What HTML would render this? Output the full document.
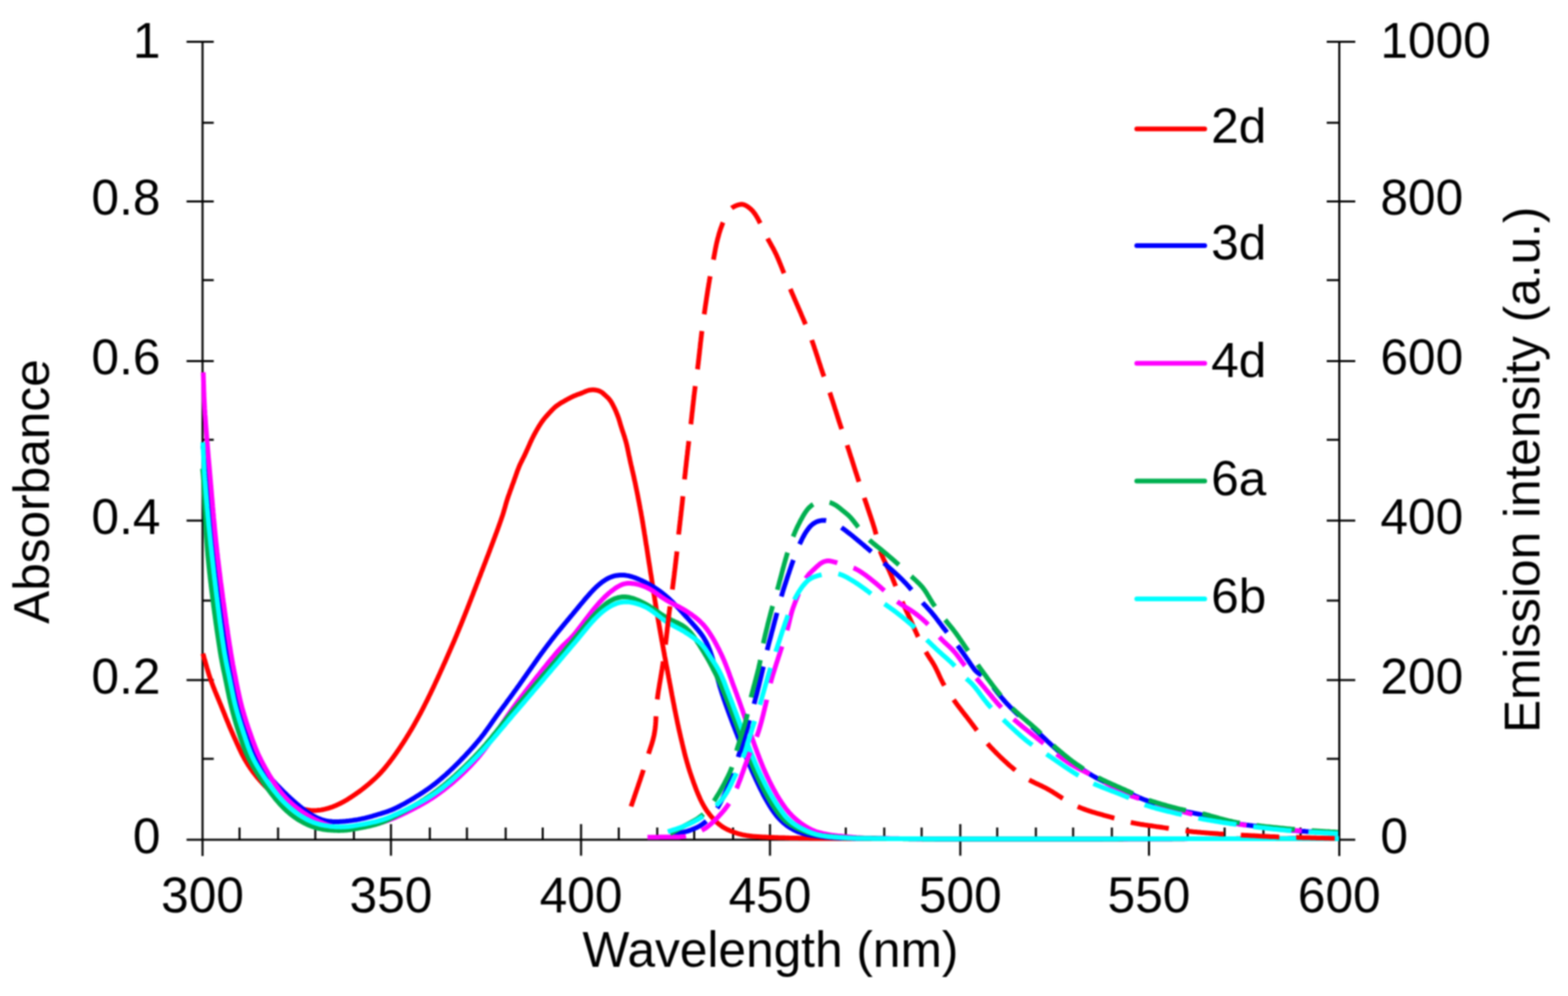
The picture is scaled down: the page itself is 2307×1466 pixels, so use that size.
<!DOCTYPE html>
<html><head><meta charset="utf-8"><title>Absorbance and emission spectra</title>
<style>
html,body{margin:0;padding:0;background:#fff;}
body{width:2307px;height:1466px;overflow:hidden;}
svg{display:block;filter:blur(0.8px);}
text{font-family:"Liberation Sans",Arial,sans-serif;fill:#000;}
</style></head><body>
<svg width="2307" height="1466" viewBox="0 0 2307 1466">
<rect width="2307" height="1466" fill="#fff"/>
<g stroke="#000" stroke-width="3" fill="none">
<line x1="298" y1="60" x2="298" y2="1260" />
<line x1="1970.5" y1="60" x2="1970.5" y2="1260" />
<line x1="274.5" y1="1236" x2="1971" y2="1236" />
<line x1="1952" y1="1236.0" x2="1994" y2="1236.0" />
<line x1="298" y1="1116.9" x2="314.5" y2="1116.9" />
<line x1="1952" y1="1116.9" x2="1970.5" y2="1116.9" />
<line x1="274.5" y1="1001.1" x2="314.5" y2="1001.1" />
<line x1="1952" y1="1001.1" x2="1994" y2="1001.1" />
<line x1="298" y1="884.0" x2="314.5" y2="884.0" />
<line x1="1952" y1="884.0" x2="1970.5" y2="884.0" />
<line x1="274.5" y1="766.3" x2="314.5" y2="766.3" />
<line x1="1952" y1="766.3" x2="1994" y2="766.3" />
<line x1="298" y1="647.3" x2="314.5" y2="647.3" />
<line x1="1952" y1="647.3" x2="1970.5" y2="647.3" />
<line x1="274.5" y1="531.4" x2="314.5" y2="531.4" />
<line x1="1952" y1="531.4" x2="1994" y2="531.4" />
<line x1="298" y1="412.3" x2="314.5" y2="412.3" />
<line x1="1952" y1="412.3" x2="1970.5" y2="412.3" />
<line x1="274.5" y1="296.5" x2="314.5" y2="296.5" />
<line x1="1952" y1="296.5" x2="1994" y2="296.5" />
<line x1="298" y1="180.7" x2="314.5" y2="180.7" />
<line x1="1952" y1="180.7" x2="1970.5" y2="180.7" />
<line x1="274.5" y1="61.6" x2="314.5" y2="61.6" />
<line x1="1952" y1="61.6" x2="1994" y2="61.6" />
<line x1="352.4" y1="1218" x2="352.4" y2="1236" />
<line x1="409.1" y1="1218" x2="409.1" y2="1236" />
<line x1="463.9" y1="1218" x2="463.9" y2="1236" />
<line x1="520.7" y1="1218" x2="520.7" y2="1236" />
<line x1="575.2" y1="1213" x2="575.2" y2="1259.5" />
<line x1="632.4" y1="1218" x2="632.4" y2="1236" />
<line x1="687.0" y1="1218" x2="687.0" y2="1236" />
<line x1="744.0" y1="1218" x2="744.0" y2="1236" />
<line x1="798.5" y1="1218" x2="798.5" y2="1236" />
<line x1="854.9" y1="1213" x2="854.9" y2="1259.5" />
<line x1="910.4" y1="1218" x2="910.4" y2="1236" />
<line x1="967.0" y1="1218" x2="967.0" y2="1236" />
<line x1="1021.4" y1="1218" x2="1021.4" y2="1236" />
<line x1="1078.6" y1="1218" x2="1078.6" y2="1236" />
<line x1="1132.9" y1="1213" x2="1132.9" y2="1259.5" />
<line x1="1189.9" y1="1218" x2="1189.9" y2="1236" />
<line x1="1244.4" y1="1218" x2="1244.4" y2="1236" />
<line x1="1301.0" y1="1218" x2="1301.0" y2="1236" />
<line x1="1356.0" y1="1218" x2="1356.0" y2="1236" />
<line x1="1412.9" y1="1213" x2="1412.9" y2="1259.5" />
<line x1="1467.2" y1="1218" x2="1467.2" y2="1236" />
<line x1="1524.1" y1="1218" x2="1524.1" y2="1236" />
<line x1="1578.9" y1="1218" x2="1578.9" y2="1236" />
<line x1="1635.9" y1="1218" x2="1635.9" y2="1236" />
<line x1="1690.5" y1="1213" x2="1690.5" y2="1259.5" />
<line x1="1747.4" y1="1218" x2="1747.4" y2="1236" />
<line x1="1801.8" y1="1218" x2="1801.8" y2="1236" />
<line x1="1858.9" y1="1218" x2="1858.9" y2="1236" />
<line x1="1913.5" y1="1218" x2="1913.5" y2="1236" />
</g>
<path d="M298.5,962.0L299.1,963.9 299.6,965.8 300.2,967.8 300.7,969.7 301.3,971.6 301.8,973.5 302.3,975.5 302.9,977.4 303.4,979.3 304.0,981.2 304.5,983.2 305.1,985.1 305.7,987.0 306.2,988.9 306.8,990.8 307.4,992.7 308.0,994.6 308.6,996.5 309.3,998.4 309.9,1000.3 310.6,1002.2 311.3,1004.1 312.0,1006.0 312.7,1007.8 313.4,1009.7 314.1,1011.6 314.9,1013.4 315.6,1015.3 316.3,1017.1 317.1,1019.0 317.9,1020.8 318.6,1022.7 319.4,1024.5 320.2,1026.4 320.9,1028.2 321.7,1030.1 322.5,1031.9 323.2,1033.8 324.0,1035.6 324.8,1037.5 325.5,1039.3 326.3,1041.2 327.0,1043.0 327.8,1044.9 328.5,1046.7 329.3,1048.6 330.0,1050.4 330.8,1052.3 331.5,1054.2 332.2,1056.0 333.0,1057.9 333.7,1059.7 334.5,1061.6 335.3,1063.4 336.0,1065.3 336.8,1067.1 337.5,1069.0 338.3,1070.8 339.1,1072.7 339.9,1074.5 340.7,1076.3 341.5,1078.2 342.3,1080.0 343.1,1081.8 343.9,1083.6 344.7,1085.5 345.5,1087.3 346.4,1089.1 347.2,1091.0 348.0,1092.8 348.8,1094.6 349.6,1096.4 350.5,1098.2 351.3,1100.1 352.1,1101.9 353.0,1103.7 353.9,1105.5 354.7,1107.3 355.6,1109.1 356.5,1110.9 357.4,1112.6 358.4,1114.4 359.3,1116.2 360.3,1117.9 361.3,1119.6 362.3,1121.4 363.4,1123.1 364.4,1124.8 365.5,1126.5 366.6,1128.1 367.7,1129.8 368.8,1131.4 370.0,1133.1 371.1,1134.7 372.3,1136.3 373.5,1137.9 374.8,1139.5 376.0,1141.1 377.2,1142.6 378.5,1144.2 379.8,1145.7 381.1,1147.2 382.4,1148.7 383.7,1150.2 385.1,1151.7 386.4,1153.2 387.8,1154.6 389.2,1156.0 390.6,1157.5 392.1,1158.9 393.5,1160.2 395.0,1161.6 396.5,1162.9 398.0,1164.3 399.5,1165.6 401.0,1166.8 402.6,1168.1 404.2,1169.3 405.7,1170.6 407.3,1171.7 409.0,1172.9 410.6,1174.1 412.3,1175.2 413.9,1176.3 415.6,1177.4 417.3,1178.4 419.0,1179.4 420.8,1180.4 422.5,1181.4 424.3,1182.3 426.1,1183.2 427.9,1184.1 429.7,1184.9 431.5,1185.8 433.4,1186.5 435.2,1187.3 437.1,1188.0 439.0,1188.6 440.9,1189.2 442.8,1189.8 444.7,1190.4 446.6,1190.9 448.6,1191.4 450.5,1191.8 452.5,1192.1 454.5,1192.4 456.5,1192.7 458.5,1192.9 460.5,1193.0 462.5,1193.0 464.4,1192.9 466.4,1192.8 468.4,1192.6 470.4,1192.4 472.4,1192.1 474.4,1191.7 476.3,1191.3 478.3,1190.9 480.2,1190.4 482.1,1189.9 484.1,1189.3 486.0,1188.7 487.9,1188.1 489.7,1187.4 491.6,1186.6 493.4,1185.9 495.3,1185.1 497.1,1184.2 498.9,1183.4 500.7,1182.5 502.5,1181.6 504.3,1180.7 506.0,1179.7 507.7,1178.7 509.5,1177.7 511.2,1176.7 512.9,1175.6 514.6,1174.6 516.2,1173.5 517.9,1172.4 519.6,1171.3 521.2,1170.1 522.9,1169.0 524.5,1167.9 526.2,1166.7 527.8,1165.6 529.4,1164.4 531.0,1163.2 532.6,1162.0 534.2,1160.8 535.8,1159.5 537.3,1158.3 538.9,1157.0 540.4,1155.7 542.0,1154.5 543.5,1153.2 545.0,1151.9 546.5,1150.5 548.0,1149.2 549.5,1147.9 551.0,1146.5 552.4,1145.2 553.9,1143.8 555.3,1142.4 556.7,1141.0 558.1,1139.5 559.5,1138.1 560.8,1136.6 562.1,1135.1 563.5,1133.6 564.8,1132.1 566.1,1130.6 567.4,1129.0 568.6,1127.5 569.9,1125.9 571.1,1124.4 572.4,1122.8 573.6,1121.2 574.8,1119.6 576.0,1118.0 577.2,1116.4 578.4,1114.8 579.6,1113.2 580.7,1111.6 581.9,1109.9 583.0,1108.3 584.2,1106.7 585.3,1105.0 586.5,1103.4 587.6,1101.7 588.7,1100.1 589.8,1098.4 590.9,1096.7 592.0,1095.0 593.1,1093.4 594.2,1091.7 595.2,1090.0 596.3,1088.3 597.4,1086.6 598.4,1084.9 599.5,1083.2 600.5,1081.5 601.6,1079.8 602.6,1078.1 603.6,1076.4 604.7,1074.7 605.7,1072.9 606.7,1071.2 607.7,1069.5 608.7,1067.7 609.7,1066.0 610.7,1064.3 611.6,1062.5 612.6,1060.8 613.6,1059.0 614.6,1057.3 615.5,1055.5 616.5,1053.8 617.4,1052.0 618.4,1050.2 619.3,1048.5 620.2,1046.7 621.2,1044.9 622.1,1043.2 623.0,1041.4 623.9,1039.6 624.8,1037.8 625.7,1036.0 626.6,1034.2 627.5,1032.5 628.4,1030.7 629.3,1028.9 630.2,1027.1 631.0,1025.3 631.9,1023.5 632.8,1021.7 633.7,1019.9 634.5,1018.1 635.4,1016.3 636.2,1014.5 637.1,1012.7 638.0,1010.9 638.8,1009.0 639.7,1007.2 640.5,1005.4 641.3,1003.6 642.2,1001.8 643.0,1000.0 643.9,998.2 644.7,996.3 645.5,994.5 646.4,992.7 647.2,990.9 648.0,989.1 648.8,987.2 649.7,985.4 650.5,983.6 651.3,981.8 652.1,979.9 652.9,978.1 653.8,976.3 654.6,974.5 655.4,972.6 656.2,970.8 657.0,969.0 657.8,967.1 658.6,965.3 659.4,963.5 660.2,961.7 661.0,959.8 661.8,958.0 662.6,956.2 663.4,954.3 664.2,952.5 665.0,950.7 665.8,948.8 666.6,947.0 667.4,945.1 668.2,943.3 669.0,941.5 669.7,939.6 670.5,937.8 671.3,935.9 672.1,934.1 672.8,932.2 673.6,930.4 674.4,928.6 675.1,926.7 675.9,924.9 676.6,923.0 677.4,921.2 678.2,919.3 678.9,917.4 679.7,915.6 680.4,913.7 681.2,911.9 681.9,910.0 682.6,908.2 683.4,906.3 684.1,904.5 684.9,902.6 685.6,900.7 686.3,898.9 687.1,897.0 687.8,895.2 688.5,893.3 689.3,891.4 690.0,889.6 690.7,887.7 691.4,885.8 692.2,884.0 692.9,882.1 693.6,880.2 694.3,878.4 695.1,876.5 695.8,874.7 696.5,872.8 697.2,870.9 697.9,869.1 698.7,867.2 699.4,865.3 700.1,863.5 700.8,861.6 701.5,859.7 702.3,857.9 703.0,856.0 703.7,854.1 704.4,852.3 705.1,850.4 705.9,848.5 706.6,846.7 707.3,844.8 708.0,842.9 708.7,841.1 709.5,839.2 710.2,837.3 710.9,835.5 711.6,833.6 712.3,831.7 713.1,829.9 713.8,828.0 714.5,826.1 715.2,824.3 715.9,822.4 716.6,820.5 717.3,818.7 718.1,816.8 718.8,814.9 719.5,813.1 720.2,811.2 720.9,809.3 721.6,807.4 722.3,805.6 723.0,803.7 723.7,801.8 724.4,800.0 725.1,798.1 725.8,796.2 726.5,794.3 727.2,792.5 727.9,790.6 728.6,788.7 729.3,786.8 730.0,785.0 730.7,783.1 731.4,781.2 732.1,779.3 732.8,777.4 733.4,775.6 734.1,773.7 734.8,771.8 735.5,769.9 736.1,768.0 736.8,766.1 737.4,764.3 738.1,762.4 738.7,760.5 739.4,758.6 740.0,756.7 740.6,754.8 741.2,752.8 741.7,750.9 742.3,749.0 742.8,747.1 743.4,745.2 743.9,743.2 744.5,741.3 745.0,739.4 745.6,737.5 746.2,735.6 746.8,733.7 747.5,731.8 748.1,729.9 748.8,728.0 749.5,726.1 750.1,724.2 750.8,722.3 751.5,720.5 752.2,718.6 752.9,716.7 753.5,714.8 754.2,713.0 754.9,711.1 755.6,709.2 756.3,707.3 756.9,705.4 757.6,703.5 758.3,701.6 758.9,699.8 759.6,697.9 760.3,696.0 760.9,694.1 761.6,692.2 762.4,690.4 763.1,688.5 763.8,686.7 764.6,684.8 765.4,683.0 766.3,681.2 767.2,679.4 768.1,677.6 769.0,675.8 769.9,674.0 770.8,672.2 771.7,670.5 772.5,668.6 773.4,666.8 774.2,665.0 775.0,663.2 775.8,661.4 776.7,659.5 777.5,657.7 778.3,655.9 779.1,654.1 779.9,652.2 780.7,650.4 781.6,648.6 782.4,646.8 783.3,645.0 784.2,643.2 785.1,641.4 786.0,639.6 787.0,637.9 787.9,636.1 788.9,634.4 789.9,632.6 790.9,630.9 791.9,629.2 792.9,627.5 794.0,625.8 795.1,624.1 796.2,622.4 797.3,620.8 798.5,619.2 799.7,617.6 800.9,616.0 802.2,614.5 803.5,613.0 804.9,611.5 806.2,610.0 807.6,608.5 808.9,607.0 810.3,605.6 811.6,604.1 813.0,602.7 814.5,601.3 815.9,599.9 817.4,598.6 819.0,597.4 820.6,596.2 822.3,595.1 823.9,594.0 825.6,592.9 827.4,591.9 829.1,590.9 830.8,589.9 832.6,589.0 834.3,588.0 836.1,587.0 837.9,586.1 839.6,585.2 841.4,584.3 843.2,583.4 845.1,582.6 846.9,581.9 848.8,581.1 850.6,580.4 852.5,579.8 854.4,579.1 856.3,578.4 858.1,577.6 860.0,576.8 861.8,576.0 863.7,575.3 865.5,574.7 867.5,574.2 869.4,573.9 871.4,573.8 873.4,573.8 875.4,574.0 877.4,574.3 879.3,574.7 881.2,575.3 883.0,576.1 884.7,577.0 886.4,578.2 887.9,579.5 889.4,580.8 890.9,582.1 892.3,583.5 893.8,584.9 895.2,586.3 896.5,587.8 897.7,589.4 898.9,591.0 899.9,592.7 900.9,594.4 901.8,596.2 902.7,598.0 903.6,599.8 904.5,601.6 905.3,603.4 906.1,605.2 906.9,607.1 907.6,608.9 908.4,610.8 909.1,612.7 909.8,614.5 910.4,616.4 911.0,618.3 911.6,620.3 912.2,622.2 912.7,624.1 913.3,626.0 913.9,627.9 914.5,629.8 915.1,631.7 915.7,633.6 916.3,635.5 917.0,637.4 917.6,639.3 918.2,641.2 918.9,643.1 919.4,645.0 920.0,647.0 920.6,648.9 921.1,650.8 921.6,652.7 922.1,654.7 922.5,656.6 923.0,658.6 923.4,660.5 923.8,662.5 924.2,664.4 924.6,666.4 925.0,668.4 925.4,670.3 925.9,672.3 926.3,674.2 926.7,676.2 927.1,678.1 927.5,680.1 928.0,682.1 928.4,684.0 928.9,686.0 929.3,687.9 929.8,689.9 930.2,691.8 930.7,693.7 931.1,695.7 931.6,697.6 932.0,699.6 932.5,701.5 932.9,703.5 933.3,705.5 933.7,707.4 934.2,709.4 934.6,711.3 935.0,713.3 935.4,715.2 935.8,717.2 936.2,719.2 936.6,721.1 937.0,723.1 937.4,725.0 937.8,727.0 938.2,729.0 938.6,730.9 938.9,732.9 939.3,734.8 939.7,736.8 940.1,738.8 940.5,740.7 940.8,742.7 941.2,744.7 941.6,746.6 941.9,748.6 942.3,750.6 942.7,752.5 943.0,754.5 943.4,756.5 943.7,758.4 944.1,760.4 944.4,762.4 944.8,764.3 945.1,766.3 945.4,768.3 945.8,770.3 946.1,772.2 946.4,774.2 946.7,776.2 947.1,778.2 947.4,780.1 947.7,782.1 948.0,784.1 948.3,786.1 948.7,788.0 949.0,790.0 949.3,792.0 949.6,794.0 949.9,795.9 950.2,797.9 950.5,799.9 950.8,801.9 951.2,803.8 951.5,805.8 951.8,807.8 952.1,809.8 952.4,811.7 952.7,813.7 953.0,815.7 953.3,817.7 953.6,819.6 953.9,821.6 954.2,823.6 954.5,825.6 954.8,827.5 955.1,829.5 955.5,831.5 955.8,833.5 956.1,835.4 956.4,837.4 956.7,839.4 957.0,841.4 957.3,843.4 957.6,845.3 958.0,847.3 958.3,849.3 958.6,851.3 958.9,853.2 959.2,855.2 959.5,857.2 959.8,859.2 960.1,861.1 960.4,863.1 960.7,865.1 961.0,867.1 961.3,869.0 961.6,871.0 961.9,873.0 962.2,875.0 962.6,876.9 962.9,878.9 963.2,880.9 963.5,882.9 963.8,884.8 964.1,886.8 964.4,888.8 964.8,890.8 965.1,892.7 965.4,894.7 965.7,896.7 966.1,898.7 966.4,900.6 966.7,902.6 967.1,904.6 967.4,906.6 967.8,908.5 968.1,910.5 968.4,912.5 968.8,914.4 969.1,916.4 969.5,918.4 969.8,920.3 970.1,922.3 970.5,924.3 970.8,926.3 971.2,928.2 971.5,930.2 971.9,932.2 972.2,934.1 972.6,936.1 972.9,938.1 973.3,940.0 973.6,942.0 974.0,944.0 974.4,945.9 974.7,947.9 975.1,949.9 975.4,951.8 975.8,953.8 976.1,955.8 976.5,957.8 976.9,959.7 977.2,961.7 977.6,963.7 977.9,965.6 978.3,967.6 978.7,969.6 979.0,971.5 979.4,973.5 979.8,975.5 980.1,977.4 980.5,979.4 980.9,981.4 981.2,983.3 981.6,985.3 982.0,987.2 982.4,989.2 982.7,991.2 983.1,993.1 983.5,995.1 983.8,997.1 984.2,999.0 984.6,1001.0 984.9,1003.0 985.3,1004.9 985.7,1006.9 986.1,1008.9 986.4,1010.8 986.8,1012.8 987.2,1014.8 987.5,1016.7 987.9,1018.7 988.3,1020.7 988.6,1022.6 989.0,1024.6 989.4,1026.6 989.8,1028.5 990.1,1030.5 990.5,1032.4 990.9,1034.4 991.3,1036.4 991.7,1038.3 992.0,1040.3 992.4,1042.3 992.8,1044.2 993.2,1046.2 993.6,1048.1 994.0,1050.1 994.4,1052.1 994.8,1054.0 995.2,1056.0 995.6,1057.9 996.0,1059.9 996.4,1061.9 996.8,1063.8 997.2,1065.8 997.7,1067.7 998.1,1069.7 998.5,1071.6 998.9,1073.6 999.4,1075.5 999.8,1077.5 1000.3,1079.4 1000.7,1081.4 1001.2,1083.3 1001.6,1085.3 1002.1,1087.2 1002.5,1089.2 1003.0,1091.1 1003.5,1093.1 1003.9,1095.0 1004.4,1097.0 1004.8,1098.9 1005.3,1100.9 1005.8,1102.8 1006.3,1104.7 1006.7,1106.7 1007.2,1108.6 1007.7,1110.6 1008.2,1112.5 1008.7,1114.4 1009.3,1116.4 1009.8,1118.3 1010.3,1120.2 1010.8,1122.1 1011.4,1124.1 1012.0,1126.0 1012.5,1127.9 1013.1,1129.8 1013.7,1131.7 1014.3,1133.6 1014.9,1135.5 1015.5,1137.4 1016.2,1139.3 1016.8,1141.2 1017.5,1143.1 1018.1,1145.0 1018.8,1146.9 1019.5,1148.8 1020.1,1150.7 1020.8,1152.6 1021.5,1154.4 1022.2,1156.3 1022.9,1158.2 1023.6,1160.1 1024.3,1161.9 1025.0,1163.8 1025.8,1165.6 1026.5,1167.5 1027.3,1169.3 1028.1,1171.2 1028.9,1173.0 1029.7,1174.8 1030.5,1176.7 1031.4,1178.5 1032.3,1180.3 1033.2,1182.0 1034.1,1183.8 1035.1,1185.6 1036.1,1187.3 1037.1,1189.0 1038.2,1190.7 1039.3,1192.4 1040.4,1194.0 1041.6,1195.6 1042.8,1197.2 1044.0,1198.8 1045.3,1200.4 1046.5,1201.9 1047.9,1203.4 1049.2,1204.9 1050.6,1206.3 1052.0,1207.7 1053.4,1209.1 1054.9,1210.5 1056.4,1211.8 1057.9,1213.1 1059.5,1214.3 1061.1,1215.5 1062.7,1216.7 1064.4,1217.8 1066.1,1218.8 1067.9,1219.7 1069.7,1220.7 1071.5,1221.5 1073.3,1222.3 1075.1,1223.1 1077.0,1223.8 1078.9,1224.6 1080.7,1225.2 1082.6,1225.9 1084.5,1226.5 1086.4,1227.1 1088.4,1227.6 1090.3,1228.1 1092.3,1228.6 1094.2,1229.0 1096.2,1229.3 1098.1,1229.7 1100.1,1230.0 1102.1,1230.3 1104.1,1230.5 1106.1,1230.8 1108.1,1231.0 1110.1,1231.2 1112.0,1231.3 1114.0,1231.5 1116.0,1231.6 1118.0,1231.7 1120.0,1231.8 1122.0,1231.9 1124.0,1232.0 1126.0,1232.1 1128.0,1232.2 1130.0,1232.3 1132.0,1232.4 1134.0,1232.4 1136.0,1232.5 1138.0,1232.6 1140.0,1232.7 1142.0,1232.7 1144.0,1232.8 1146.0,1232.9 1148.0,1232.9 1150.0,1233.0 1152.0,1233.1 1154.0,1233.1 1156.0,1233.2 1158.0,1233.3 1160.0,1233.3 1162.0,1233.4 1164.0,1233.4 1166.0,1233.5 1168.0,1233.5 1170.0,1233.6 1172.0,1233.6 1174.0,1233.6 1176.0,1233.7 1178.0,1233.7 1180.0,1233.7 1182.0,1233.8 1184.0,1233.8 1186.0,1233.8 1188.0,1233.8 1190.0,1233.8 1192.0,1233.9 1194.0,1233.9 1196.0,1233.9 1198.0,1233.9 1200.0,1233.9 1202.0,1233.9 1204.0,1234.0 1206.0,1234.0 1208.0,1234.0 1210.0,1234.0 1212.0,1234.0 1214.0,1234.0 1216.0,1234.0 1218.0,1234.0 1220.0,1234.0 1222.0,1234.0 1224.0,1234.1 1226.0,1234.1 1228.0,1234.1 1230.0,1234.1 1232.0,1234.1 1234.0,1234.1 1236.0,1234.1 1238.0,1234.1 1240.0,1234.1 1242.0,1234.2 1244.0,1234.2 1246.0,1234.2 1248.0,1234.2 1250.0,1234.2 1252.0,1234.2 1254.0,1234.2 1256.0,1234.2 1258.0,1234.2 1260.0,1234.3 1262.0,1234.3 1264.0,1234.3 1266.0,1234.3 1268.0,1234.3 1270.0,1234.3 1272.0,1234.3 1274.0,1234.3 1276.0,1234.3 1278.0,1234.3 1280.0,1234.3 1282.0,1234.3 1284.0,1234.4 1286.0,1234.4 1288.0,1234.4 1290.0,1234.4 1292.0,1234.4 1294.0,1234.4 1296.0,1234.4 1298.0,1234.4 1300.0,1234.4 1302.0,1234.4 1304.0,1234.4 1306.0,1234.4 1308.0,1234.4 1310.0,1234.4 1312.0,1234.4 1314.0,1234.4 1316.0,1234.4 1318.0,1234.5 1320.0,1234.5 1322.0,1234.5 1324.0,1234.5 1326.0,1234.5 1328.0,1234.5 1330.0,1234.5 1332.0,1234.5 1334.0,1234.5 1336.0,1234.5 1338.0,1234.5 1340.0,1234.5 1342.0,1234.5 1344.0,1234.5 1346.0,1234.5 1348.0,1234.5 1350.0,1234.5 1352.0,1234.5 1354.0,1234.5 1356.0,1234.5 1358.0,1234.5 1360.0,1234.5 1362.0,1234.5 1364.0,1234.5 1366.0,1234.5 1368.0,1234.5 1370.0,1234.5 1372.0,1234.5 1374.0,1234.5 1376.0,1234.5 1378.0,1234.5 1380.0,1234.5 1382.0,1234.5 1384.0,1234.5 1386.0,1234.5 1388.0,1234.5 1390.0,1234.5 1392.0,1234.6 1394.0,1234.6 1396.0,1234.6 1398.0,1234.6 1400.0,1234.6 1402.0,1234.6 1404.0,1234.6 1406.0,1234.6 1408.0,1234.6 1410.0,1234.6 1412.0,1234.6 1414.0,1234.6 1416.0,1234.6 1418.0,1234.6 1420.0,1234.6 1422.0,1234.6 1424.0,1234.6 1426.0,1234.6 1428.0,1234.6 1430.0,1234.6 1432.0,1234.6 1434.0,1234.6 1436.0,1234.6 1438.0,1234.6 1440.0,1234.6 1442.0,1234.6 1444.0,1234.6 1446.0,1234.6 1448.0,1234.6 1450.0,1234.6 1452.0,1234.6 1454.0,1234.6 1456.0,1234.6 1458.0,1234.6 1460.0,1234.6 1462.0,1234.6 1464.0,1234.6 1466.0,1234.6 1468.0,1234.6 1470.0,1234.6 1472.0,1234.6 1474.0,1234.6 1476.0,1234.6 1478.0,1234.6 1480.0,1234.6 1482.0,1234.6 1484.0,1234.6 1486.0,1234.6 1488.0,1234.6 1490.0,1234.6 1492.0,1234.6 1494.0,1234.6 1496.0,1234.6 1498.0,1234.6 1500.0,1234.6 1502.0,1234.6 1504.0,1234.6 1506.0,1234.6 1508.0,1234.6 1510.0,1234.6 1512.0,1234.6 1514.0,1234.6 1516.0,1234.6 1518.0,1234.6 1520.0,1234.6 1522.0,1234.6 1524.0,1234.6 1526.0,1234.6 1528.0,1234.6 1530.0,1234.6 1532.0,1234.6 1534.0,1234.6 1536.0,1234.6 1538.0,1234.6 1540.0,1234.5 1542.0,1234.5 1544.0,1234.5 1546.0,1234.5 1548.0,1234.5 1550.0,1234.5 1552.0,1234.5 1554.0,1234.5 1556.0,1234.5 1558.0,1234.5 1560.0,1234.5 1562.0,1234.5 1564.0,1234.5 1566.0,1234.5 1568.0,1234.5 1570.0,1234.5 1572.0,1234.5 1574.0,1234.5 1576.0,1234.5 1578.0,1234.5 1580.0,1234.5 1582.0,1234.5 1584.0,1234.5 1586.0,1234.5 1588.0,1234.5 1590.0,1234.5 1592.0,1234.5 1594.0,1234.5 1596.0,1234.5 1598.0,1234.5 1600.0,1234.5 1602.0,1234.5 1604.0,1234.5 1606.0,1234.5 1608.0,1234.5 1610.0,1234.5 1612.0,1234.5 1614.0,1234.5 1616.0,1234.5 1618.0,1234.5 1620.0,1234.5 1622.0,1234.5 1624.0,1234.5 1626.0,1234.5 1628.0,1234.5 1630.0,1234.5 1632.0,1234.5 1634.0,1234.5 1636.0,1234.5 1638.0,1234.5 1640.0,1234.5 1642.0,1234.5 1644.0,1234.5 1646.0,1234.5 1648.0,1234.5 1650.0,1234.5 1652.0,1234.5 1654.0,1234.5 1656.0,1234.5 1658.0,1234.5 1660.0,1234.5 1662.0,1234.5 1664.0,1234.5 1666.0,1234.5 1668.0,1234.5 1670.0,1234.5 1672.0,1234.5 1674.0,1234.5 1676.0,1234.5 1678.0,1234.5 1680.0,1234.5 1682.0,1234.5 1684.0,1234.5 1686.0,1234.5 1688.0,1234.4 1690.0,1234.4 1692.0,1234.4 1694.0,1234.4 1696.0,1234.4 1698.0,1234.4 1700.0,1234.4 1702.0,1234.4 1704.0,1234.4 1706.0,1234.4 1708.0,1234.4 1710.0,1234.4 1712.0,1234.4 1714.0,1234.4 1716.0,1234.4 1718.0,1234.4 1720.0,1234.4 1722.0,1234.4 1724.0,1234.4 1726.0,1234.4 1728.0,1234.4 1730.0,1234.4 1732.0,1234.4 1734.0,1234.4 1736.0,1234.4 1738.0,1234.4 1740.0,1234.4 1742.0,1234.4 1744.0,1234.4 1746.0,1234.4 1748.0,1234.4 1750.0,1234.4 1752.0,1234.4 1754.0,1234.4 1756.0,1234.4 1758.0,1234.4 1760.0,1234.4 1762.0,1234.4 1764.0,1234.4 1766.0,1234.4 1768.0,1234.4 1770.0,1234.4 1772.0,1234.4 1774.0,1234.4 1776.0,1234.4 1778.0,1234.4 1780.0,1234.4 1782.0,1234.4 1784.0,1234.4 1786.0,1234.4 1788.0,1234.4 1790.0,1234.4 1792.0,1234.4 1794.0,1234.4 1796.0,1234.4 1798.0,1234.4 1800.0,1234.4 1802.0,1234.4 1804.0,1234.4 1806.0,1234.4 1808.0,1234.4 1810.0,1234.4 1812.0,1234.4 1814.0,1234.4 1816.0,1234.4 1818.0,1234.4 1820.0,1234.3 1822.0,1234.3 1824.0,1234.3 1826.0,1234.3 1828.0,1234.3 1830.0,1234.3 1832.0,1234.3 1834.0,1234.3 1836.0,1234.3 1838.0,1234.3 1840.0,1234.3 1842.0,1234.3 1844.0,1234.3 1846.0,1234.3 1848.0,1234.3 1850.0,1234.3 1852.0,1234.3 1854.0,1234.3 1856.0,1234.3 1858.0,1234.3 1860.0,1234.3 1862.0,1234.3 1864.0,1234.3 1866.0,1234.3 1868.0,1234.3 1870.0,1234.3 1872.0,1234.3 1874.0,1234.3 1876.0,1234.3 1878.0,1234.3 1880.0,1234.3 1882.0,1234.3 1884.0,1234.3 1886.0,1234.3 1888.0,1234.3 1890.0,1234.3 1892.0,1234.3 1894.0,1234.3 1896.0,1234.3 1898.0,1234.3 1900.0,1234.3 1902.0,1234.3 1904.0,1234.3 1906.0,1234.3 1908.0,1234.3 1910.0,1234.3 1912.0,1234.3 1914.0,1234.3 1916.0,1234.3 1918.0,1234.3 1920.0,1234.3 1922.0,1234.3 1924.0,1234.3 1926.0,1234.3 1928.0,1234.3 1930.0,1234.3 1932.0,1234.3 1934.0,1234.3 1936.0,1234.3 1938.0,1234.3 1940.0,1234.3 1942.0,1234.3 1944.0,1234.3 1946.0,1234.3 1948.0,1234.3 1950.0,1234.3 1952.0,1234.3 1954.0,1234.3 1956.0,1234.3 1958.0,1234.3 1960.0,1234.3 1962.0,1234.3 1964.0,1234.3 1966.0,1234.3 1968.0,1234.3 1970.0,1234.3" stroke="#FF0000" stroke-width="7" fill="none" stroke-linejoin="round" stroke-linecap="butt"/>
<path d="M298.5,656.0L298.8,658.0 299.1,660.0 299.4,661.9 299.7,663.9 300.0,665.9 300.3,667.9 300.7,669.8 301.0,671.8 301.3,673.8 301.6,675.8 301.9,677.7 302.2,679.7 302.5,681.7 302.8,683.7 303.1,685.7 303.4,687.6 303.6,689.6 303.9,691.6 304.2,693.6 304.4,695.6 304.7,697.5 304.9,699.5 305.1,701.5 305.4,703.5 305.6,705.5 305.8,707.5 306.0,709.5 306.2,711.5 306.4,713.5 306.6,715.4 306.8,717.4 307.0,719.4 307.2,721.4 307.4,723.4 307.6,725.4 307.7,727.4 307.9,729.4 308.1,731.4 308.3,733.4 308.4,735.4 308.6,737.4 308.8,739.4 308.9,741.3 309.1,743.3 309.3,745.3 309.4,747.3 309.6,749.3 309.8,751.3 309.9,753.3 310.1,755.3 310.2,757.3 310.4,759.3 310.6,761.3 310.7,763.3 310.9,765.3 311.1,767.3 311.2,769.3 311.4,771.3 311.6,773.2 311.7,775.2 311.9,777.2 312.1,779.2 312.2,781.2 312.4,783.2 312.6,785.2 312.8,787.2 313.0,789.2 313.1,791.2 313.3,793.2 313.5,795.2 313.7,797.2 313.9,799.1 314.1,801.1 314.3,803.1 314.5,805.1 314.7,807.1 314.9,809.1 315.1,811.1 315.3,813.1 315.5,815.1 315.7,817.1 315.9,819.0 316.1,821.0 316.3,823.0 316.6,825.0 316.8,827.0 317.0,829.0 317.2,831.0 317.5,833.0 317.7,834.9 317.9,836.9 318.2,838.9 318.4,840.9 318.6,842.9 318.9,844.9 319.1,846.9 319.3,848.9 319.6,850.8 319.8,852.8 320.1,854.8 320.3,856.8 320.5,858.8 320.8,860.8 321.0,862.8 321.3,864.7 321.5,866.7 321.8,868.7 322.0,870.7 322.3,872.7 322.5,874.7 322.8,876.7 323.0,878.6 323.3,880.6 323.5,882.6 323.8,884.6 324.0,886.6 324.3,888.6 324.5,890.5 324.8,892.5 325.1,894.5 325.3,896.5 325.6,898.5 325.8,900.5 326.1,902.4 326.4,904.4 326.6,906.4 326.9,908.4 327.2,910.4 327.4,912.4 327.7,914.3 328.0,916.3 328.2,918.3 328.5,920.3 328.8,922.3 329.1,924.2 329.3,926.2 329.6,928.2 329.9,930.2 330.2,932.2 330.5,934.1 330.8,936.1 331.0,938.1 331.3,940.1 331.6,942.1 331.9,944.0 332.2,946.0 332.5,948.0 332.8,950.0 333.1,952.0 333.4,953.9 333.8,955.9 334.1,957.9 334.4,959.9 334.7,961.8 335.1,963.8 335.4,965.8 335.8,967.7 336.1,969.7 336.5,971.7 336.9,973.6 337.2,975.6 337.6,977.6 338.0,979.5 338.4,981.5 338.8,983.4 339.2,985.4 339.7,987.4 340.1,989.3 340.5,991.3 340.9,993.2 341.3,995.2 341.7,997.1 342.1,999.1 342.5,1001.1 342.9,1003.0 343.3,1005.0 343.6,1007.0 344.0,1008.9 344.4,1010.9 344.8,1012.9 345.1,1014.8 345.5,1016.8 345.9,1018.7 346.3,1020.7 346.7,1022.7 347.1,1024.6 347.5,1026.6 347.9,1028.6 348.3,1030.5 348.7,1032.5 349.2,1034.4 349.7,1036.4 350.1,1038.3 350.6,1040.2 351.1,1042.2 351.6,1044.1 352.2,1046.0 352.7,1048.0 353.3,1049.9 353.8,1051.8 354.4,1053.7 355.0,1055.6 355.6,1057.5 356.2,1059.4 356.8,1061.3 357.4,1063.3 358.0,1065.2 358.7,1067.1 359.3,1068.9 359.9,1070.8 360.6,1072.7 361.2,1074.6 361.9,1076.5 362.5,1078.4 363.2,1080.3 363.8,1082.2 364.5,1084.1 365.1,1086.0 365.8,1087.9 366.4,1089.8 367.0,1091.7 367.7,1093.6 368.3,1095.5 369.0,1097.3 369.6,1099.2 370.3,1101.1 371.0,1103.0 371.8,1104.8 372.5,1106.7 373.3,1108.5 374.1,1110.3 375.0,1112.2 375.9,1113.9 376.8,1115.7 377.7,1117.5 378.7,1119.2 379.8,1120.9 380.8,1122.6 381.9,1124.3 383.0,1125.9 384.2,1127.6 385.3,1129.2 386.5,1130.8 387.7,1132.4 388.9,1134.0 390.2,1135.6 391.4,1137.1 392.7,1138.7 393.9,1140.2 395.2,1141.8 396.5,1143.3 397.9,1144.8 399.2,1146.3 400.5,1147.8 401.9,1149.3 403.2,1150.7 404.6,1152.2 405.9,1153.7 407.3,1155.1 408.7,1156.6 410.1,1158.0 411.5,1159.4 412.9,1160.9 414.3,1162.3 415.7,1163.7 417.1,1165.1 418.5,1166.5 420.0,1167.9 421.4,1169.3 422.8,1170.7 424.3,1172.1 425.8,1173.4 427.2,1174.8 428.7,1176.1 430.2,1177.5 431.7,1178.8 433.2,1180.1 434.7,1181.5 436.2,1182.8 437.7,1184.1 439.2,1185.3 440.8,1186.6 442.3,1187.9 443.9,1189.1 445.5,1190.4 447.1,1191.6 448.7,1192.8 450.3,1194.0 451.9,1195.1 453.5,1196.3 455.2,1197.4 456.9,1198.5 458.6,1199.5 460.3,1200.5 462.0,1201.5 463.8,1202.4 465.6,1203.3 467.4,1204.1 469.2,1204.9 471.1,1205.6 473.0,1206.3 474.9,1206.9 476.8,1207.4 478.7,1207.9 480.7,1208.3 482.6,1208.6 484.6,1208.9 486.6,1209.1 488.6,1209.3 490.5,1209.4 492.5,1209.4 494.5,1209.4 496.5,1209.4 498.5,1209.4 500.5,1209.3 502.5,1209.2 504.5,1209.1 506.5,1208.9 508.5,1208.8 510.5,1208.6 512.5,1208.4 514.5,1208.1 516.5,1207.9 518.4,1207.6 520.4,1207.3 522.4,1207.0 524.4,1206.7 526.3,1206.4 528.3,1206.0 530.3,1205.6 532.2,1205.2 534.2,1204.8 536.1,1204.4 538.1,1203.9 540.0,1203.4 542.0,1202.9 543.9,1202.4 545.8,1201.8 547.7,1201.3 549.7,1200.7 551.6,1200.2 553.5,1199.6 555.4,1199.0 557.3,1198.4 559.2,1197.9 561.1,1197.3 563.1,1196.7 565.0,1196.1 566.9,1195.5 568.8,1194.9 570.7,1194.2 572.5,1193.5 574.4,1192.8 576.3,1192.1 578.1,1191.3 579.9,1190.5 581.7,1189.6 583.5,1188.8 585.3,1187.9 587.1,1187.0 588.9,1186.1 590.6,1185.1 592.4,1184.2 594.2,1183.2 595.9,1182.3 597.7,1181.3 599.4,1180.3 601.1,1179.3 602.9,1178.3 604.6,1177.3 606.3,1176.3 608.0,1175.2 609.7,1174.2 611.4,1173.1 613.1,1172.1 614.8,1171.0 616.5,1170.0 618.2,1168.9 619.9,1167.8 621.6,1166.7 623.2,1165.6 624.9,1164.5 626.5,1163.3 628.2,1162.2 629.8,1161.1 631.5,1159.9 633.1,1158.7 634.7,1157.5 636.3,1156.3 637.9,1155.1 639.5,1153.9 641.0,1152.7 642.6,1151.4 644.2,1150.2 645.7,1148.9 647.2,1147.6 648.8,1146.3 650.3,1145.0 651.8,1143.7 653.3,1142.4 654.8,1141.1 656.3,1139.8 657.8,1138.4 659.2,1137.1 660.7,1135.7 662.2,1134.3 663.6,1133.0 665.1,1131.6 666.5,1130.2 668.0,1128.8 669.4,1127.4 670.8,1126.0 672.2,1124.6 673.6,1123.2 675.1,1121.8 676.5,1120.3 677.9,1118.9 679.2,1117.5 680.6,1116.0 682.0,1114.6 683.4,1113.1 684.8,1111.7 686.1,1110.2 687.5,1108.7 688.9,1107.3 690.2,1105.8 691.6,1104.3 692.9,1102.8 694.2,1101.4 695.6,1099.9 696.9,1098.4 698.2,1096.9 699.5,1095.4 700.8,1093.8 702.1,1092.3 703.4,1090.8 704.7,1089.2 705.9,1087.7 707.2,1086.1 708.4,1084.5 709.6,1083.0 710.9,1081.4 712.1,1079.8 713.3,1078.2 714.4,1076.6 715.6,1074.9 716.8,1073.3 717.9,1071.7 719.1,1070.1 720.3,1068.4 721.4,1066.8 722.6,1065.2 723.7,1063.5 724.9,1061.9 726.0,1060.2 727.2,1058.6 728.3,1057.0 729.5,1055.3 730.6,1053.7 731.8,1052.1 733.0,1050.5 734.2,1048.9 735.3,1047.2 736.5,1045.6 737.7,1044.0 738.9,1042.4 740.1,1040.8 741.3,1039.2 742.5,1037.6 743.7,1036.0 744.8,1034.4 746.0,1032.7 747.2,1031.1 748.4,1029.5 749.6,1027.9 750.8,1026.3 751.9,1024.7 753.1,1023.1 754.3,1021.5 755.5,1019.8 756.6,1018.2 757.8,1016.6 759.0,1015.0 760.2,1013.4 761.3,1011.7 762.5,1010.1 763.7,1008.5 764.8,1006.8 766.0,1005.2 767.1,1003.6 768.3,1001.9 769.4,1000.3 770.6,998.7 771.7,997.0 772.9,995.4 774.0,993.8 775.2,992.1 776.3,990.5 777.5,988.8 778.6,987.2 779.8,985.6 780.9,983.9 782.1,982.3 783.2,980.6 784.4,979.0 785.5,977.4 786.7,975.7 787.8,974.1 789.0,972.5 790.1,970.8 791.3,969.2 792.4,967.6 793.6,966.0 794.8,964.3 795.9,962.7 797.1,961.1 798.3,959.5 799.5,957.9 800.7,956.2 801.9,954.6 803.1,953.0 804.3,951.4 805.5,949.8 806.7,948.2 807.9,946.7 809.1,945.1 810.3,943.5 811.5,941.9 812.8,940.3 814.0,938.8 815.2,937.2 816.5,935.6 817.7,934.0 819.0,932.5 820.2,930.9 821.5,929.4 822.8,927.8 824.0,926.3 825.3,924.7 826.5,923.2 827.8,921.6 829.1,920.1 830.4,918.5 831.6,917.0 832.9,915.5 834.2,913.9 835.5,912.4 836.8,910.9 838.1,909.3 839.3,907.8 840.6,906.2 841.9,904.7 843.2,903.2 844.4,901.6 845.7,900.1 847.0,898.5 848.3,897.0 849.5,895.5 850.8,893.9 852.1,892.4 853.3,890.8 854.6,889.3 855.9,887.7 857.2,886.2 858.5,884.7 859.7,883.1 861.0,881.6 862.3,880.1 863.6,878.6 865.0,877.1 866.3,875.6 867.6,874.1 868.9,872.6 870.3,871.1 871.7,869.7 873.1,868.2 874.5,866.8 875.9,865.4 877.3,864.0 878.8,862.7 880.3,861.3 881.8,860.0 883.4,858.8 884.9,857.5 886.5,856.3 888.2,855.2 889.8,854.1 891.5,853.0 893.2,852.0 895.0,851.1 896.8,850.2 898.6,849.5 900.4,848.8 902.3,848.2 904.2,847.7 906.2,847.2 908.1,846.9 910.1,846.7 912.1,846.5 914.1,846.4 916.0,846.5 918.0,846.6 920.0,846.8 922.0,847.1 923.9,847.4 925.9,847.8 927.8,848.3 929.7,848.9 931.6,849.5 933.5,850.1 935.4,850.8 937.2,851.6 939.1,852.3 940.9,853.1 942.7,853.9 944.5,854.7 946.4,855.6 948.1,856.5 949.9,857.4 951.7,858.3 953.5,859.3 955.2,860.2 957.0,861.2 958.7,862.2 960.4,863.3 962.1,864.3 963.8,865.4 965.4,866.5 967.1,867.6 968.7,868.8 970.4,869.9 972.0,871.1 973.6,872.3 975.1,873.5 976.7,874.8 978.3,876.0 979.8,877.3 981.3,878.6 982.8,879.9 984.3,881.2 985.8,882.6 987.2,884.0 988.7,885.4 990.1,886.8 991.5,888.2 992.9,889.6 994.3,891.1 995.7,892.5 997.0,894.0 998.4,895.4 999.8,896.9 1001.1,898.4 1002.5,899.9 1003.8,901.3 1005.1,902.8 1006.5,904.3 1007.8,905.8 1009.2,907.3 1010.5,908.7 1011.9,910.2 1013.2,911.7 1014.6,913.2 1015.9,914.7 1017.3,916.1 1018.6,917.6 1019.9,919.1 1021.3,920.6 1022.6,922.1 1023.9,923.6 1025.2,925.1 1026.5,926.6 1027.8,928.2 1029.0,929.7 1030.3,931.3 1031.5,932.9 1032.6,934.5 1033.8,936.2 1034.9,937.9 1035.9,939.5 1036.9,941.3 1037.9,943.0 1038.9,944.8 1039.8,946.5 1040.6,948.3 1041.5,950.1 1042.3,952.0 1043.0,953.8 1043.8,955.7 1044.5,957.5 1045.2,959.4 1045.8,961.3 1046.5,963.2 1047.1,965.1 1047.7,967.0 1048.3,968.9 1048.8,970.8 1049.4,972.8 1049.9,974.7 1050.4,976.6 1050.9,978.6 1051.4,980.5 1051.8,982.5 1052.3,984.4 1052.8,986.3 1053.3,988.3 1053.8,990.2 1054.2,992.2 1054.7,994.1 1055.2,996.1 1055.7,998.0 1056.2,999.9 1056.7,1001.9 1057.2,1003.8 1057.8,1005.7 1058.3,1007.6 1058.8,1009.6 1059.4,1011.5 1060.0,1013.4 1060.6,1015.3 1061.2,1017.2 1061.8,1019.1 1062.4,1021.0 1063.0,1022.9 1063.7,1024.8 1064.3,1026.7 1064.9,1028.6 1065.6,1030.5 1066.3,1032.4 1066.9,1034.3 1067.6,1036.2 1068.3,1038.1 1068.9,1039.9 1069.6,1041.8 1070.3,1043.7 1071.0,1045.6 1071.6,1047.5 1072.3,1049.3 1073.0,1051.2 1073.7,1053.1 1074.4,1055.0 1075.1,1056.8 1075.8,1058.7 1076.5,1060.6 1077.2,1062.5 1077.9,1064.3 1078.6,1066.2 1079.3,1068.1 1080.1,1069.9 1080.8,1071.8 1081.5,1073.7 1082.2,1075.5 1082.9,1077.4 1083.7,1079.3 1084.4,1081.1 1085.1,1083.0 1085.8,1084.9 1086.6,1086.7 1087.3,1088.6 1088.0,1090.5 1088.8,1092.3 1089.5,1094.2 1090.3,1096.0 1091.0,1097.9 1091.8,1099.7 1092.5,1101.6 1093.3,1103.4 1094.0,1105.3 1094.8,1107.1 1095.5,1109.0 1096.3,1110.8 1097.1,1112.7 1097.8,1114.5 1098.6,1116.4 1099.4,1118.2 1100.1,1120.1 1100.9,1121.9 1101.7,1123.8 1102.5,1125.6 1103.3,1127.4 1104.1,1129.3 1104.9,1131.1 1105.7,1132.9 1106.5,1134.8 1107.3,1136.6 1108.1,1138.4 1108.9,1140.2 1109.8,1142.1 1110.6,1143.9 1111.4,1145.7 1112.3,1147.5 1113.1,1149.3 1114.0,1151.1 1114.8,1153.0 1115.7,1154.8 1116.6,1156.6 1117.4,1158.4 1118.3,1160.2 1119.2,1162.0 1120.1,1163.7 1121.0,1165.5 1121.9,1167.3 1122.8,1169.1 1123.7,1170.9 1124.7,1172.6 1125.6,1174.4 1126.6,1176.1 1127.6,1177.9 1128.6,1179.6 1129.6,1181.4 1130.6,1183.1 1131.6,1184.8 1132.7,1186.5 1133.7,1188.2 1134.8,1189.9 1135.9,1191.5 1137.0,1193.2 1138.2,1194.8 1139.3,1196.4 1140.5,1198.0 1141.7,1199.6 1143.0,1201.2 1144.3,1202.7 1145.6,1204.2 1147.0,1205.7 1148.4,1207.1 1149.8,1208.5 1151.2,1209.8 1152.7,1211.2 1154.3,1212.4 1155.8,1213.7 1157.4,1214.9 1159.0,1216.1 1160.7,1217.2 1162.3,1218.3 1164.0,1219.3 1165.8,1220.3 1167.5,1221.3 1169.3,1222.2 1171.1,1223.1 1172.9,1223.9 1174.8,1224.6 1176.6,1225.3 1178.5,1226.0 1180.4,1226.6 1182.3,1227.1 1184.3,1227.6 1186.2,1228.1 1188.2,1228.5 1190.1,1228.9 1192.1,1229.2 1194.1,1229.5 1196.0,1229.8 1198.0,1230.1 1200.0,1230.4 1202.0,1230.6 1204.0,1230.8 1206.0,1231.1 1208.0,1231.3 1209.9,1231.5 1211.9,1231.7 1213.9,1231.9 1215.9,1232.1 1217.9,1232.2 1219.9,1232.4 1221.9,1232.6 1223.9,1232.7 1225.9,1232.8 1227.9,1233.0 1229.9,1233.1 1231.9,1233.2 1233.9,1233.3 1235.9,1233.4 1237.9,1233.5 1239.9,1233.5 1241.9,1233.6 1243.9,1233.6 1245.9,1233.7 1247.9,1233.7 1249.9,1233.8 1251.9,1233.8 1253.9,1233.8 1255.9,1233.9 1257.9,1233.9 1259.9,1233.9 1261.9,1233.9 1263.9,1234.0 1265.9,1234.0 1267.9,1234.0 1269.9,1234.0 1271.9,1234.0 1273.9,1234.0 1275.9,1234.1 1277.9,1234.1 1279.9,1234.1 1281.9,1234.1 1283.9,1234.1 1285.9,1234.1 1287.9,1234.2 1289.9,1234.2 1291.9,1234.2 1293.9,1234.2 1295.9,1234.3 1297.9,1234.3 1299.9,1234.3 1301.9,1234.3 1303.9,1234.3 1305.9,1234.4 1307.9,1234.4 1309.9,1234.4 1311.9,1234.4 1313.9,1234.5 1315.9,1234.5 1317.9,1234.5 1319.9,1234.5 1321.9,1234.5 1323.9,1234.6 1325.9,1234.6 1327.9,1234.6 1329.9,1234.6 1331.9,1234.6 1333.9,1234.6 1335.9,1234.6 1337.9,1234.7 1339.9,1234.7 1341.9,1234.7 1343.9,1234.7 1345.9,1234.7 1347.9,1234.7 1349.9,1234.7 1351.9,1234.7 1353.9,1234.8 1355.9,1234.8 1357.9,1234.8 1359.9,1234.8 1361.9,1234.8 1363.9,1234.8 1365.9,1234.8 1367.9,1234.8 1369.9,1234.8 1371.9,1234.8 1373.9,1234.8 1375.9,1234.9 1377.9,1234.9 1379.9,1234.9 1381.9,1234.9 1383.9,1234.9 1385.9,1234.9 1387.9,1234.9 1389.9,1234.9 1391.9,1234.9 1393.9,1234.9 1395.9,1234.9 1397.9,1234.9 1399.9,1234.9 1401.9,1234.9 1403.9,1234.9 1405.9,1234.9 1407.9,1234.9 1409.9,1234.9 1411.9,1235.0 1413.9,1235.0 1415.9,1235.0 1417.9,1235.0 1419.9,1235.0 1421.9,1235.0 1423.9,1235.0 1425.9,1235.0 1427.9,1235.0 1429.9,1235.0 1431.9,1235.0 1433.9,1235.0 1435.9,1235.0 1437.9,1235.0 1439.9,1235.0 1441.9,1235.0 1443.9,1235.0 1445.9,1235.0 1447.9,1235.0 1449.9,1235.0 1451.9,1235.0 1453.9,1235.0 1455.9,1235.0 1457.9,1235.0 1459.9,1235.0 1461.9,1235.0 1463.9,1235.0 1465.9,1235.0 1467.9,1235.0 1469.9,1235.0 1471.9,1235.0 1473.9,1235.0 1475.9,1235.0 1477.9,1235.0 1479.9,1235.0 1481.9,1235.0 1483.9,1235.0 1485.9,1235.0 1487.9,1235.0 1489.9,1235.0 1491.9,1235.0 1493.9,1235.0 1495.9,1235.0 1497.9,1235.0 1499.9,1235.0 1501.9,1235.0 1503.9,1235.0 1505.9,1235.0 1507.9,1235.0 1509.9,1235.0 1511.9,1235.0 1513.9,1235.0 1515.9,1235.0 1517.9,1235.0 1519.9,1235.0 1521.9,1235.0 1523.9,1235.0 1525.9,1235.0 1527.9,1235.0 1529.9,1235.0 1531.9,1235.0 1533.9,1235.0 1535.9,1235.0 1537.9,1235.0 1539.9,1235.0 1541.9,1235.0 1543.9,1235.0 1545.9,1235.0 1547.9,1235.0 1549.9,1235.0 1551.9,1235.0 1553.9,1235.0 1555.9,1235.0 1557.9,1234.9 1559.9,1234.9 1561.9,1234.9 1563.9,1234.9 1565.9,1234.9 1567.9,1234.9 1569.9,1234.9 1571.9,1234.9 1573.9,1234.9 1575.9,1234.9 1577.9,1234.9 1579.9,1234.9 1581.9,1234.9 1583.9,1234.9 1585.9,1234.9 1587.9,1234.9 1589.9,1234.9 1591.9,1234.9 1593.9,1234.9 1595.9,1234.9 1597.9,1234.9 1599.9,1234.9 1601.9,1234.9 1603.9,1234.9 1605.9,1234.9 1607.9,1234.9 1609.9,1234.9 1611.9,1234.9 1613.9,1234.9 1615.9,1234.9 1617.9,1234.9 1619.9,1234.9 1621.9,1234.9 1623.9,1234.8 1625.9,1234.8 1627.9,1234.8 1629.9,1234.8 1631.9,1234.8 1633.9,1234.8 1635.9,1234.8 1637.9,1234.8 1639.9,1234.8 1641.9,1234.8 1643.9,1234.8 1645.9,1234.8 1647.9,1234.8 1649.9,1234.8 1651.9,1234.8 1653.9,1234.8 1655.9,1234.8 1657.9,1234.8 1659.9,1234.8 1661.9,1234.8 1663.9,1234.8 1665.9,1234.8 1667.9,1234.8 1669.9,1234.8 1671.9,1234.8 1673.9,1234.8 1675.9,1234.7 1677.9,1234.7 1679.9,1234.7 1681.9,1234.7 1683.9,1234.7 1685.9,1234.7 1687.9,1234.7 1689.9,1234.7 1691.9,1234.7 1693.9,1234.7 1695.9,1234.7 1697.9,1234.7 1699.9,1234.7 1701.9,1234.7 1703.9,1234.7 1705.9,1234.7 1707.9,1234.7 1709.9,1234.7 1711.9,1234.7 1713.9,1234.7 1716.0,1234.7 1718.0,1234.7 1720.0,1234.7 1722.0,1234.7 1724.0,1234.7 1726.0,1234.6 1728.0,1234.6 1730.0,1234.6 1732.0,1234.6 1734.0,1234.6 1736.0,1234.6 1738.0,1234.6 1740.0,1234.6 1742.0,1234.6 1744.0,1234.6 1746.0,1234.6 1748.0,1234.6 1750.0,1234.6 1752.0,1234.6 1754.0,1234.6 1756.0,1234.6 1758.0,1234.6 1760.0,1234.6 1762.0,1234.6 1764.0,1234.6 1766.0,1234.6 1768.0,1234.6 1770.0,1234.6 1772.0,1234.6 1774.0,1234.5 1776.0,1234.5 1778.0,1234.5 1780.0,1234.5 1782.0,1234.5 1784.0,1234.5 1786.0,1234.5 1788.0,1234.5 1790.0,1234.5 1792.0,1234.5 1794.0,1234.5 1796.0,1234.5 1798.0,1234.5 1800.0,1234.5 1802.0,1234.5 1804.0,1234.5 1806.0,1234.5 1808.0,1234.5 1810.0,1234.5 1812.0,1234.5 1814.0,1234.5 1816.0,1234.5 1818.0,1234.5 1820.0,1234.5 1822.0,1234.5 1824.0,1234.5 1826.0,1234.5 1828.0,1234.4 1830.0,1234.4 1832.0,1234.4 1834.0,1234.4 1836.0,1234.4 1838.0,1234.4 1840.0,1234.4 1842.0,1234.4 1844.0,1234.4 1846.0,1234.4 1848.0,1234.4 1850.0,1234.4 1852.0,1234.4 1854.0,1234.4 1856.0,1234.4 1858.0,1234.4 1860.0,1234.4 1862.0,1234.4 1864.0,1234.4 1866.0,1234.4 1868.0,1234.4 1870.0,1234.4 1872.0,1234.4 1874.0,1234.4 1876.0,1234.4 1878.0,1234.4 1880.0,1234.4 1882.0,1234.4 1884.0,1234.4 1886.0,1234.4 1888.0,1234.4 1890.0,1234.4 1892.0,1234.4 1894.0,1234.4 1896.0,1234.3 1898.0,1234.3 1900.0,1234.3 1902.0,1234.3 1904.0,1234.3 1906.0,1234.3 1908.0,1234.3 1910.0,1234.3 1912.0,1234.3 1914.0,1234.3 1916.0,1234.3 1918.0,1234.3 1920.0,1234.3 1922.0,1234.3 1924.0,1234.3 1926.0,1234.3 1928.0,1234.3 1930.0,1234.3 1932.0,1234.3 1934.0,1234.3 1936.0,1234.3 1938.0,1234.3 1940.0,1234.3 1942.0,1234.3 1944.0,1234.3 1946.0,1234.3 1948.0,1234.3 1950.0,1234.3 1952.0,1234.3 1954.0,1234.3 1956.0,1234.3 1958.0,1234.3 1960.0,1234.3 1962.0,1234.3 1964.0,1234.3 1966.0,1234.3 1968.0,1234.3 1970.0,1234.3" stroke="#0000FF" stroke-width="7" fill="none" stroke-linejoin="round" stroke-linecap="butt"/>
<path d="M299.0,548.0L299.1,550.0 299.1,552.0 299.2,554.0 299.3,556.0 299.3,558.0 299.4,560.0 299.5,562.0 299.5,564.0 299.6,566.0 299.7,568.0 299.7,570.0 299.8,572.0 299.8,574.0 299.9,576.0 300.0,578.0 300.1,580.0 300.1,582.0 300.2,584.0 300.3,586.0 300.4,588.0 300.5,590.0 300.6,592.0 300.7,594.0 300.8,596.0 300.9,598.0 301.0,600.0 301.1,602.0 301.3,604.0 301.4,606.0 301.5,608.0 301.6,610.0 301.8,612.0 301.9,613.9 302.1,615.9 302.2,617.9 302.3,619.9 302.5,621.9 302.6,623.9 302.8,625.9 302.9,627.9 303.1,629.9 303.2,631.9 303.4,633.9 303.6,635.9 303.7,637.9 303.9,639.9 304.0,641.9 304.2,643.9 304.4,645.9 304.5,647.9 304.7,649.9 304.9,651.8 305.0,653.8 305.2,655.8 305.4,657.8 305.5,659.8 305.7,661.8 305.9,663.8 306.0,665.8 306.2,667.8 306.4,669.8 306.5,671.8 306.7,673.8 306.9,675.8 307.1,677.8 307.2,679.8 307.4,681.7 307.6,683.7 307.8,685.7 307.9,687.7 308.1,689.7 308.3,691.7 308.5,693.7 308.6,695.7 308.8,697.7 309.0,699.7 309.1,701.7 309.3,703.7 309.5,705.7 309.7,707.7 309.8,709.6 310.0,711.6 310.2,713.6 310.3,715.6 310.5,717.6 310.7,719.6 310.9,721.6 311.0,723.6 311.2,725.6 311.4,727.6 311.5,729.6 311.7,731.6 311.9,733.6 312.1,735.6 312.2,737.6 312.4,739.5 312.6,741.5 312.8,743.5 312.9,745.5 313.1,747.5 313.3,749.5 313.5,751.5 313.6,753.5 313.8,755.5 314.0,757.5 314.2,759.5 314.3,761.5 314.5,763.5 314.7,765.5 314.9,767.4 315.1,769.4 315.3,771.4 315.5,773.4 315.6,775.4 315.8,777.4 316.0,779.4 316.2,781.4 316.4,783.4 316.6,785.4 316.8,787.4 317.0,789.3 317.2,791.3 317.4,793.3 317.6,795.3 317.8,797.3 318.0,799.3 318.2,801.3 318.5,803.3 318.7,805.3 318.9,807.3 319.1,809.2 319.3,811.2 319.5,813.2 319.8,815.2 320.0,817.2 320.2,819.2 320.4,821.2 320.7,823.2 320.9,825.1 321.1,827.1 321.4,829.1 321.6,831.1 321.9,833.1 322.1,835.1 322.3,837.1 322.6,839.0 322.8,841.0 323.1,843.0 323.3,845.0 323.6,847.0 323.8,849.0 324.1,851.0 324.3,852.9 324.6,854.9 324.8,856.9 325.1,858.9 325.4,860.9 325.6,862.9 325.9,864.8 326.1,866.8 326.4,868.8 326.7,870.8 326.9,872.8 327.2,874.8 327.5,876.7 327.7,878.7 328.0,880.7 328.3,882.7 328.5,884.7 328.8,886.7 329.1,888.6 329.3,890.6 329.6,892.6 329.9,894.6 330.2,896.6 330.4,898.6 330.7,900.5 331.0,902.5 331.3,904.5 331.5,906.5 331.8,908.5 332.1,910.4 332.4,912.4 332.7,914.4 332.9,916.4 333.2,918.4 333.5,920.3 333.8,922.3 334.1,924.3 334.4,926.3 334.7,928.3 335.0,930.2 335.2,932.2 335.5,934.2 335.8,936.2 336.1,938.2 336.4,940.1 336.7,942.1 337.0,944.1 337.3,946.1 337.6,948.0 337.9,950.0 338.2,952.0 338.6,954.0 338.9,956.0 339.2,957.9 339.5,959.9 339.8,961.9 340.1,963.9 340.5,965.8 340.8,967.8 341.1,969.8 341.5,971.7 341.8,973.7 342.2,975.7 342.5,977.6 342.9,979.6 343.3,981.6 343.6,983.5 344.0,985.5 344.4,987.5 344.8,989.4 345.2,991.4 345.6,993.4 346.0,995.3 346.4,997.3 346.7,999.2 347.1,1001.2 347.5,1003.2 347.9,1005.1 348.3,1007.1 348.7,1009.1 349.1,1011.0 349.5,1013.0 349.9,1014.9 350.3,1016.9 350.8,1018.8 351.2,1020.8 351.6,1022.8 352.0,1024.7 352.5,1026.7 352.9,1028.6 353.4,1030.6 353.8,1032.5 354.3,1034.4 354.8,1036.4 355.3,1038.3 355.8,1040.3 356.3,1042.2 356.9,1044.1 357.4,1046.0 357.9,1048.0 358.5,1049.9 359.1,1051.8 359.6,1053.7 360.2,1055.6 360.8,1057.6 361.4,1059.5 362.0,1061.4 362.6,1063.3 363.2,1065.2 363.9,1067.1 364.5,1069.0 365.1,1070.9 365.8,1072.8 366.4,1074.7 367.1,1076.5 367.8,1078.4 368.4,1080.3 369.1,1082.2 369.8,1084.1 370.4,1086.0 371.1,1087.9 371.8,1089.7 372.5,1091.6 373.2,1093.5 373.9,1095.4 374.6,1097.2 375.3,1099.1 376.0,1101.0 376.8,1102.8 377.5,1104.7 378.3,1106.5 379.1,1108.3 379.9,1110.2 380.8,1112.0 381.6,1113.8 382.5,1115.6 383.4,1117.4 384.3,1119.2 385.2,1121.0 386.1,1122.7 387.0,1124.5 388.0,1126.3 388.9,1128.0 389.9,1129.8 390.9,1131.5 391.9,1133.3 392.9,1135.0 393.9,1136.7 394.9,1138.5 395.9,1140.2 396.9,1141.9 398.0,1143.6 399.0,1145.3 400.1,1147.0 401.1,1148.7 402.2,1150.4 403.3,1152.1 404.4,1153.7 405.5,1155.4 406.7,1157.0 407.8,1158.7 409.0,1160.3 410.2,1161.9 411.4,1163.5 412.6,1165.1 413.8,1166.6 415.1,1168.2 416.4,1169.7 417.7,1171.2 419.0,1172.7 420.4,1174.2 421.8,1175.6 423.1,1177.1 424.6,1178.5 426.0,1179.9 427.5,1181.2 428.9,1182.6 430.4,1183.9 431.9,1185.2 433.5,1186.5 435.0,1187.8 436.6,1189.0 438.2,1190.2 439.8,1191.4 441.4,1192.6 443.0,1193.8 444.6,1194.9 446.3,1196.1 448.0,1197.2 449.6,1198.3 451.3,1199.3 453.0,1200.4 454.7,1201.4 456.5,1202.4 458.2,1203.4 460.0,1204.4 461.7,1205.3 463.5,1206.2 465.3,1207.1 467.1,1208.0 468.9,1208.9 470.7,1209.7 472.5,1210.5 474.4,1211.3 476.2,1212.1 478.1,1212.8 479.9,1213.5 481.8,1214.2 483.7,1214.8 485.6,1215.4 487.5,1216.0 489.4,1216.6 491.4,1217.1 493.3,1217.5 495.3,1217.9 497.2,1218.3 499.2,1218.6 501.2,1218.8 503.2,1219.0 505.1,1219.2 507.1,1219.2 509.1,1219.2 511.1,1219.2 513.1,1219.0 515.1,1218.9 517.1,1218.7 519.1,1218.5 521.1,1218.2 523.0,1218.0 525.0,1217.7 527.0,1217.4 529.0,1217.1 531.0,1216.8 532.9,1216.5 534.9,1216.2 536.9,1215.9 538.9,1215.6 540.8,1215.2 542.8,1214.9 544.8,1214.5 546.7,1214.1 548.7,1213.7 550.6,1213.2 552.6,1212.8 554.5,1212.3 556.5,1211.8 558.4,1211.3 560.3,1210.8 562.3,1210.3 564.2,1209.7 566.1,1209.1 568.0,1208.5 569.9,1207.9 571.8,1207.2 573.6,1206.5 575.5,1205.8 577.4,1205.0 579.2,1204.3 581.0,1203.5 582.9,1202.7 584.7,1201.9 586.5,1201.0 588.3,1200.2 590.2,1199.4 592.0,1198.5 593.8,1197.7 595.6,1196.8 597.4,1196.0 599.2,1195.1 601.0,1194.2 602.8,1193.3 604.6,1192.4 606.4,1191.5 608.1,1190.6 609.9,1189.7 611.7,1188.8 613.5,1187.8 615.2,1186.9 617.0,1185.9 618.7,1185.0 620.5,1184.0 622.2,1183.0 624.0,1182.0 625.7,1181.0 627.4,1180.0 629.1,1179.0 630.8,1177.9 632.5,1176.8 634.2,1175.8 635.9,1174.7 637.5,1173.6 639.2,1172.5 640.9,1171.3 642.5,1170.2 644.1,1169.0 645.7,1167.9 647.4,1166.7 649.0,1165.5 650.6,1164.3 652.2,1163.1 653.8,1161.9 655.3,1160.6 656.9,1159.4 658.5,1158.2 660.0,1156.9 661.6,1155.6 663.1,1154.4 664.7,1153.1 666.2,1151.8 667.7,1150.5 669.2,1149.2 670.7,1147.9 672.2,1146.5 673.7,1145.2 675.2,1143.9 676.7,1142.5 678.1,1141.2 679.6,1139.8 681.1,1138.4 682.5,1137.0 683.9,1135.6 685.4,1134.2 686.8,1132.8 688.2,1131.4 689.6,1130.0 691.0,1128.6 692.4,1127.1 693.8,1125.7 695.1,1124.2 696.5,1122.7 697.9,1121.3 699.2,1119.8 700.5,1118.3 701.8,1116.8 703.2,1115.3 704.4,1113.8 705.7,1112.2 707.0,1110.7 708.2,1109.1 709.5,1107.5 710.7,1106.0 711.9,1104.4 713.1,1102.8 714.3,1101.2 715.5,1099.6 716.7,1098.0 717.9,1096.3 719.0,1094.7 720.2,1093.1 721.3,1091.4 722.5,1089.8 723.6,1088.1 724.7,1086.5 725.9,1084.8 727.0,1083.2 728.1,1081.5 729.2,1079.9 730.3,1078.2 731.4,1076.5 732.5,1074.9 733.7,1073.2 734.8,1071.5 735.9,1069.9 737.0,1068.2 738.1,1066.5 739.2,1064.9 740.3,1063.2 741.4,1061.5 742.5,1059.9 743.6,1058.2 744.7,1056.5 745.9,1054.9 747.0,1053.2 748.1,1051.6 749.3,1049.9 750.4,1048.3 751.6,1046.7 752.7,1045.0 753.9,1043.4 755.0,1041.8 756.2,1040.2 757.4,1038.5 758.6,1036.9 759.8,1035.3 761.0,1033.7 762.2,1032.1 763.4,1030.5 764.6,1029.0 765.8,1027.4 767.0,1025.8 768.3,1024.2 769.5,1022.6 770.7,1021.0 771.9,1019.4 773.1,1017.8 774.4,1016.3 775.6,1014.7 776.8,1013.1 778.0,1011.5 779.3,1009.9 780.5,1008.4 781.7,1006.8 783.0,1005.2 784.2,1003.6 785.4,1002.1 786.7,1000.5 787.9,998.9 789.1,997.3 790.4,995.8 791.6,994.2 792.9,992.6 794.1,991.1 795.3,989.5 796.6,987.9 797.8,986.4 799.1,984.8 800.3,983.2 801.6,981.7 802.9,980.1 804.1,978.6 805.4,977.0 806.6,975.5 807.9,973.9 809.2,972.4 810.4,970.8 811.7,969.3 813.0,967.7 814.3,966.2 815.5,964.7 816.8,963.1 818.1,961.6 819.4,960.1 820.7,958.6 822.0,957.1 823.4,955.6 824.7,954.1 826.1,952.6 827.4,951.2 828.8,949.7 830.3,948.3 831.7,947.0 833.2,945.6 834.6,944.2 836.1,942.9 837.5,941.5 839.0,940.1 840.3,938.7 841.7,937.2 843.0,935.7 844.3,934.2 845.6,932.7 846.9,931.1 848.1,929.6 849.4,928.0 850.6,926.4 851.8,924.8 853.1,923.3 854.3,921.7 855.5,920.1 856.7,918.5 857.9,916.9 859.1,915.3 860.3,913.7 861.5,912.1 862.7,910.5 864.0,908.9 865.2,907.3 866.4,905.7 867.6,904.2 868.8,902.6 870.1,901.0 871.3,899.4 872.6,897.9 873.8,896.3 875.1,894.8 876.4,893.2 877.7,891.7 879.0,890.2 880.3,888.7 881.6,887.2 883.0,885.7 884.3,884.3 885.7,882.8 887.1,881.4 888.5,880.0 889.9,878.5 891.4,877.2 892.8,875.8 894.3,874.5 895.8,873.2 897.3,871.9 898.9,870.6 900.5,869.4 902.1,868.2 903.7,867.0 905.3,865.8 907.0,864.7 908.6,863.7 910.4,862.7 912.1,861.8 913.9,860.9 915.7,860.2 917.6,859.6 919.5,859.2 921.4,858.8 923.4,858.6 925.4,858.5 927.3,858.5 929.3,858.7 931.3,858.9 933.2,859.1 935.2,859.5 937.1,859.9 939.1,860.4 941.0,860.9 942.9,861.5 944.8,862.1 946.7,862.8 948.5,863.5 950.4,864.3 952.2,865.1 954.0,866.0 955.7,866.9 957.5,867.9 959.2,869.0 960.9,870.0 962.5,871.1 964.2,872.3 965.8,873.4 967.4,874.6 969.1,875.7 970.7,876.9 972.3,878.1 974.0,879.2 975.6,880.3 977.3,881.4 979.0,882.5 980.7,883.5 982.4,884.5 984.1,885.5 985.9,886.5 987.7,887.4 989.4,888.3 991.2,889.3 993.0,890.2 994.8,891.1 996.5,892.0 998.3,892.9 1000.1,893.9 1001.8,894.8 1003.6,895.8 1005.3,896.8 1007.0,897.8 1008.7,898.8 1010.4,899.9 1012.1,901.0 1013.8,902.1 1015.4,903.2 1017.1,904.3 1018.7,905.5 1020.3,906.7 1021.9,907.9 1023.5,909.1 1025.1,910.3 1026.6,911.6 1028.1,912.9 1029.6,914.3 1031.0,915.7 1032.4,917.1 1033.8,918.5 1035.2,920.0 1036.5,921.5 1037.7,923.1 1039.0,924.6 1040.2,926.2 1041.3,927.8 1042.5,929.5 1043.6,931.1 1044.7,932.8 1045.8,934.5 1046.8,936.2 1047.9,937.9 1048.9,939.6 1049.9,941.3 1050.9,943.1 1051.9,944.8 1052.8,946.6 1053.8,948.3 1054.7,950.1 1055.6,951.9 1056.6,953.7 1057.5,955.4 1058.4,957.2 1059.2,959.0 1060.1,960.8 1061.0,962.6 1061.8,964.4 1062.7,966.2 1063.5,968.1 1064.3,969.9 1065.1,971.7 1065.9,973.6 1066.6,975.4 1067.4,977.3 1068.1,979.1 1068.8,981.0 1069.6,982.9 1070.3,984.7 1071.0,986.6 1071.7,988.5 1072.4,990.4 1073.1,992.2 1073.7,994.1 1074.4,996.0 1075.1,997.9 1075.8,999.8 1076.5,1001.6 1077.1,1003.5 1077.8,1005.4 1078.5,1007.3 1079.2,1009.2 1079.9,1011.0 1080.6,1012.9 1081.3,1014.8 1082.0,1016.7 1082.7,1018.6 1083.4,1020.4 1084.1,1022.3 1084.7,1024.2 1085.4,1026.1 1086.1,1027.9 1086.8,1029.8 1087.5,1031.7 1088.2,1033.6 1088.8,1035.5 1089.5,1037.4 1090.2,1039.2 1090.8,1041.1 1091.5,1043.0 1092.2,1044.9 1092.8,1046.8 1093.5,1048.7 1094.1,1050.6 1094.8,1052.5 1095.4,1054.4 1096.1,1056.2 1096.7,1058.1 1097.4,1060.0 1098.1,1061.9 1098.7,1063.8 1099.4,1065.7 1100.0,1067.6 1100.7,1069.5 1101.3,1071.4 1102.0,1073.3 1102.6,1075.1 1103.3,1077.0 1103.9,1078.9 1104.6,1080.8 1105.3,1082.7 1105.9,1084.6 1106.6,1086.5 1107.3,1088.4 1107.9,1090.3 1108.6,1092.1 1109.3,1094.0 1109.9,1095.9 1110.6,1097.8 1111.3,1099.7 1112.0,1101.5 1112.7,1103.4 1113.4,1105.3 1114.1,1107.2 1114.8,1109.1 1115.5,1110.9 1116.2,1112.8 1116.9,1114.7 1117.6,1116.5 1118.3,1118.4 1119.1,1120.3 1119.8,1122.1 1120.6,1124.0 1121.3,1125.8 1122.1,1127.7 1122.8,1129.5 1123.6,1131.4 1124.4,1133.2 1125.2,1135.0 1126.0,1136.9 1126.9,1138.7 1127.7,1140.5 1128.5,1142.3 1129.4,1144.1 1130.3,1145.9 1131.1,1147.7 1132.0,1149.5 1132.9,1151.3 1133.8,1153.1 1134.7,1154.9 1135.6,1156.7 1136.5,1158.4 1137.5,1160.2 1138.4,1162.0 1139.4,1163.7 1140.4,1165.5 1141.3,1167.2 1142.3,1169.0 1143.3,1170.7 1144.3,1172.4 1145.4,1174.1 1146.4,1175.8 1147.5,1177.5 1148.6,1179.2 1149.7,1180.9 1150.8,1182.5 1151.9,1184.2 1153.1,1185.8 1154.2,1187.4 1155.4,1189.0 1156.6,1190.6 1157.9,1192.2 1159.2,1193.7 1160.4,1195.3 1161.8,1196.8 1163.1,1198.2 1164.5,1199.7 1165.9,1201.1 1167.3,1202.5 1168.8,1203.8 1170.3,1205.2 1171.8,1206.5 1173.3,1207.8 1174.9,1209.0 1176.4,1210.3 1178.0,1211.5 1179.6,1212.7 1181.3,1213.8 1182.9,1214.9 1184.6,1216.0 1186.3,1217.1 1188.0,1218.1 1189.7,1219.1 1191.5,1220.0 1193.3,1220.9 1195.1,1221.8 1196.9,1222.5 1198.8,1223.3 1200.6,1224.0 1202.5,1224.6 1204.4,1225.2 1206.4,1225.7 1208.3,1226.2 1210.2,1226.7 1212.2,1227.1 1214.1,1227.5 1216.1,1227.9 1218.1,1228.3 1220.0,1228.6 1222.0,1228.9 1224.0,1229.2 1226.0,1229.4 1228.0,1229.7 1230.0,1229.9 1231.9,1230.2 1233.9,1230.4 1235.9,1230.6 1237.9,1230.8 1239.9,1231.0 1241.9,1231.2 1243.9,1231.4 1245.9,1231.6 1247.9,1231.8 1249.9,1232.0 1251.8,1232.1 1253.8,1232.3 1255.8,1232.5 1257.8,1232.6 1259.8,1232.8 1261.8,1232.9 1263.8,1233.0 1265.8,1233.1 1267.8,1233.2 1269.8,1233.3 1271.8,1233.4 1273.8,1233.5 1275.8,1233.6 1277.8,1233.6 1279.8,1233.7 1281.8,1233.7 1283.8,1233.8 1285.8,1233.8 1287.8,1233.8 1289.8,1233.9 1291.8,1233.9 1293.8,1233.9 1295.8,1234.0 1297.8,1234.0 1299.8,1234.0 1301.8,1234.0 1303.8,1234.1 1305.8,1234.1 1307.8,1234.1 1309.8,1234.2 1311.8,1234.2 1313.8,1234.2 1315.8,1234.2 1317.8,1234.3 1319.8,1234.3 1321.8,1234.3 1323.8,1234.4 1325.8,1234.4 1327.8,1234.4 1329.8,1234.4 1331.8,1234.5 1333.8,1234.5 1335.8,1234.5 1337.8,1234.5 1339.8,1234.6 1341.8,1234.6 1343.8,1234.6 1345.8,1234.6 1347.8,1234.6 1349.8,1234.7 1351.8,1234.7 1353.8,1234.7 1355.8,1234.7 1357.8,1234.7 1359.8,1234.7 1361.8,1234.8 1363.8,1234.8 1365.8,1234.8 1367.8,1234.8 1369.8,1234.8 1371.8,1234.8 1373.8,1234.8 1375.8,1234.8 1377.8,1234.8 1379.8,1234.9 1381.8,1234.9 1383.8,1234.9 1385.8,1234.9 1387.8,1234.9 1389.8,1234.9 1391.8,1234.9 1393.8,1234.9 1395.8,1234.9 1397.8,1234.9 1399.8,1234.9 1401.8,1235.0 1403.8,1235.0 1405.8,1235.0 1407.8,1235.0 1409.8,1235.0 1411.8,1235.0 1413.8,1235.0 1415.8,1235.0 1417.8,1235.0 1419.8,1235.0 1421.8,1235.0 1423.8,1235.0 1425.8,1235.0 1427.8,1235.0 1429.8,1235.0 1431.8,1235.0 1433.8,1235.0 1435.8,1235.0 1437.8,1235.0 1439.8,1235.0 1441.8,1235.0 1443.8,1235.1 1445.8,1235.1 1447.8,1235.1 1449.8,1235.1 1451.8,1235.1 1453.8,1235.1 1455.9,1235.1 1457.9,1235.1 1459.9,1235.1 1461.9,1235.1 1463.9,1235.1 1465.9,1235.1 1467.9,1235.1 1469.9,1235.1 1471.9,1235.1 1473.9,1235.1 1475.9,1235.1 1477.9,1235.1 1479.9,1235.1 1481.9,1235.1 1483.9,1235.1 1485.9,1235.1 1487.9,1235.1 1489.9,1235.1 1491.9,1235.1 1493.9,1235.1 1495.9,1235.1 1497.9,1235.1 1499.9,1235.1 1501.9,1235.1 1503.9,1235.1 1505.9,1235.1 1507.9,1235.1 1509.9,1235.1 1511.9,1235.1 1513.9,1235.1 1515.9,1235.1 1517.9,1235.1 1519.9,1235.1 1521.9,1235.1 1523.9,1235.1 1525.9,1235.1 1527.9,1235.1 1529.9,1235.1 1531.9,1235.1 1533.9,1235.1 1535.9,1235.1 1537.9,1235.1 1539.9,1235.1 1541.9,1235.1 1543.9,1235.0 1545.9,1235.0 1547.9,1235.0 1549.9,1235.0 1551.9,1235.0 1553.9,1235.0 1555.9,1235.0 1557.9,1235.0 1559.9,1235.0 1561.9,1235.0 1563.9,1235.0 1565.9,1235.0 1567.9,1235.0 1569.9,1235.0 1571.9,1235.0 1573.9,1235.0 1575.9,1235.0 1577.9,1235.0 1579.9,1235.0 1581.9,1235.0 1583.9,1235.0 1585.9,1235.0 1587.9,1235.0 1589.9,1235.0 1591.9,1235.0 1593.9,1235.0 1595.9,1235.0 1597.9,1235.0 1599.9,1235.0 1601.9,1235.0 1603.9,1235.0 1605.9,1235.0 1607.9,1235.0 1609.9,1234.9 1611.9,1234.9 1613.9,1234.9 1615.9,1234.9 1617.9,1234.9 1619.9,1234.9 1621.9,1234.9 1623.9,1234.9 1625.9,1234.9 1627.9,1234.9 1629.9,1234.9 1631.9,1234.9 1633.9,1234.9 1635.9,1234.9 1637.9,1234.9 1639.9,1234.9 1641.9,1234.9 1643.9,1234.9 1645.9,1234.9 1647.9,1234.9 1649.9,1234.9 1651.9,1234.9 1653.9,1234.9 1655.9,1234.9 1657.9,1234.9 1659.9,1234.8 1661.9,1234.8 1663.9,1234.8 1665.9,1234.8 1667.9,1234.8 1669.9,1234.8 1671.9,1234.8 1673.9,1234.8 1675.9,1234.8 1677.9,1234.8 1679.9,1234.8 1681.9,1234.8 1683.9,1234.8 1685.9,1234.8 1687.9,1234.8 1689.9,1234.8 1691.9,1234.8 1693.9,1234.8 1695.9,1234.8 1697.9,1234.8 1699.9,1234.8 1701.9,1234.8 1703.9,1234.7 1705.9,1234.7 1707.9,1234.7 1709.9,1234.7 1711.9,1234.7 1713.9,1234.7 1715.9,1234.7 1717.9,1234.7 1719.9,1234.7 1721.9,1234.7 1723.9,1234.7 1725.9,1234.7 1727.9,1234.7 1729.9,1234.7 1731.9,1234.7 1733.9,1234.7 1735.9,1234.7 1737.9,1234.7 1739.9,1234.7 1741.9,1234.7 1743.9,1234.7 1745.9,1234.7 1747.9,1234.6 1749.9,1234.6 1751.9,1234.6 1753.9,1234.6 1755.9,1234.6 1757.9,1234.6 1759.9,1234.6 1761.9,1234.6 1763.9,1234.6 1765.9,1234.6 1767.9,1234.6 1769.9,1234.6 1771.9,1234.6 1773.9,1234.6 1775.9,1234.6 1777.9,1234.6 1779.9,1234.6 1781.9,1234.6 1783.9,1234.6 1785.9,1234.6 1787.9,1234.6 1789.9,1234.6 1791.9,1234.5 1793.9,1234.5 1795.9,1234.5 1797.9,1234.5 1800.0,1234.5 1802.0,1234.5 1804.0,1234.5 1806.0,1234.5 1808.0,1234.5 1810.0,1234.5 1812.0,1234.5 1814.0,1234.5 1816.0,1234.5 1818.0,1234.5 1820.0,1234.5 1822.0,1234.5 1824.0,1234.5 1826.0,1234.5 1828.0,1234.5 1830.0,1234.5 1832.0,1234.5 1834.0,1234.5 1836.0,1234.5 1838.0,1234.5 1840.0,1234.4 1842.0,1234.4 1844.0,1234.4 1846.0,1234.4 1848.0,1234.4 1850.0,1234.4 1852.0,1234.4 1854.0,1234.4 1856.0,1234.4 1858.0,1234.4 1860.0,1234.4 1862.0,1234.4 1864.0,1234.4 1866.0,1234.4 1868.0,1234.4 1870.0,1234.4 1872.0,1234.4 1874.0,1234.4 1876.0,1234.4 1878.0,1234.4 1880.0,1234.4 1882.0,1234.4 1884.0,1234.4 1886.0,1234.4 1888.0,1234.4 1890.0,1234.4 1892.0,1234.4 1894.0,1234.4 1896.0,1234.4 1898.0,1234.4 1900.0,1234.4 1902.0,1234.3 1904.0,1234.3 1906.0,1234.3 1908.0,1234.3 1910.0,1234.3 1912.0,1234.3 1914.0,1234.3 1916.0,1234.3 1918.0,1234.3 1920.0,1234.3 1922.0,1234.3 1924.0,1234.3 1926.0,1234.3 1928.0,1234.3 1930.0,1234.3 1932.0,1234.3 1934.0,1234.3 1936.0,1234.3 1938.0,1234.3 1940.0,1234.3 1942.0,1234.3 1944.0,1234.3 1946.0,1234.3 1948.0,1234.3 1950.0,1234.3 1952.0,1234.3 1954.0,1234.3 1956.0,1234.3 1958.0,1234.3 1960.0,1234.3 1962.0,1234.3 1964.0,1234.3 1966.0,1234.3 1968.0,1234.3 1970.0,1234.3" stroke="#FF00FF" stroke-width="7" fill="none" stroke-linejoin="round" stroke-linecap="butt"/>
<path d="M298.0,690.0L298.2,692.0 298.4,694.0 298.6,696.0 298.8,698.0 298.9,700.0 299.1,702.0 299.2,704.0 299.4,706.0 299.5,707.9 299.6,709.9 299.7,711.9 299.8,713.9 299.9,715.9 300.0,717.9 300.1,719.9 300.2,721.9 300.3,723.9 300.4,725.9 300.5,727.9 300.6,729.9 300.7,731.9 300.8,733.9 300.9,735.9 301.0,737.9 301.0,739.9 301.1,741.9 301.2,743.9 301.3,745.9 301.4,747.9 301.5,749.9 301.6,751.9 301.7,753.9 301.8,755.9 301.9,757.9 302.0,759.9 302.1,761.9 302.2,763.9 302.3,765.9 302.4,767.9 302.5,769.9 302.6,771.9 302.8,773.9 302.9,775.9 303.0,777.9 303.1,779.9 303.2,781.9 303.3,783.9 303.5,785.9 303.6,787.9 303.7,789.9 303.8,791.9 304.0,793.9 304.1,795.9 304.2,797.9 304.4,799.9 304.5,801.9 304.7,803.9 304.8,805.9 305.0,807.9 305.1,809.9 305.3,811.9 305.5,813.8 305.6,815.8 305.8,817.8 306.0,819.8 306.2,821.8 306.4,823.8 306.6,825.8 306.8,827.8 307.0,829.8 307.2,831.8 307.4,833.8 307.6,835.8 307.8,837.7 308.0,839.7 308.2,841.7 308.4,843.7 308.7,845.7 308.9,847.7 309.1,849.7 309.3,851.7 309.6,853.7 309.8,855.6 310.0,857.6 310.3,859.6 310.5,861.6 310.7,863.6 311.0,865.6 311.2,867.6 311.5,869.6 311.7,871.5 312.0,873.5 312.2,875.5 312.5,877.5 312.7,879.5 313.0,881.5 313.2,883.5 313.5,885.4 313.7,887.4 314.0,889.4 314.2,891.4 314.5,893.4 314.8,895.4 315.0,897.4 315.3,899.3 315.5,901.3 315.8,903.3 316.1,905.3 316.4,907.3 316.6,909.3 316.9,911.2 317.2,913.2 317.4,915.2 317.7,917.2 318.0,919.2 318.3,921.1 318.6,923.1 318.8,925.1 319.1,927.1 319.4,929.1 319.7,931.1 320.0,933.0 320.3,935.0 320.6,937.0 320.9,939.0 321.2,941.0 321.5,942.9 321.8,944.9 322.1,946.9 322.4,948.9 322.7,950.8 323.0,952.8 323.3,954.8 323.6,956.8 323.9,958.8 324.2,960.7 324.6,962.7 324.9,964.7 325.2,966.6 325.6,968.6 326.0,970.6 326.3,972.6 326.7,974.5 327.1,976.5 327.4,978.5 327.8,980.4 328.2,982.4 328.6,984.3 329.0,986.3 329.4,988.3 329.9,990.2 330.3,992.2 330.7,994.1 331.1,996.1 331.5,998.1 331.9,1000.0 332.3,1002.0 332.7,1003.9 333.1,1005.9 333.5,1007.9 333.9,1009.8 334.3,1011.8 334.7,1013.7 335.1,1015.7 335.5,1017.7 335.9,1019.6 336.3,1021.6 336.7,1023.5 337.1,1025.5 337.5,1027.5 338.0,1029.4 338.4,1031.4 338.8,1033.3 339.3,1035.3 339.8,1037.2 340.2,1039.2 340.7,1041.1 341.2,1043.0 341.7,1045.0 342.2,1046.9 342.7,1048.9 343.2,1050.8 343.8,1052.7 344.3,1054.6 344.8,1056.6 345.4,1058.5 345.9,1060.4 346.5,1062.3 347.0,1064.3 347.6,1066.2 348.2,1068.1 348.8,1070.0 349.4,1071.9 350.0,1073.8 350.6,1075.7 351.2,1077.6 351.9,1079.5 352.5,1081.4 353.1,1083.3 353.7,1085.2 354.4,1087.1 355.0,1089.0 355.6,1090.9 356.3,1092.8 356.9,1094.7 357.6,1096.6 358.3,1098.5 359.0,1100.4 359.7,1102.2 360.4,1104.1 361.1,1106.0 361.9,1107.8 362.7,1109.6 363.5,1111.5 364.4,1113.3 365.3,1115.1 366.2,1116.9 367.1,1118.6 368.0,1120.4 369.0,1122.1 370.0,1123.9 370.9,1125.6 371.9,1127.4 373.0,1129.1 374.0,1130.8 375.0,1132.5 376.1,1134.2 377.1,1135.9 378.2,1137.6 379.2,1139.3 380.3,1141.0 381.4,1142.7 382.5,1144.4 383.6,1146.0 384.7,1147.7 385.8,1149.4 386.9,1151.0 388.1,1152.7 389.2,1154.3 390.3,1156.0 391.5,1157.6 392.6,1159.2 393.8,1160.9 395.0,1162.5 396.2,1164.1 397.4,1165.7 398.6,1167.3 399.8,1168.9 401.0,1170.5 402.3,1172.0 403.5,1173.6 404.8,1175.2 406.0,1176.7 407.3,1178.3 408.6,1179.8 409.9,1181.3 411.2,1182.8 412.6,1184.3 413.9,1185.7 415.3,1187.2 416.7,1188.6 418.1,1190.0 419.6,1191.4 421.0,1192.8 422.5,1194.1 424.0,1195.4 425.5,1196.7 427.1,1198.0 428.6,1199.3 430.2,1200.5 431.8,1201.7 433.4,1202.8 435.1,1204.0 436.7,1205.1 438.4,1206.2 440.1,1207.3 441.8,1208.3 443.6,1209.3 445.3,1210.2 447.1,1211.2 448.9,1212.1 450.7,1212.9 452.5,1213.8 454.3,1214.6 456.2,1215.3 458.0,1216.1 459.9,1216.7 461.8,1217.4 463.7,1218.0 465.6,1218.5 467.5,1219.0 469.5,1219.5 471.4,1219.9 473.4,1220.3 475.4,1220.7 477.3,1221.0 479.3,1221.2 481.3,1221.5 483.3,1221.7 485.3,1221.8 487.3,1222.0 489.3,1222.1 491.3,1222.2 493.3,1222.3 495.3,1222.3 497.3,1222.4 499.3,1222.4 501.3,1222.3 503.3,1222.3 505.3,1222.2 507.3,1222.0 509.2,1221.9 511.2,1221.7 513.2,1221.4 515.2,1221.2 517.2,1220.9 519.2,1220.5 521.1,1220.2 523.1,1219.9 525.1,1219.5 527.0,1219.1 529.0,1218.8 531.0,1218.4 532.9,1218.0 534.9,1217.6 536.9,1217.2 538.8,1216.8 540.8,1216.4 542.7,1216.0 544.7,1215.5 546.6,1215.0 548.6,1214.6 550.5,1214.0 552.4,1213.5 554.3,1213.0 556.3,1212.4 558.2,1211.8 560.0,1211.1 561.9,1210.4 563.8,1209.7 565.6,1208.9 567.5,1208.2 569.3,1207.3 571.1,1206.5 572.9,1205.6 574.7,1204.7 576.5,1203.8 578.3,1202.9 580.0,1202.0 581.8,1201.0 583.6,1200.1 585.3,1199.1 587.1,1198.2 588.9,1197.2 590.6,1196.3 592.4,1195.3 594.1,1194.4 595.9,1193.4 597.6,1192.4 599.4,1191.5 601.1,1190.5 602.9,1189.5 604.6,1188.5 606.3,1187.5 608.1,1186.5 609.8,1185.5 611.5,1184.5 613.2,1183.5 615.0,1182.4 616.7,1181.4 618.4,1180.4 620.1,1179.3 621.8,1178.2 623.5,1177.2 625.2,1176.1 626.8,1175.0 628.5,1173.9 630.2,1172.8 631.8,1171.7 633.5,1170.6 635.1,1169.4 636.8,1168.3 638.4,1167.1 640.0,1165.9 641.6,1164.7 643.2,1163.5 644.8,1162.3 646.4,1161.1 648.0,1159.9 649.5,1158.6 651.1,1157.4 652.7,1156.1 654.2,1154.8 655.8,1153.6 657.3,1152.3 658.8,1151.0 660.3,1149.7 661.9,1148.4 663.4,1147.1 664.9,1145.8 666.4,1144.4 667.9,1143.1 669.4,1141.8 670.9,1140.4 672.3,1139.1 673.8,1137.7 675.3,1136.4 676.7,1135.0 678.2,1133.6 679.6,1132.3 681.1,1130.9 682.5,1129.5 684.0,1128.1 685.4,1126.7 686.8,1125.3 688.3,1123.9 689.7,1122.5 691.1,1121.1 692.5,1119.6 693.9,1118.2 695.3,1116.8 696.7,1115.4 698.1,1113.9 699.5,1112.5 700.9,1111.0 702.2,1109.6 703.6,1108.1 705.0,1106.6 706.3,1105.2 707.7,1103.7 709.0,1102.2 710.3,1100.7 711.6,1099.2 713.0,1097.7 714.3,1096.2 715.6,1094.6 716.9,1093.1 718.1,1091.6 719.4,1090.1 720.7,1088.5 722.0,1087.0 723.3,1085.4 724.5,1083.9 725.8,1082.3 727.0,1080.8 728.3,1079.2 729.6,1077.7 730.8,1076.1 732.1,1074.5 733.3,1073.0 734.6,1071.4 735.8,1069.8 737.1,1068.3 738.3,1066.7 739.5,1065.1 740.8,1063.6 742.0,1062.0 743.3,1060.5 744.5,1058.9 745.8,1057.3 747.1,1055.8 748.3,1054.2 749.6,1052.7 750.8,1051.1 752.1,1049.6 753.4,1048.0 754.6,1046.5 755.9,1044.9 757.2,1043.4 758.5,1041.8 759.8,1040.3 761.0,1038.8 762.3,1037.2 763.6,1035.7 764.9,1034.2 766.2,1032.7 767.5,1031.1 768.8,1029.6 770.1,1028.1 771.4,1026.6 772.7,1025.0 774.0,1023.5 775.3,1022.0 776.6,1020.5 777.9,1018.9 779.2,1017.4 780.5,1015.9 781.8,1014.4 783.1,1012.9 784.4,1011.3 785.7,1009.8 787.0,1008.3 788.3,1006.8 789.6,1005.3 790.9,1003.7 792.2,1002.2 793.5,1000.7 794.8,999.2 796.1,997.7 797.4,996.1 798.7,994.6 800.0,993.1 801.3,991.6 802.6,990.1 803.9,988.6 805.3,987.0 806.6,985.5 807.9,984.0 809.2,982.5 810.5,981.0 811.8,979.4 813.1,977.9 814.4,976.4 815.7,974.9 817.0,973.4 818.3,971.9 819.6,970.3 820.9,968.8 822.2,967.3 823.5,965.8 824.8,964.3 826.1,962.7 827.4,961.2 828.7,959.7 830.0,958.2 831.3,956.7 832.6,955.1 833.9,953.6 835.2,952.1 836.5,950.6 837.8,949.0 839.1,947.5 840.4,946.0 841.7,944.4 842.9,942.9 844.2,941.4 845.5,939.8 846.8,938.3 848.0,936.7 849.3,935.2 850.6,933.6 851.8,932.1 853.1,930.5 854.4,929.0 855.6,927.4 856.9,925.9 858.1,924.3 859.4,922.8 860.7,921.2 862.0,919.7 863.2,918.1 864.5,916.6 865.8,915.1 867.1,913.5 868.4,912.0 869.7,910.5 871.0,909.0 872.4,907.5 873.7,906.0 875.1,904.6 876.4,903.1 877.8,901.6 879.2,900.2 880.6,898.8 882.0,897.4 883.5,896.0 884.9,894.6 886.4,893.2 887.9,891.9 889.4,890.6 890.9,889.3 892.5,888.1 894.1,886.9 895.7,885.8 897.4,884.8 899.1,883.8 900.9,882.9 902.7,882.0 904.5,881.2 906.4,880.6 908.3,880.0 910.2,879.5 912.1,879.1 914.1,878.8 916.0,878.6 918.0,878.5 920.0,878.5 921.9,878.7 923.9,879.0 925.9,879.3 927.8,879.8 929.7,880.3 931.6,880.9 933.5,881.6 935.3,882.3 937.2,883.0 939.0,883.8 940.9,884.6 942.7,885.5 944.5,886.3 946.3,887.2 948.1,888.1 949.8,889.1 951.6,890.0 953.3,891.0 955.0,892.0 956.7,893.1 958.4,894.2 960.1,895.3 961.7,896.4 963.4,897.5 965.0,898.7 966.7,899.8 968.3,901.0 969.9,902.1 971.6,903.3 973.2,904.4 974.9,905.5 976.6,906.6 978.3,907.6 980.0,908.6 981.7,909.6 983.5,910.6 985.3,911.5 987.1,912.3 988.9,913.2 990.7,914.0 992.5,914.9 994.3,915.7 996.2,916.5 998.0,917.4 999.7,918.3 1001.5,919.3 1003.2,920.2 1004.9,921.3 1006.5,922.4 1008.1,923.6 1009.7,924.8 1011.2,926.2 1012.6,927.5 1014.0,928.9 1015.4,930.4 1016.7,931.9 1017.9,933.4 1019.2,935.0 1020.4,936.6 1021.6,938.2 1022.7,939.9 1023.8,941.5 1025.0,943.2 1026.0,944.9 1027.1,946.5 1028.2,948.2 1029.3,949.9 1030.3,951.6 1031.4,953.3 1032.4,955.0 1033.5,956.7 1034.5,958.4 1035.6,960.1 1036.6,961.9 1037.6,963.6 1038.7,965.3 1039.7,967.0 1040.7,968.7 1041.7,970.5 1042.7,972.2 1043.6,974.0 1044.6,975.7 1045.5,977.5 1046.5,979.3 1047.4,981.0 1048.3,982.8 1049.2,984.6 1050.1,986.4 1051.0,988.2 1051.9,989.9 1052.8,991.7 1053.7,993.5 1054.6,995.3 1055.4,997.2 1056.3,999.0 1057.1,1000.8 1057.9,1002.6 1058.8,1004.4 1059.6,1006.3 1060.4,1008.1 1061.2,1009.9 1062.0,1011.8 1062.8,1013.6 1063.6,1015.4 1064.3,1017.3 1065.1,1019.1 1065.9,1021.0 1066.6,1022.8 1067.4,1024.7 1068.1,1026.5 1068.9,1028.4 1069.6,1030.3 1070.4,1032.1 1071.1,1034.0 1071.8,1035.8 1072.5,1037.7 1073.3,1039.6 1074.0,1041.4 1074.7,1043.3 1075.4,1045.2 1076.1,1047.1 1076.8,1048.9 1077.5,1050.8 1078.2,1052.7 1078.9,1054.5 1079.6,1056.4 1080.3,1058.3 1081.0,1060.2 1081.7,1062.0 1082.4,1063.9 1083.2,1065.8 1083.9,1067.7 1084.6,1069.5 1085.3,1071.4 1086.0,1073.3 1086.7,1075.2 1087.4,1077.0 1088.1,1078.9 1088.8,1080.8 1089.5,1082.7 1090.2,1084.5 1090.9,1086.4 1091.6,1088.3 1092.3,1090.1 1093.1,1092.0 1093.8,1093.9 1094.5,1095.7 1095.2,1097.6 1095.9,1099.5 1096.6,1101.3 1097.4,1103.2 1098.1,1105.1 1098.8,1106.9 1099.6,1108.8 1100.3,1110.7 1101.0,1112.5 1101.8,1114.4 1102.5,1116.2 1103.3,1118.1 1104.0,1119.9 1104.8,1121.8 1105.6,1123.6 1106.4,1125.5 1107.1,1127.3 1107.9,1129.2 1108.7,1131.0 1109.5,1132.8 1110.3,1134.7 1111.1,1136.5 1112.0,1138.3 1112.8,1140.1 1113.7,1141.9 1114.5,1143.8 1115.4,1145.6 1116.2,1147.4 1117.1,1149.2 1118.0,1151.0 1118.9,1152.8 1119.8,1154.6 1120.7,1156.3 1121.6,1158.1 1122.5,1159.9 1123.4,1161.7 1124.3,1163.5 1125.3,1165.2 1126.2,1167.0 1127.2,1168.7 1128.1,1170.5 1129.1,1172.2 1130.1,1174.0 1131.1,1175.7 1132.1,1177.4 1133.1,1179.2 1134.2,1180.9 1135.2,1182.6 1136.3,1184.3 1137.4,1185.9 1138.5,1187.6 1139.6,1189.3 1140.7,1190.9 1141.9,1192.6 1143.0,1194.2 1144.2,1195.8 1145.4,1197.4 1146.6,1199.0 1147.9,1200.5 1149.2,1202.0 1150.6,1203.5 1151.9,1204.9 1153.4,1206.3 1154.8,1207.7 1156.4,1209.0 1157.9,1210.2 1159.5,1211.4 1161.2,1212.5 1162.8,1213.6 1164.5,1214.7 1166.2,1215.7 1168.0,1216.7 1169.7,1217.6 1171.5,1218.5 1173.3,1219.4 1175.1,1220.2 1177.0,1221.0 1178.8,1221.8 1180.7,1222.6 1182.5,1223.3 1184.4,1224.0 1186.3,1224.6 1188.2,1225.3 1190.1,1225.9 1192.0,1226.4 1193.9,1226.9 1195.9,1227.4 1197.8,1227.9 1199.8,1228.3 1201.7,1228.7 1203.7,1229.0 1205.7,1229.4 1207.7,1229.6 1209.6,1229.9 1211.6,1230.2 1213.6,1230.4 1215.6,1230.6 1217.6,1230.8 1219.6,1231.0 1221.6,1231.2 1223.6,1231.4 1225.6,1231.6 1227.5,1231.8 1229.5,1231.9 1231.5,1232.1 1233.5,1232.3 1235.5,1232.4 1237.5,1232.6 1239.5,1232.7 1241.5,1232.8 1243.5,1233.0 1245.5,1233.1 1247.5,1233.2 1249.5,1233.3 1251.5,1233.3 1253.5,1233.4 1255.5,1233.5 1257.5,1233.5 1259.5,1233.6 1261.5,1233.7 1263.5,1233.7 1265.5,1233.7 1267.5,1233.8 1269.5,1233.8 1271.5,1233.9 1273.5,1233.9 1275.5,1233.9 1277.5,1234.0 1279.5,1234.0 1281.5,1234.0 1283.5,1234.0 1285.5,1234.1 1287.5,1234.1 1289.5,1234.1 1291.5,1234.2 1293.5,1234.2 1295.5,1234.2 1297.5,1234.3 1299.5,1234.3 1301.5,1234.3 1303.5,1234.4 1305.5,1234.4 1307.5,1234.4 1309.5,1234.4 1311.5,1234.5 1313.5,1234.5 1315.5,1234.5 1317.5,1234.5 1319.5,1234.6 1321.5,1234.6 1323.5,1234.6 1325.5,1234.6 1327.6,1234.6 1329.6,1234.7 1331.6,1234.7 1333.6,1234.7 1335.6,1234.7 1337.6,1234.7 1339.6,1234.7 1341.6,1234.8 1343.6,1234.8 1345.6,1234.8 1347.6,1234.8 1349.6,1234.8 1351.6,1234.8 1353.6,1234.8 1355.6,1234.8 1357.6,1234.9 1359.6,1234.9 1361.6,1234.9 1363.6,1234.9 1365.6,1234.9 1367.6,1234.9 1369.6,1234.9 1371.6,1234.9 1373.6,1234.9 1375.6,1234.9 1377.6,1234.9 1379.6,1235.0 1381.6,1235.0 1383.6,1235.0 1385.6,1235.0 1387.6,1235.0 1389.6,1235.0 1391.6,1235.0 1393.6,1235.0 1395.6,1235.0 1397.6,1235.0 1399.6,1235.0 1401.6,1235.0 1403.6,1235.0 1405.6,1235.0 1407.6,1235.0 1409.6,1235.0 1411.6,1235.0 1413.6,1235.0 1415.6,1235.0 1417.6,1235.1 1419.6,1235.1 1421.6,1235.1 1423.6,1235.1 1425.6,1235.1 1427.6,1235.1 1429.6,1235.1 1431.6,1235.1 1433.6,1235.1 1435.6,1235.1 1437.6,1235.1 1439.6,1235.1 1441.6,1235.1 1443.6,1235.1 1445.6,1235.1 1447.6,1235.1 1449.6,1235.1 1451.6,1235.1 1453.6,1235.1 1455.6,1235.1 1457.6,1235.1 1459.6,1235.1 1461.6,1235.1 1463.6,1235.1 1465.6,1235.1 1467.6,1235.1 1469.6,1235.1 1471.7,1235.1 1473.7,1235.1 1475.7,1235.1 1477.7,1235.1 1479.7,1235.1 1481.7,1235.1 1483.7,1235.1 1485.7,1235.1 1487.7,1235.1 1489.7,1235.1 1491.7,1235.1 1493.7,1235.1 1495.7,1235.1 1497.7,1235.1 1499.7,1235.1 1501.7,1235.1 1503.7,1235.1 1505.7,1235.1 1507.7,1235.1 1509.7,1235.1 1511.7,1235.1 1513.7,1235.1 1515.7,1235.1 1517.7,1235.1 1519.7,1235.1 1521.7,1235.1 1523.7,1235.1 1525.7,1235.1 1527.7,1235.1 1529.7,1235.1 1531.7,1235.1 1533.7,1235.1 1535.7,1235.1 1537.7,1235.1 1539.7,1235.1 1541.7,1235.0 1543.7,1235.0 1545.7,1235.0 1547.7,1235.0 1549.7,1235.0 1551.7,1235.0 1553.7,1235.0 1555.7,1235.0 1557.7,1235.0 1559.7,1235.0 1561.7,1235.0 1563.7,1235.0 1565.7,1235.0 1567.7,1235.0 1569.7,1235.0 1571.7,1235.0 1573.7,1235.0 1575.7,1235.0 1577.7,1235.0 1579.7,1235.0 1581.7,1235.0 1583.7,1235.0 1585.7,1235.0 1587.7,1235.0 1589.7,1235.0 1591.7,1235.0 1593.7,1235.0 1595.7,1235.0 1597.7,1235.0 1599.7,1235.0 1601.7,1235.0 1603.7,1235.0 1605.7,1234.9 1607.7,1234.9 1609.7,1234.9 1611.7,1234.9 1613.8,1234.9 1615.8,1234.9 1617.8,1234.9 1619.8,1234.9 1621.8,1234.9 1623.8,1234.9 1625.8,1234.9 1627.8,1234.9 1629.8,1234.9 1631.8,1234.9 1633.8,1234.9 1635.8,1234.9 1637.8,1234.9 1639.8,1234.9 1641.8,1234.9 1643.8,1234.9 1645.8,1234.9 1647.8,1234.9 1649.8,1234.9 1651.8,1234.9 1653.8,1234.8 1655.8,1234.8 1657.8,1234.8 1659.8,1234.8 1661.8,1234.8 1663.8,1234.8 1665.8,1234.8 1667.8,1234.8 1669.8,1234.8 1671.8,1234.8 1673.8,1234.8 1675.8,1234.8 1677.8,1234.8 1679.8,1234.8 1681.8,1234.8 1683.8,1234.8 1685.8,1234.8 1687.8,1234.8 1689.8,1234.8 1691.8,1234.8 1693.8,1234.8 1695.8,1234.8 1697.8,1234.8 1699.8,1234.7 1701.8,1234.7 1703.8,1234.7 1705.8,1234.7 1707.8,1234.7 1709.8,1234.7 1711.8,1234.7 1713.8,1234.7 1715.8,1234.7 1717.8,1234.7 1719.8,1234.7 1721.8,1234.7 1723.8,1234.7 1725.8,1234.7 1727.8,1234.7 1729.8,1234.7 1731.8,1234.7 1733.8,1234.7 1735.8,1234.7 1737.8,1234.7 1739.8,1234.7 1741.8,1234.7 1743.8,1234.6 1745.8,1234.6 1747.8,1234.6 1749.8,1234.6 1751.8,1234.6 1753.8,1234.6 1755.8,1234.6 1757.9,1234.6 1759.9,1234.6 1761.9,1234.6 1763.9,1234.6 1765.9,1234.6 1767.9,1234.6 1769.9,1234.6 1771.9,1234.6 1773.9,1234.6 1775.9,1234.6 1777.9,1234.6 1779.9,1234.6 1781.9,1234.6 1783.9,1234.6 1785.9,1234.6 1787.9,1234.5 1789.9,1234.5 1791.9,1234.5 1793.9,1234.5 1795.9,1234.5 1797.9,1234.5 1799.9,1234.5 1801.9,1234.5 1803.9,1234.5 1805.9,1234.5 1807.9,1234.5 1809.9,1234.5 1811.9,1234.5 1813.9,1234.5 1815.9,1234.5 1817.9,1234.5 1819.9,1234.5 1821.9,1234.5 1823.9,1234.5 1825.9,1234.5 1827.9,1234.5 1829.9,1234.5 1831.9,1234.5 1833.9,1234.5 1835.9,1234.5 1837.9,1234.4 1839.9,1234.4 1841.9,1234.4 1843.9,1234.4 1845.9,1234.4 1847.9,1234.4 1849.9,1234.4 1851.9,1234.4 1853.9,1234.4 1855.9,1234.4 1857.9,1234.4 1859.9,1234.4 1861.9,1234.4 1863.9,1234.4 1865.9,1234.4 1867.9,1234.4 1869.9,1234.4 1871.9,1234.4 1873.9,1234.4 1875.9,1234.4 1877.9,1234.4 1879.9,1234.4 1881.9,1234.4 1883.9,1234.4 1885.9,1234.4 1887.9,1234.4 1889.9,1234.4 1891.9,1234.4 1893.9,1234.4 1895.9,1234.4 1897.9,1234.4 1900.0,1234.3 1902.0,1234.3 1904.0,1234.3 1906.0,1234.3 1908.0,1234.3 1910.0,1234.3 1912.0,1234.3 1914.0,1234.3 1916.0,1234.3 1918.0,1234.3 1920.0,1234.3 1922.0,1234.3 1924.0,1234.3 1926.0,1234.3 1928.0,1234.3 1930.0,1234.3 1932.0,1234.3 1934.0,1234.3 1936.0,1234.3 1938.0,1234.3 1940.0,1234.3 1942.0,1234.3 1944.0,1234.3 1946.0,1234.3 1948.0,1234.3 1950.0,1234.3 1952.0,1234.3 1954.0,1234.3 1956.0,1234.3 1958.0,1234.3 1960.0,1234.3 1962.0,1234.3 1964.0,1234.3 1966.0,1234.3 1968.0,1234.3 1970.0,1234.3" stroke="#00B050" stroke-width="7" fill="none" stroke-linejoin="round" stroke-linecap="butt"/>
<path d="M298.5,651.0L298.6,653.0 298.7,655.0 298.8,657.0 298.9,659.0 299.0,661.0 299.0,663.0 299.1,665.0 299.2,667.0 299.3,669.0 299.4,671.0 299.5,673.0 299.6,675.0 299.7,677.0 299.8,679.0 299.9,681.0 300.0,683.0 300.1,685.0 300.2,687.0 300.3,689.0 300.4,691.0 300.5,693.0 300.7,695.0 300.8,697.0 300.9,699.0 301.1,701.0 301.2,703.0 301.4,705.0 301.5,707.0 301.7,709.0 301.8,710.9 302.0,712.9 302.1,714.9 302.3,716.9 302.5,718.9 302.6,720.9 302.8,722.9 302.9,724.9 303.1,726.9 303.3,728.9 303.4,730.9 303.6,732.9 303.8,734.9 304.0,736.9 304.1,738.9 304.3,740.9 304.5,742.9 304.7,744.9 304.8,746.8 305.0,748.8 305.2,750.8 305.4,752.8 305.6,754.8 305.7,756.8 305.9,758.8 306.1,760.8 306.3,762.8 306.5,764.8 306.7,766.8 306.9,768.8 307.0,770.8 307.2,772.8 307.4,774.7 307.6,776.7 307.8,778.7 308.0,780.7 308.2,782.7 308.4,784.7 308.6,786.7 308.8,788.7 309.0,790.7 309.2,792.7 309.4,794.7 309.6,796.7 309.8,798.6 310.0,800.6 310.2,802.6 310.4,804.6 310.7,806.6 310.9,808.6 311.1,810.6 311.3,812.6 311.5,814.6 311.7,816.6 311.9,818.5 312.2,820.5 312.4,822.5 312.6,824.5 312.8,826.5 313.1,828.5 313.3,830.5 313.5,832.5 313.7,834.5 314.0,836.5 314.2,838.4 314.4,840.4 314.6,842.4 314.9,844.4 315.1,846.4 315.3,848.4 315.6,850.4 315.8,852.4 316.0,854.3 316.3,856.3 316.5,858.3 316.7,860.3 317.0,862.3 317.2,864.3 317.5,866.3 317.7,868.3 317.9,870.2 318.2,872.2 318.4,874.2 318.7,876.2 318.9,878.2 319.2,880.2 319.4,882.2 319.6,884.1 319.9,886.1 320.1,888.1 320.4,890.1 320.6,892.1 320.9,894.1 321.1,896.1 321.4,898.0 321.7,900.0 321.9,902.0 322.2,904.0 322.4,906.0 322.7,908.0 322.9,910.0 323.2,911.9 323.5,913.9 323.7,915.9 324.0,917.9 324.3,919.9 324.5,921.9 324.8,923.8 325.1,925.8 325.3,927.8 325.6,929.8 325.9,931.8 326.2,933.8 326.4,935.7 326.7,937.7 327.0,939.7 327.3,941.7 327.6,943.7 327.9,945.6 328.2,947.6 328.5,949.6 328.8,951.6 329.1,953.6 329.4,955.5 329.7,957.5 330.0,959.5 330.4,961.5 330.7,963.4 331.1,965.4 331.4,967.4 331.8,969.3 332.1,971.3 332.5,973.3 332.9,975.2 333.3,977.2 333.7,979.2 334.1,981.1 334.5,983.1 334.9,985.0 335.3,987.0 335.7,989.0 336.2,990.9 336.6,992.9 337.0,994.8 337.4,996.8 337.8,998.7 338.2,1000.7 338.6,1002.7 339.0,1004.6 339.4,1006.6 339.8,1008.6 340.2,1010.5 340.6,1012.5 341.0,1014.4 341.4,1016.4 341.8,1018.4 342.2,1020.3 342.6,1022.3 343.0,1024.2 343.4,1026.2 343.8,1028.2 344.3,1030.1 344.7,1032.1 345.2,1034.0 345.6,1036.0 346.1,1037.9 346.6,1039.8 347.1,1041.8 347.6,1043.7 348.1,1045.6 348.7,1047.6 349.2,1049.5 349.8,1051.4 350.3,1053.4 350.9,1055.3 351.5,1057.2 352.0,1059.1 352.6,1061.0 353.2,1062.9 353.8,1064.8 354.4,1066.7 355.0,1068.7 355.7,1070.6 356.3,1072.5 356.9,1074.4 357.5,1076.3 358.2,1078.2 358.8,1080.1 359.4,1081.9 360.1,1083.8 360.7,1085.7 361.3,1087.6 362.0,1089.5 362.6,1091.4 363.2,1093.3 363.9,1095.2 364.5,1097.1 365.2,1099.0 365.9,1100.9 366.6,1102.8 367.3,1104.6 368.0,1106.5 368.8,1108.4 369.6,1110.2 370.4,1112.0 371.2,1113.8 372.1,1115.6 373.0,1117.4 373.9,1119.2 374.8,1121.0 375.8,1122.7 376.8,1124.5 377.8,1126.2 378.8,1127.9 379.8,1129.6 380.8,1131.4 381.9,1133.1 382.9,1134.8 384.0,1136.5 385.1,1138.2 386.2,1139.8 387.3,1141.5 388.4,1143.2 389.5,1144.8 390.6,1146.5 391.7,1148.1 392.9,1149.8 394.0,1151.4 395.2,1153.1 396.3,1154.7 397.5,1156.3 398.7,1157.9 399.9,1159.5 401.1,1161.1 402.3,1162.7 403.6,1164.3 404.8,1165.8 406.1,1167.4 407.3,1168.9 408.6,1170.5 409.9,1172.0 411.2,1173.5 412.5,1175.0 413.9,1176.5 415.2,1178.0 416.6,1179.4 418.0,1180.9 419.4,1182.3 420.9,1183.7 422.3,1185.0 423.8,1186.4 425.3,1187.7 426.8,1189.1 428.3,1190.4 429.8,1191.6 431.4,1192.9 433.0,1194.1 434.5,1195.3 436.2,1196.5 437.8,1197.7 439.4,1198.8 441.1,1200.0 442.8,1201.0 444.5,1202.1 446.2,1203.1 447.9,1204.1 449.6,1205.1 451.4,1206.0 453.2,1206.9 455.0,1207.8 456.8,1208.6 458.6,1209.4 460.5,1210.2 462.4,1210.9 464.2,1211.5 466.1,1212.2 468.1,1212.7 470.0,1213.3 471.9,1213.8 473.9,1214.2 475.8,1214.6 477.8,1215.0 479.8,1215.3 481.7,1215.6 483.7,1215.9 485.7,1216.2 487.7,1216.4 489.7,1216.6 491.7,1216.7 493.7,1216.9 495.7,1217.0 497.7,1217.1 499.6,1217.1 501.6,1217.2 503.6,1217.1 505.6,1217.1 507.6,1217.0 509.6,1216.8 511.6,1216.7 513.6,1216.5 515.6,1216.2 517.6,1216.0 519.6,1215.7 521.5,1215.4 523.5,1215.1 525.5,1214.7 527.5,1214.4 529.4,1214.1 531.4,1213.7 533.4,1213.4 535.4,1213.0 537.3,1212.7 539.3,1212.3 541.2,1211.9 543.2,1211.5 545.2,1211.1 547.1,1210.7 549.1,1210.2 551.0,1209.8 553.0,1209.3 554.9,1208.8 556.8,1208.3 558.8,1207.7 560.7,1207.2 562.6,1206.6 564.5,1206.0 566.4,1205.3 568.3,1204.7 570.1,1204.0 572.0,1203.2 573.9,1202.5 575.7,1201.7 577.5,1200.9 579.4,1200.1 581.2,1199.3 583.0,1198.5 584.8,1197.7 586.7,1196.8 588.5,1196.0 590.3,1195.1 592.1,1194.3 593.9,1193.4 595.7,1192.6 597.5,1191.7 599.3,1190.8 601.1,1189.9 602.9,1189.0 604.7,1188.1 606.5,1187.2 608.3,1186.3 610.0,1185.4 611.8,1184.5 613.6,1183.5 615.3,1182.6 617.1,1181.6 618.9,1180.7 620.6,1179.7 622.4,1178.7 624.1,1177.7 625.8,1176.7 627.5,1175.7 629.2,1174.7 631.0,1173.6 632.7,1172.5 634.3,1171.5 636.0,1170.4 637.7,1169.3 639.3,1168.2 641.0,1167.0 642.6,1165.9 644.2,1164.7 645.9,1163.5 647.5,1162.3 649.1,1161.1 650.7,1159.9 652.2,1158.7 653.8,1157.4 655.4,1156.2 656.9,1154.9 658.5,1153.6 660.0,1152.4 661.5,1151.1 663.1,1149.8 664.6,1148.5 666.1,1147.2 667.6,1145.9 669.1,1144.5 670.6,1143.2 672.1,1141.9 673.6,1140.5 675.0,1139.2 676.5,1137.8 678.0,1136.4 679.4,1135.1 680.9,1133.7 682.3,1132.3 683.8,1130.9 685.2,1129.5 686.7,1128.2 688.1,1126.8 689.5,1125.4 691.0,1124.0 692.4,1122.6 693.8,1121.2 695.2,1119.7 696.6,1118.3 698.1,1116.9 699.5,1115.5 700.9,1114.1 702.3,1112.6 703.7,1111.2 705.1,1109.8 706.4,1108.3 707.8,1106.9 709.2,1105.4 710.5,1103.9 711.9,1102.5 713.3,1101.0 714.6,1099.5 715.9,1098.0 717.3,1096.5 718.6,1095.0 719.9,1093.5 721.2,1092.0 722.6,1090.5 723.9,1089.0 725.2,1087.5 726.5,1086.0 727.8,1084.4 729.1,1082.9 730.4,1081.4 731.7,1079.9 733.0,1078.3 734.2,1076.8 735.5,1075.3 736.8,1073.7 738.1,1072.2 739.4,1070.7 740.7,1069.1 742.0,1067.6 743.3,1066.1 744.5,1064.5 745.8,1063.0 747.1,1061.5 748.4,1059.9 749.7,1058.4 751.0,1056.9 752.3,1055.4 753.6,1053.8 754.9,1052.3 756.2,1050.8 757.5,1049.3 758.8,1047.7 760.1,1046.2 761.4,1044.7 762.7,1043.2 764.0,1041.7 765.3,1040.1 766.6,1038.6 767.9,1037.1 769.2,1035.6 770.5,1034.1 771.8,1032.6 773.1,1031.0 774.4,1029.5 775.7,1028.0 777.0,1026.5 778.3,1025.0 779.6,1023.4 780.9,1021.9 782.2,1020.4 783.5,1018.9 784.8,1017.3 786.1,1015.8 787.4,1014.3 788.7,1012.8 790.0,1011.3 791.3,1009.7 792.6,1008.2 793.9,1006.7 795.2,1005.2 796.5,1003.6 797.8,1002.1 799.1,1000.6 800.4,999.1 801.7,997.5 803.0,996.0 804.3,994.5 805.6,993.0 806.9,991.4 808.2,989.9 809.5,988.4 810.8,986.9 812.1,985.3 813.4,983.8 814.7,982.3 816.0,980.8 817.3,979.2 818.6,977.7 819.9,976.2 821.2,974.7 822.5,973.2 823.8,971.6 825.0,970.1 826.3,968.6 827.6,967.1 828.9,965.5 830.2,964.0 831.5,962.5 832.8,961.0 834.1,959.4 835.4,957.9 836.7,956.4 838.0,954.9 839.3,953.3 840.6,951.8 841.9,950.3 843.2,948.8 844.5,947.2 845.8,945.7 847.1,944.2 848.4,942.6 849.6,941.1 850.9,939.6 852.2,938.0 853.5,936.5 854.7,934.9 856.0,933.4 857.3,931.8 858.5,930.3 859.8,928.7 861.1,927.2 862.3,925.6 863.6,924.1 864.9,922.5 866.2,921.0 867.5,919.5 868.8,918.0 870.1,916.5 871.4,915.0 872.8,913.5 874.2,912.0 875.5,910.6 876.9,909.2 878.4,907.8 879.8,906.4 881.3,905.0 882.7,903.7 884.2,902.3 885.7,901.0 887.3,899.8 888.9,898.5 890.5,897.3 892.1,896.2 893.7,895.0 895.4,894.0 897.1,893.0 898.9,892.0 900.6,891.1 902.4,890.2 904.3,889.4 906.1,888.7 908.0,888.0 909.9,887.4 911.8,886.9 913.7,886.5 915.7,886.2 917.7,886.0 919.6,885.9 921.6,885.9 923.6,885.9 925.6,886.1 927.5,886.4 929.5,886.7 931.5,887.1 933.4,887.5 935.3,888.0 937.2,888.6 939.1,889.2 941.0,889.8 942.9,890.5 944.8,891.2 946.6,892.0 948.4,892.8 950.2,893.7 952.0,894.6 953.7,895.6 955.4,896.7 957.1,897.7 958.7,898.9 960.4,900.0 962.0,901.2 963.6,902.4 965.2,903.6 966.7,904.9 968.3,906.1 969.9,907.3 971.5,908.6 973.0,909.8 974.7,911.0 976.3,912.1 977.9,913.3 979.6,914.4 981.3,915.5 983.0,916.5 984.7,917.5 986.4,918.5 988.2,919.5 989.9,920.5 991.7,921.4 993.4,922.4 995.2,923.3 997.0,924.2 998.7,925.2 1000.5,926.1 1002.2,927.1 1004.0,928.1 1005.7,929.1 1007.4,930.1 1009.1,931.2 1010.8,932.3 1012.5,933.3 1014.2,934.5 1015.8,935.6 1017.5,936.7 1019.1,937.9 1020.7,939.0 1022.3,940.2 1023.9,941.4 1025.5,942.6 1027.1,943.9 1028.6,945.2 1030.1,946.5 1031.5,947.9 1032.9,949.3 1034.3,950.7 1035.5,952.3 1036.7,953.8 1037.9,955.5 1039.0,957.1 1040.1,958.8 1041.1,960.5 1042.2,962.2 1043.3,963.9 1044.4,965.5 1045.4,967.2 1046.5,968.9 1047.6,970.6 1048.7,972.2 1049.8,973.9 1050.9,975.6 1052.0,977.3 1053.0,979.0 1054.1,980.7 1055.1,982.4 1056.1,984.1 1057.1,985.9 1058.1,987.6 1059.0,989.4 1059.9,991.2 1060.8,993.0 1061.6,994.8 1062.4,996.6 1063.2,998.5 1064.0,1000.3 1064.7,1002.2 1065.5,1004.0 1066.2,1005.9 1066.9,1007.8 1067.6,1009.6 1068.3,1011.5 1069.0,1013.4 1069.7,1015.3 1070.4,1017.1 1071.1,1019.0 1071.8,1020.9 1072.6,1022.7 1073.3,1024.6 1074.0,1026.5 1074.7,1028.3 1075.4,1030.2 1076.2,1032.1 1076.9,1033.9 1077.6,1035.8 1078.3,1037.7 1079.0,1039.6 1079.7,1041.4 1080.4,1043.3 1081.1,1045.2 1081.8,1047.1 1082.5,1048.9 1083.2,1050.8 1083.9,1052.7 1084.6,1054.6 1085.3,1056.4 1086.0,1058.3 1086.7,1060.2 1087.4,1062.1 1088.1,1063.9 1088.8,1065.8 1089.5,1067.7 1090.2,1069.6 1090.9,1071.4 1091.6,1073.3 1092.3,1075.2 1093.0,1077.1 1093.7,1078.9 1094.4,1080.8 1095.2,1082.7 1095.9,1084.5 1096.6,1086.4 1097.3,1088.3 1098.0,1090.1 1098.7,1092.0 1099.5,1093.9 1100.2,1095.7 1100.9,1097.6 1101.6,1099.5 1102.4,1101.3 1103.1,1103.2 1103.8,1105.1 1104.6,1106.9 1105.3,1108.8 1106.1,1110.6 1106.8,1112.5 1107.6,1114.3 1108.3,1116.2 1109.1,1118.0 1109.9,1119.9 1110.6,1121.7 1111.4,1123.6 1112.2,1125.4 1113.0,1127.3 1113.8,1129.1 1114.6,1130.9 1115.4,1132.8 1116.2,1134.6 1117.1,1136.4 1117.9,1138.2 1118.8,1140.0 1119.6,1141.8 1120.5,1143.6 1121.4,1145.4 1122.3,1147.2 1123.2,1149.0 1124.1,1150.8 1125.0,1152.6 1125.9,1154.4 1126.8,1156.1 1127.7,1157.9 1128.7,1159.7 1129.6,1161.4 1130.6,1163.2 1131.6,1165.0 1132.5,1166.7 1133.5,1168.4 1134.5,1170.2 1135.5,1171.9 1136.5,1173.6 1137.6,1175.3 1138.6,1177.1 1139.7,1178.8 1140.7,1180.4 1141.8,1182.1 1142.9,1183.8 1144.0,1185.5 1145.1,1187.1 1146.2,1188.8 1147.4,1190.4 1148.5,1192.1 1149.7,1193.7 1150.9,1195.3 1152.1,1196.9 1153.3,1198.5 1154.5,1200.1 1155.8,1201.6 1157.2,1203.1 1158.5,1204.5 1160.0,1205.9 1161.4,1207.3 1162.9,1208.6 1164.4,1209.9 1166.0,1211.1 1167.6,1212.3 1169.3,1213.4 1170.9,1214.5 1172.6,1215.5 1174.3,1216.6 1176.1,1217.6 1177.8,1218.5 1179.6,1219.5 1181.4,1220.4 1183.2,1221.3 1185.0,1222.1 1186.8,1222.9 1188.6,1223.7 1190.5,1224.5 1192.4,1225.2 1194.2,1225.9 1196.1,1226.6 1198.0,1227.2 1199.9,1227.8 1201.8,1228.3 1203.8,1228.8 1205.7,1229.3 1207.7,1229.7 1209.6,1230.1 1211.6,1230.4 1213.6,1230.7 1215.6,1231.0 1217.5,1231.2 1219.5,1231.5 1221.5,1231.7 1223.5,1231.8 1225.5,1232.0 1227.5,1232.2 1229.5,1232.3 1231.5,1232.4 1233.5,1232.6 1235.5,1232.7 1237.5,1232.8 1239.5,1233.0 1241.5,1233.1 1243.5,1233.2 1245.5,1233.3 1247.5,1233.4 1249.5,1233.5 1251.5,1233.6 1253.5,1233.7 1255.5,1233.8 1257.5,1233.8 1259.5,1233.9 1261.5,1233.9 1263.5,1234.0 1265.5,1234.0 1267.5,1234.0 1269.5,1234.1 1271.5,1234.1 1273.5,1234.1 1275.5,1234.1 1277.5,1234.1 1279.5,1234.1 1281.5,1234.1 1283.5,1234.2 1285.5,1234.2 1287.5,1234.2 1289.5,1234.2 1291.5,1234.2 1293.5,1234.2 1295.5,1234.3 1297.5,1234.3 1299.5,1234.3 1301.5,1234.3 1303.5,1234.3 1305.5,1234.4 1307.5,1234.4 1309.5,1234.4 1311.5,1234.4 1313.5,1234.4 1315.5,1234.4 1317.5,1234.5 1319.5,1234.5 1321.5,1234.5 1323.5,1234.5 1325.5,1234.5 1327.5,1234.5 1329.5,1234.5 1331.5,1234.5 1333.5,1234.5 1335.5,1234.6 1337.5,1234.6 1339.5,1234.6 1341.5,1234.6 1343.5,1234.6 1345.5,1234.6 1347.5,1234.6 1349.5,1234.6 1351.5,1234.6 1353.5,1234.6 1355.5,1234.6 1357.5,1234.6 1359.5,1234.7 1361.5,1234.7 1363.5,1234.7 1365.5,1234.7 1367.5,1234.7 1369.6,1234.7 1371.6,1234.7 1373.6,1234.7 1375.6,1234.7 1377.6,1234.7 1379.6,1234.7 1381.6,1234.7 1383.6,1234.7 1385.6,1234.7 1387.6,1234.7 1389.6,1234.7 1391.6,1234.7 1393.6,1234.7 1395.6,1234.7 1397.6,1234.7 1399.6,1234.7 1401.6,1234.8 1403.6,1234.8 1405.6,1234.8 1407.6,1234.8 1409.6,1234.8 1411.6,1234.8 1413.6,1234.8 1415.6,1234.8 1417.6,1234.8 1419.6,1234.8 1421.6,1234.8 1423.6,1234.8 1425.6,1234.8 1427.6,1234.8 1429.6,1234.8 1431.6,1234.8 1433.6,1234.8 1435.6,1234.8 1437.6,1234.8 1439.6,1234.8 1441.6,1234.8 1443.6,1234.8 1445.6,1234.8 1447.6,1234.8 1449.6,1234.8 1451.6,1234.8 1453.6,1234.8 1455.6,1234.8 1457.6,1234.8 1459.6,1234.8 1461.6,1234.8 1463.6,1234.8 1465.6,1234.8 1467.6,1234.8 1469.6,1234.8 1471.6,1234.8 1473.6,1234.8 1475.6,1234.8 1477.6,1234.8 1479.6,1234.8 1481.6,1234.8 1483.6,1234.8 1485.6,1234.8 1487.6,1234.8 1489.6,1234.8 1491.6,1234.8 1493.6,1234.8 1495.6,1234.8 1497.6,1234.8 1499.6,1234.8 1501.7,1234.8 1503.7,1234.8 1505.7,1234.8 1507.7,1234.8 1509.7,1234.8 1511.7,1234.8 1513.7,1234.8 1515.7,1234.8 1517.7,1234.8 1519.7,1234.8 1521.7,1234.8 1523.7,1234.8 1525.7,1234.8 1527.7,1234.8 1529.7,1234.8 1531.7,1234.8 1533.7,1234.8 1535.7,1234.8 1537.7,1234.8 1539.7,1234.8 1541.7,1234.8 1543.7,1234.8 1545.7,1234.8 1547.7,1234.8 1549.7,1234.8 1551.7,1234.8 1553.7,1234.8 1555.7,1234.8 1557.7,1234.8 1559.7,1234.7 1561.7,1234.7 1563.7,1234.7 1565.7,1234.7 1567.7,1234.7 1569.7,1234.7 1571.7,1234.7 1573.7,1234.7 1575.7,1234.7 1577.7,1234.7 1579.7,1234.7 1581.7,1234.7 1583.7,1234.7 1585.7,1234.7 1587.7,1234.7 1589.7,1234.7 1591.7,1234.7 1593.7,1234.7 1595.7,1234.7 1597.7,1234.7 1599.7,1234.7 1601.7,1234.7 1603.7,1234.7 1605.7,1234.7 1607.7,1234.7 1609.7,1234.7 1611.7,1234.7 1613.7,1234.7 1615.7,1234.7 1617.7,1234.7 1619.7,1234.7 1621.7,1234.7 1623.7,1234.7 1625.7,1234.7 1627.7,1234.7 1629.7,1234.7 1631.7,1234.7 1633.7,1234.7 1635.8,1234.7 1637.8,1234.7 1639.8,1234.7 1641.8,1234.7 1643.8,1234.7 1645.8,1234.6 1647.8,1234.6 1649.8,1234.6 1651.8,1234.6 1653.8,1234.6 1655.8,1234.6 1657.8,1234.6 1659.8,1234.6 1661.8,1234.6 1663.8,1234.6 1665.8,1234.6 1667.8,1234.6 1669.8,1234.6 1671.8,1234.6 1673.8,1234.6 1675.8,1234.6 1677.8,1234.6 1679.8,1234.6 1681.8,1234.6 1683.8,1234.6 1685.8,1234.6 1687.8,1234.6 1689.8,1234.6 1691.8,1234.6 1693.8,1234.6 1695.8,1234.6 1697.8,1234.6 1699.8,1234.6 1701.8,1234.6 1703.8,1234.6 1705.8,1234.6 1707.8,1234.6 1709.8,1234.6 1711.8,1234.6 1713.8,1234.6 1715.8,1234.6 1717.8,1234.6 1719.8,1234.5 1721.8,1234.5 1723.8,1234.5 1725.8,1234.5 1727.8,1234.5 1729.8,1234.5 1731.8,1234.5 1733.8,1234.5 1735.8,1234.5 1737.8,1234.5 1739.8,1234.5 1741.8,1234.5 1743.8,1234.5 1745.8,1234.5 1747.8,1234.5 1749.8,1234.5 1751.8,1234.5 1753.8,1234.5 1755.8,1234.5 1757.8,1234.5 1759.8,1234.5 1761.8,1234.5 1763.8,1234.5 1765.8,1234.5 1767.8,1234.5 1769.9,1234.5 1771.9,1234.5 1773.9,1234.5 1775.9,1234.5 1777.9,1234.5 1779.9,1234.5 1781.9,1234.5 1783.9,1234.5 1785.9,1234.5 1787.9,1234.5 1789.9,1234.5 1791.9,1234.4 1793.9,1234.4 1795.9,1234.4 1797.9,1234.4 1799.9,1234.4 1801.9,1234.4 1803.9,1234.4 1805.9,1234.4 1807.9,1234.4 1809.9,1234.4 1811.9,1234.4 1813.9,1234.4 1815.9,1234.4 1817.9,1234.4 1819.9,1234.4 1821.9,1234.4 1823.9,1234.4 1825.9,1234.4 1827.9,1234.4 1829.9,1234.4 1831.9,1234.4 1833.9,1234.4 1835.9,1234.4 1837.9,1234.4 1839.9,1234.4 1841.9,1234.4 1843.9,1234.4 1845.9,1234.4 1847.9,1234.4 1849.9,1234.4 1851.9,1234.4 1853.9,1234.4 1855.9,1234.4 1857.9,1234.4 1859.9,1234.4 1861.9,1234.4 1863.9,1234.4 1865.9,1234.4 1867.9,1234.4 1869.9,1234.4 1871.9,1234.4 1873.9,1234.4 1875.9,1234.4 1877.9,1234.3 1879.9,1234.3 1881.9,1234.3 1883.9,1234.3 1885.9,1234.3 1887.9,1234.3 1889.9,1234.3 1891.9,1234.3 1893.9,1234.3 1895.9,1234.3 1897.9,1234.3 1899.9,1234.3 1901.9,1234.3 1904.0,1234.3 1906.0,1234.3 1908.0,1234.3 1910.0,1234.3 1912.0,1234.3 1914.0,1234.3 1916.0,1234.3 1918.0,1234.3 1920.0,1234.3 1922.0,1234.3 1924.0,1234.3 1926.0,1234.3 1928.0,1234.3 1930.0,1234.3 1932.0,1234.3 1934.0,1234.3 1936.0,1234.3 1938.0,1234.3 1940.0,1234.3 1942.0,1234.3 1944.0,1234.3 1946.0,1234.3 1948.0,1234.3 1950.0,1234.3 1952.0,1234.3 1954.0,1234.3 1956.0,1234.3 1958.0,1234.3 1960.0,1234.3 1962.0,1234.3 1964.0,1234.3 1966.0,1234.3 1968.0,1234.3 1970.0,1234.3" stroke="#00FFFF" stroke-width="7" fill="none" stroke-linejoin="round" stroke-linecap="butt"/>
<path d="M928.5,1187.0L929.1,1185.1 929.8,1183.2 930.4,1181.3 931.1,1179.4 931.7,1177.5 932.4,1175.6 933.0,1173.7 933.7,1171.8 934.3,1170.0 934.9,1168.1 935.6,1166.2 936.2,1164.3 936.9,1162.4 937.5,1160.5 938.2,1158.6 938.8,1156.7 939.5,1154.8 940.1,1152.9 940.8,1151.0 941.4,1149.1 942.1,1147.2 942.7,1145.3 943.3,1143.4 944.0,1141.5 944.6,1139.6 945.2,1137.7 945.8,1135.8 946.5,1133.9 947.1,1132.0 947.7,1130.1 948.3,1128.2 948.9,1126.3 949.5,1124.4 950.1,1122.5 950.7,1120.6 951.3,1118.7 951.9,1116.8 952.5,1114.9 953.1,1112.9 953.7,1111.0 954.3,1109.1 954.9,1107.2 955.6,1105.3 956.2,1103.4 956.8,1101.5 957.4,1099.6 958.1,1097.7 958.7,1095.8 959.3,1093.9 959.8,1092.0 960.4,1090.1 960.9,1088.1 961.4,1086.2 961.8,1084.3 962.3,1082.3 962.7,1080.3 963.0,1078.4 963.3,1076.4 963.6,1074.4 963.9,1072.4 964.1,1070.5 964.3,1068.5 964.5,1066.5 964.6,1064.5 964.8,1062.5 964.9,1060.5 965.0,1058.5 965.1,1056.5 965.2,1054.5 965.3,1052.5 965.4,1050.5 965.5,1048.5 965.6,1046.5 965.7,1044.5 965.9,1042.5 966.0,1040.5 966.2,1038.5 966.3,1036.5 966.5,1034.5 966.7,1032.5 966.9,1030.6 967.2,1028.6 967.4,1026.6 967.7,1024.6 968.0,1022.6 968.2,1020.6 968.5,1018.7 968.8,1016.7 969.1,1014.7 969.5,1012.7 969.8,1010.8 970.1,1008.8 970.4,1006.8 970.8,1004.8 971.1,1002.9 971.4,1000.9 971.8,998.9 972.1,996.9 972.4,995.0 972.8,993.0 973.1,991.0 973.4,989.0 973.7,987.1 974.1,985.1 974.4,983.1 974.7,981.1 975.0,979.2 975.3,977.2 975.6,975.2 975.9,973.2 976.1,971.2 976.4,969.3 976.7,967.3 977.0,965.3 977.2,963.3 977.5,961.3 977.8,959.4 978.0,957.4 978.3,955.4 978.5,953.4 978.8,951.4 979.0,949.4 979.3,947.4 979.5,945.5 979.8,943.5 980.0,941.5 980.2,939.5 980.5,937.5 980.7,935.5 980.9,933.5 981.2,931.5 981.4,929.6 981.6,927.6 981.8,925.6 982.1,923.6 982.3,921.6 982.5,919.6 982.7,917.6 982.9,915.6 983.2,913.7 983.4,911.7 983.6,909.7 983.9,907.7 984.1,905.7 984.3,903.7 984.6,901.7 984.8,899.7 985.1,897.8 985.3,895.8 985.6,893.8 985.9,891.8 986.1,889.8 986.4,887.8 986.7,885.9 987.0,883.9 987.3,881.9 987.6,879.9 987.8,877.9 988.1,876.0 988.4,874.0 988.7,872.0 988.9,870.0 989.2,868.0 989.5,866.0 989.7,864.1 990.0,862.1 990.2,860.1 990.5,858.1 990.7,856.1 991.0,854.1 991.2,852.1 991.5,850.2 991.7,848.2 992.0,846.2 992.2,844.2 992.4,842.2 992.7,840.2 992.9,838.2 993.2,836.3 993.4,834.3 993.6,832.3 993.9,830.3 994.1,828.3 994.3,826.3 994.6,824.3 994.8,822.3 995.0,820.4 995.2,818.4 995.5,816.4 995.7,814.4 995.9,812.4 996.1,810.4 996.3,808.4 996.5,806.4 996.7,804.4 996.9,802.5 997.1,800.5 997.3,798.5 997.5,796.5 997.7,794.5 997.9,792.5 998.1,790.5 998.3,788.5 998.5,786.5 998.7,784.5 998.9,782.5 999.2,780.6 999.4,778.6 999.6,776.6 999.8,774.6 1000.1,772.6 1000.3,770.6 1000.5,768.6 1000.7,766.6 1001.0,764.7 1001.2,762.7 1001.4,760.7 1001.7,758.7 1001.9,756.7 1002.1,754.7 1002.3,752.7 1002.6,750.7 1002.8,748.7 1003.0,746.8 1003.2,744.8 1003.5,742.8 1003.7,740.8 1003.9,738.8 1004.1,736.8 1004.3,734.8 1004.5,732.8 1004.7,730.8 1004.9,728.9 1005.1,726.9 1005.3,724.9 1005.5,722.9 1005.7,720.9 1005.9,718.9 1006.1,716.9 1006.2,714.9 1006.4,712.9 1006.6,710.9 1006.8,708.9 1007.0,706.9 1007.2,705.0 1007.4,703.0 1007.6,701.0 1007.9,699.0 1008.1,697.0 1008.3,695.0 1008.5,693.0 1008.7,691.0 1008.9,689.0 1009.2,687.0 1009.4,685.1 1009.6,683.1 1009.8,681.1 1010.0,679.1 1010.3,677.1 1010.5,675.1 1010.7,673.1 1010.9,671.1 1011.2,669.2 1011.4,667.2 1011.6,665.2 1011.8,663.2 1012.1,661.2 1012.3,659.2 1012.5,657.2 1012.8,655.2 1013.0,653.2 1013.2,651.3 1013.5,649.3 1013.7,647.3 1013.9,645.3 1014.2,643.3 1014.4,641.3 1014.7,639.3 1014.9,637.4 1015.1,635.4 1015.4,633.4 1015.6,631.4 1015.9,629.4 1016.1,627.4 1016.3,625.4 1016.6,623.4 1016.8,621.5 1017.0,619.5 1017.2,617.5 1017.5,615.5 1017.7,613.5 1017.9,611.5 1018.1,609.5 1018.3,607.5 1018.6,605.6 1018.8,603.6 1019.0,601.6 1019.2,599.6 1019.4,597.6 1019.7,595.6 1019.9,593.6 1020.1,591.6 1020.3,589.6 1020.6,587.7 1020.8,585.7 1021.0,583.7 1021.2,581.7 1021.5,579.7 1021.7,577.7 1022.0,575.7 1022.2,573.7 1022.5,571.8 1022.7,569.8 1023.0,567.8 1023.2,565.8 1023.5,563.8 1023.8,561.8 1024.1,559.9 1024.4,557.9 1024.6,555.9 1024.9,553.9 1025.2,551.9 1025.5,550.0 1025.7,548.0 1026.0,546.0 1026.2,544.0 1026.5,542.0 1026.7,540.0 1026.9,538.0 1027.2,536.1 1027.4,534.1 1027.6,532.1 1027.9,530.1 1028.1,528.1 1028.3,526.1 1028.5,524.1 1028.8,522.1 1029.0,520.1 1029.2,518.2 1029.4,516.2 1029.6,514.2 1029.9,512.2 1030.1,510.2 1030.3,508.2 1030.5,506.2 1030.7,504.2 1031.0,502.2 1031.2,500.3 1031.4,498.3 1031.7,496.3 1031.9,494.3 1032.1,492.3 1032.4,490.3 1032.6,488.3 1032.9,486.4 1033.1,484.4 1033.4,482.4 1033.6,480.4 1033.9,478.4 1034.2,476.4 1034.4,474.5 1034.7,472.5 1035.0,470.5 1035.3,468.5 1035.5,466.5 1035.8,464.5 1036.1,462.6 1036.4,460.6 1036.7,458.6 1037.0,456.6 1037.3,454.6 1037.5,452.7 1037.8,450.7 1038.1,448.7 1038.4,446.7 1038.7,444.7 1039.0,442.8 1039.3,440.8 1039.6,438.8 1039.9,436.8 1040.2,434.9 1040.5,432.9 1040.8,430.9 1041.1,428.9 1041.4,426.9 1041.7,425.0 1042.1,423.0 1042.4,421.0 1042.7,419.0 1043.0,417.1 1043.4,415.1 1043.7,413.1 1044.0,411.1 1044.4,409.2 1044.7,407.2 1045.1,405.2 1045.5,403.3 1045.9,401.3 1046.3,399.3 1046.6,397.4 1047.0,395.4 1047.4,393.5 1047.8,391.5 1048.2,389.5 1048.6,387.6 1049.0,385.6 1049.4,383.7 1049.8,381.7 1050.2,379.7 1050.5,377.8 1050.9,375.8 1051.3,373.8 1051.6,371.9 1052.0,369.9 1052.3,367.9 1052.7,366.0 1053.1,364.0 1053.5,362.0 1053.9,360.1 1054.3,358.1 1054.8,356.2 1055.3,354.2 1055.7,352.3 1056.2,350.4 1056.8,348.4 1057.3,346.5 1057.8,344.6 1058.4,342.6 1059.0,340.7 1059.6,338.8 1060.2,336.9 1060.9,335.0 1061.6,333.2 1062.3,331.3 1063.0,329.4 1063.7,327.6 1064.5,325.7 1065.2,323.9 1066.0,322.0 1066.8,320.2 1067.7,318.4 1068.5,316.6 1069.5,314.8 1070.4,313.1 1071.5,311.5 1072.7,309.9 1073.9,308.5 1075.3,307.2 1076.8,306.0 1078.4,305.0 1080.1,304.1 1081.8,303.2 1083.6,302.5 1085.3,301.8 1087.1,301.3 1088.9,300.9 1090.7,300.7 1092.4,300.8 1094.2,301.2 1095.9,301.8 1097.6,302.6 1099.2,303.6 1100.8,304.7 1102.4,305.9 1103.9,307.2 1105.4,308.5 1106.8,309.9 1108.1,311.4 1109.3,313.0 1110.5,314.5 1111.6,316.2 1112.7,317.9 1113.7,319.6 1114.7,321.3 1115.7,323.1 1116.6,324.8 1117.5,326.6 1118.4,328.4 1119.3,330.2 1120.2,332.0 1121.1,333.8 1121.9,335.6 1122.8,337.4 1123.6,339.2 1124.5,341.0 1125.3,342.8 1126.2,344.6 1127.1,346.4 1128.0,348.2 1128.9,350.0 1129.8,351.8 1130.7,353.5 1131.7,355.3 1132.7,357.0 1133.7,358.8 1134.6,360.5 1135.6,362.3 1136.6,364.0 1137.6,365.8 1138.5,367.5 1139.4,369.3 1140.3,371.1 1141.2,372.9 1142.1,374.7 1142.9,376.5 1143.7,378.3 1144.5,380.2 1145.3,382.0 1146.1,383.8 1146.8,385.7 1147.6,387.6 1148.4,389.4 1149.1,391.3 1149.9,393.1 1150.6,395.0 1151.3,396.8 1152.1,398.7 1152.8,400.5 1153.6,402.4 1154.3,404.3 1155.1,406.1 1155.8,408.0 1156.5,409.8 1157.3,411.7 1158.0,413.6 1158.7,415.4 1159.5,417.3 1160.2,419.1 1161.0,421.0 1161.7,422.8 1162.5,424.7 1163.3,426.5 1164.0,428.4 1164.8,430.2 1165.6,432.1 1166.4,433.9 1167.2,435.7 1168.0,437.6 1168.8,439.4 1169.6,441.3 1170.4,443.1 1171.2,444.9 1172.0,446.8 1172.8,448.6 1173.6,450.4 1174.4,452.3 1175.2,454.1 1176.0,455.9 1176.8,457.8 1177.6,459.6 1178.4,461.4 1179.1,463.3 1179.9,465.1 1180.7,467.0 1181.5,468.8 1182.3,470.6 1183.1,472.5 1183.8,474.3 1184.6,476.2 1185.4,478.0 1186.2,479.9 1186.9,481.7 1187.7,483.6 1188.5,485.4 1189.2,487.3 1190.0,489.1 1190.7,491.0 1191.4,492.8 1192.1,494.7 1192.9,496.6 1193.6,498.4 1194.3,500.3 1194.9,502.2 1195.6,504.1 1196.3,506.0 1196.9,507.9 1197.6,509.8 1198.2,511.7 1198.8,513.6 1199.5,515.5 1200.1,517.4 1200.7,519.3 1201.3,521.2 1202.0,523.1 1202.6,525.0 1203.2,526.9 1203.8,528.8 1204.4,530.7 1205.0,532.6 1205.6,534.5 1206.3,536.4 1206.9,538.3 1207.5,540.2 1208.1,542.1 1208.8,544.0 1209.4,545.9 1210.0,547.8 1210.7,549.7 1211.4,551.6 1212.0,553.5 1212.7,555.3 1213.4,557.2 1214.1,559.1 1214.8,561.0 1215.5,562.9 1216.1,564.7 1216.8,566.6 1217.5,568.5 1218.2,570.4 1218.9,572.3 1219.5,574.1 1220.2,576.0 1220.9,577.9 1221.5,579.8 1222.2,581.7 1222.8,583.6 1223.4,585.5 1224.0,587.4 1224.7,589.3 1225.3,591.2 1225.9,593.1 1226.5,595.0 1227.1,596.9 1227.7,598.8 1228.3,600.7 1228.9,602.6 1229.6,604.5 1230.2,606.5 1230.8,608.4 1231.4,610.3 1232.0,612.2 1232.6,614.1 1233.2,616.0 1233.8,617.9 1234.4,619.8 1235.0,621.7 1235.7,623.6 1236.3,625.5 1236.9,627.4 1237.6,629.3 1238.2,631.2 1238.8,633.1 1239.5,635.0 1240.1,636.9 1240.8,638.8 1241.4,640.7 1242.1,642.6 1242.7,644.4 1243.4,646.3 1244.0,648.2 1244.7,650.1 1245.3,652.0 1246.0,653.9 1246.6,655.8 1247.2,657.7 1247.8,659.6 1248.5,661.5 1249.1,663.4 1249.7,665.3 1250.3,667.2 1250.9,669.1 1251.5,671.0 1252.1,672.9 1252.8,674.8 1253.4,676.8 1254.0,678.7 1254.6,680.6 1255.2,682.5 1255.8,684.4 1256.4,686.3 1257.0,688.2 1257.6,690.1 1258.2,692.0 1258.8,693.9 1259.4,695.8 1260.1,697.7 1260.7,699.6 1261.3,701.5 1261.9,703.4 1262.5,705.3 1263.2,707.2 1263.8,709.1 1264.4,711.0 1265.0,712.9 1265.7,714.8 1266.3,716.7 1266.9,718.6 1267.6,720.5 1268.2,722.4 1268.8,724.3 1269.5,726.2 1270.1,728.1 1270.7,730.0 1271.4,731.9 1272.0,733.8 1272.6,735.7 1273.3,737.6 1273.9,739.5 1274.6,741.4 1275.2,743.3 1275.9,745.2 1276.5,747.1 1277.1,749.0 1277.8,750.9 1278.4,752.8 1279.1,754.7 1279.7,756.6 1280.3,758.5 1281.0,760.4 1281.6,762.3 1282.2,764.2 1282.9,766.1 1283.5,768.0 1284.1,769.9 1284.7,771.8 1285.3,773.7 1285.9,775.6 1286.5,777.5 1287.0,779.4 1287.6,781.3 1288.1,783.3 1288.6,785.2 1289.1,787.1 1289.6,789.1 1290.1,791.0 1290.5,793.0 1291.0,794.9 1291.4,796.9 1291.8,798.8 1292.3,800.8 1292.7,802.7 1293.2,804.7 1293.7,806.6 1294.3,808.5 1294.9,810.4 1295.5,812.3 1296.2,814.2 1296.9,816.1 1297.7,817.9 1298.5,819.7 1299.3,821.5 1300.2,823.4 1301.0,825.1 1301.9,826.9 1302.8,828.7 1303.7,830.5 1304.6,832.3 1305.5,834.1 1306.4,835.9 1307.2,837.7 1308.1,839.5 1308.9,841.3 1309.7,843.2 1310.5,845.0 1311.3,846.8 1312.1,848.7 1312.8,850.5 1313.6,852.4 1314.4,854.2 1315.1,856.1 1315.9,857.9 1316.6,859.8 1317.4,861.6 1318.1,863.5 1318.9,865.3 1319.7,867.2 1320.4,869.1 1321.2,870.9 1321.9,872.8 1322.7,874.6 1323.4,876.5 1324.2,878.3 1325.0,880.2 1325.8,882.0 1326.6,883.8 1327.4,885.7 1328.2,887.5 1329.0,889.3 1329.8,891.1 1330.7,893.0 1331.5,894.8 1332.4,896.6 1333.2,898.4 1334.1,900.2 1334.9,902.0 1335.8,903.8 1336.6,905.6 1337.4,907.5 1338.3,909.3 1339.1,911.1 1339.9,912.9 1340.7,914.8 1341.5,916.6 1342.3,918.4 1343.1,920.3 1343.9,922.1 1344.7,923.9 1345.5,925.8 1346.4,927.6 1347.2,929.4 1348.0,931.2 1348.9,933.0 1349.7,934.9 1350.5,936.7 1351.4,938.5 1352.3,940.3 1353.1,942.1 1354.0,943.9 1354.9,945.7 1355.8,947.5 1356.7,949.3 1357.6,951.0 1358.5,952.8 1359.4,954.6 1360.4,956.3 1361.4,958.1 1362.4,959.8 1363.4,961.5 1364.4,963.2 1365.5,964.9 1366.6,966.6 1367.7,968.3 1368.8,970.0 1369.9,971.6 1371.0,973.3 1372.0,975.0 1373.1,976.7 1374.1,978.4 1375.1,980.2 1376.0,981.9 1376.9,983.7 1377.8,985.5 1378.7,987.3 1379.5,989.1 1380.4,990.9 1381.2,992.7 1382.0,994.5 1382.9,996.4 1383.7,998.2 1384.6,1000.0 1385.5,1001.8 1386.4,1003.6 1387.3,1005.3 1388.2,1007.1 1389.2,1008.8 1390.2,1010.6 1391.3,1012.3 1392.3,1014.0 1393.4,1015.7 1394.5,1017.4 1395.6,1019.0 1396.7,1020.7 1397.8,1022.3 1398.9,1024.0 1400.0,1025.6 1401.2,1027.3 1402.4,1028.9 1403.5,1030.5 1404.7,1032.2 1405.9,1033.8 1407.0,1035.4 1408.2,1037.0 1409.4,1038.6 1410.6,1040.2 1411.9,1041.8 1413.1,1043.4 1414.3,1045.0 1415.5,1046.5 1416.7,1048.1 1418.0,1049.7 1419.2,1051.3 1420.4,1052.9 1421.7,1054.4 1422.9,1056.0 1424.1,1057.6 1425.3,1059.2 1426.6,1060.8 1427.8,1062.4 1429.0,1064.0 1430.2,1065.6 1431.4,1067.2 1432.6,1068.8 1433.8,1070.4 1435.0,1072.0 1436.2,1073.6 1437.4,1075.2 1438.6,1076.8 1439.8,1078.4 1441.0,1080.0 1442.2,1081.6 1443.4,1083.1 1444.7,1084.7 1445.9,1086.3 1447.2,1087.8 1448.4,1089.4 1449.7,1090.9 1451.0,1092.4 1452.4,1093.9 1453.7,1095.4 1455.0,1096.9 1456.4,1098.4 1457.7,1099.8 1459.1,1101.3 1460.5,1102.7 1461.9,1104.2 1463.3,1105.6 1464.7,1107.0 1466.1,1108.5 1467.5,1109.9 1468.9,1111.3 1470.4,1112.7 1471.8,1114.1 1473.2,1115.5 1474.7,1116.8 1476.2,1118.2 1477.6,1119.6 1479.1,1120.9 1480.6,1122.3 1482.0,1123.6 1483.5,1125.0 1485.0,1126.3 1486.5,1127.6 1488.1,1128.9 1489.6,1130.2 1491.1,1131.5 1492.7,1132.7 1494.2,1134.0 1495.8,1135.2 1497.4,1136.5 1499.0,1137.7 1500.6,1138.9 1502.2,1140.1 1503.8,1141.2 1505.5,1142.3 1507.1,1143.5 1508.8,1144.5 1510.5,1145.6 1512.2,1146.7 1513.9,1147.7 1515.7,1148.7 1517.4,1149.6 1519.2,1150.5 1521.0,1151.4 1522.8,1152.3 1524.6,1153.2 1526.4,1154.0 1528.2,1154.8 1530.0,1155.7 1531.8,1156.5 1533.6,1157.4 1535.4,1158.3 1537.2,1159.2 1539.0,1160.1 1540.7,1161.1 1542.5,1162.0 1544.2,1163.0 1545.9,1164.0 1547.7,1165.1 1549.4,1166.1 1551.1,1167.2 1552.8,1168.2 1554.4,1169.3 1556.1,1170.4 1557.8,1171.5 1559.5,1172.5 1561.2,1173.6 1562.9,1174.7 1564.6,1175.7 1566.3,1176.8 1568.0,1177.8 1569.7,1178.8 1571.4,1179.8 1573.2,1180.8 1574.9,1181.8 1576.7,1182.8 1578.4,1183.7 1580.2,1184.6 1582.0,1185.5 1583.8,1186.4 1585.6,1187.2 1587.5,1188.0 1589.3,1188.8 1591.2,1189.5 1593.0,1190.2 1594.9,1190.9 1596.8,1191.6 1598.7,1192.3 1600.6,1192.9 1602.5,1193.6 1604.4,1194.2 1606.3,1194.8 1608.2,1195.4 1610.1,1195.9 1612.0,1196.5 1614.0,1197.1 1615.9,1197.6 1617.8,1198.1 1619.7,1198.7 1621.7,1199.2 1623.6,1199.8 1625.5,1200.3 1627.4,1200.8 1629.4,1201.3 1631.3,1201.9 1633.2,1202.4 1635.2,1203.0 1637.1,1203.5 1639.0,1204.1 1640.9,1204.6 1642.9,1205.2 1644.8,1205.7 1646.7,1206.3 1648.6,1206.8 1650.6,1207.3 1652.5,1207.9 1654.4,1208.4 1656.4,1208.8 1658.3,1209.3 1660.3,1209.8 1662.2,1210.2 1664.2,1210.6 1666.1,1211.0 1668.1,1211.4 1670.1,1211.8 1672.0,1212.1 1674.0,1212.5 1676.0,1212.8 1677.9,1213.2 1679.9,1213.5 1681.9,1213.8 1683.9,1214.1 1685.8,1214.4 1687.8,1214.7 1689.8,1215.0 1691.8,1215.2 1693.8,1215.5 1695.7,1215.8 1697.7,1216.1 1699.7,1216.4 1701.7,1216.7 1703.7,1216.9 1705.7,1217.2 1707.6,1217.5 1709.6,1217.8 1711.6,1218.1 1713.6,1218.4 1715.6,1218.7 1717.5,1219.0 1719.5,1219.3 1721.5,1219.6 1723.5,1219.9 1725.4,1220.2 1727.4,1220.5 1729.4,1220.9 1731.4,1221.2 1733.3,1221.5 1735.3,1221.8 1737.3,1222.1 1739.3,1222.3 1741.3,1222.6 1743.2,1222.9 1745.2,1223.1 1747.2,1223.3 1749.2,1223.6 1751.2,1223.8 1753.2,1224.0 1755.2,1224.2 1757.2,1224.4 1759.2,1224.5 1761.2,1224.7 1763.1,1224.9 1765.1,1225.1 1767.1,1225.3 1769.1,1225.4 1771.1,1225.6 1773.1,1225.7 1775.1,1225.9 1777.1,1226.1 1779.1,1226.2 1781.1,1226.4 1783.1,1226.5 1785.1,1226.7 1787.1,1226.8 1789.1,1227.0 1791.1,1227.1 1793.1,1227.3 1795.1,1227.4 1797.1,1227.5 1799.1,1227.7 1801.1,1227.8 1803.1,1227.9 1805.0,1228.0 1807.0,1228.2 1809.0,1228.3 1811.0,1228.4 1813.0,1228.5 1815.0,1228.6 1817.0,1228.7 1819.0,1228.8 1821.0,1228.9 1823.0,1229.0 1825.0,1229.1 1827.0,1229.2 1829.0,1229.3 1831.0,1229.4 1833.0,1229.5 1835.0,1229.6 1837.0,1229.7 1839.0,1229.8 1841.0,1229.9 1843.0,1230.0 1845.0,1230.1 1847.0,1230.2 1849.0,1230.3 1851.0,1230.4 1853.0,1230.6 1855.0,1230.7 1857.0,1230.8 1859.0,1230.9 1861.0,1231.0 1863.0,1231.1 1865.0,1231.2 1867.0,1231.3 1869.0,1231.4 1871.0,1231.5 1873.0,1231.5 1875.0,1231.6 1877.0,1231.7 1879.0,1231.8 1881.0,1231.9 1883.0,1231.9 1885.0,1232.0 1887.0,1232.1 1889.0,1232.1 1891.0,1232.2 1893.0,1232.3 1895.0,1232.3 1897.0,1232.4 1899.0,1232.4 1901.0,1232.4 1903.0,1232.5 1905.0,1232.5 1907.0,1232.6 1909.0,1232.6 1911.0,1232.7 1913.0,1232.7 1915.0,1232.8 1917.0,1232.9 1919.0,1232.9 1921.0,1233.0 1923.0,1233.0 1925.0,1233.1 1927.0,1233.1 1929.0,1233.2 1931.0,1233.2 1933.0,1233.3 1935.0,1233.3 1937.0,1233.4 1939.0,1233.4 1941.0,1233.5 1943.0,1233.5 1945.0,1233.6 1947.0,1233.6 1949.0,1233.7 1951.0,1233.7 1953.0,1233.8 1955.0,1233.8 1957.0,1233.9 1959.0,1233.9 1961.0,1233.9 1963.0,1234.0 1965.0,1234.0 1967.0,1234.0 1969.0,1234.0" stroke="#FF0000" stroke-width="7" fill="none" stroke-linejoin="round" stroke-linecap="butt" stroke-dasharray="56.7 24.9"/>
<path d="M987.0,1228.5L989.0,1228.2 990.9,1227.8 992.9,1227.5 994.9,1227.2 996.9,1226.8 998.8,1226.4 1000.8,1226.1 1002.7,1225.7 1004.7,1225.2 1006.6,1224.7 1008.6,1224.2 1010.5,1223.7 1012.4,1223.1 1014.3,1222.4 1016.2,1221.8 1018.0,1221.1 1019.9,1220.3 1021.7,1219.6 1023.6,1218.7 1025.4,1217.9 1027.1,1217.0 1028.9,1216.0 1030.6,1215.0 1032.3,1213.9 1033.9,1212.8 1035.5,1211.6 1037.1,1210.4 1038.6,1209.1 1040.1,1207.8 1041.5,1206.4 1043.0,1205.0 1044.3,1203.6 1045.7,1202.1 1047.0,1200.6 1048.3,1199.0 1049.5,1197.5 1050.7,1195.9 1051.9,1194.3 1053.1,1192.7 1054.2,1191.0 1055.3,1189.4 1056.4,1187.7 1057.4,1186.0 1058.4,1184.2 1059.4,1182.5 1060.3,1180.7 1061.3,1178.9 1062.2,1177.2 1063.1,1175.4 1063.9,1173.6 1064.8,1171.8 1065.6,1169.9 1066.4,1168.1 1067.2,1166.3 1068.0,1164.4 1068.8,1162.6 1069.6,1160.8 1070.4,1158.9 1071.2,1157.1 1071.9,1155.2 1072.7,1153.4 1073.4,1151.5 1074.1,1149.6 1074.8,1147.8 1075.5,1145.9 1076.2,1144.0 1076.8,1142.1 1077.5,1140.2 1078.2,1138.3 1078.8,1136.4 1079.5,1134.5 1080.1,1132.7 1080.7,1130.8 1081.3,1128.9 1082.0,1127.0 1082.6,1125.0 1083.2,1123.1 1083.8,1121.2 1084.5,1119.3 1085.1,1117.4 1085.7,1115.5 1086.3,1113.6 1086.9,1111.7 1087.5,1109.8 1088.1,1107.9 1088.8,1106.0 1089.4,1104.1 1090.0,1102.2 1090.6,1100.3 1091.2,1098.4 1091.8,1096.5 1092.3,1094.5 1092.9,1092.6 1093.5,1090.7 1094.1,1088.8 1094.7,1086.9 1095.3,1085.0 1095.9,1083.1 1096.4,1081.2 1097.0,1079.2 1097.6,1077.3 1098.2,1075.4 1098.7,1073.5 1099.3,1071.6 1099.9,1069.6 1100.5,1067.7 1101.0,1065.8 1101.6,1063.9 1102.1,1062.0 1102.7,1060.0 1103.3,1058.1 1103.8,1056.2 1104.4,1054.3 1104.9,1052.4 1105.5,1050.4 1106.0,1048.5 1106.6,1046.6 1107.1,1044.7 1107.7,1042.7 1108.2,1040.8 1108.7,1038.9 1109.3,1036.9 1109.8,1035.0 1110.3,1033.1 1110.8,1031.1 1111.3,1029.2 1111.8,1027.3 1112.4,1025.3 1112.9,1023.4 1113.4,1021.5 1113.9,1019.5 1114.4,1017.6 1114.8,1015.7 1115.3,1013.7 1115.8,1011.8 1116.3,1009.8 1116.8,1007.9 1117.3,1005.9 1117.7,1004.0 1118.2,1002.1 1118.7,1000.1 1119.1,998.2 1119.6,996.2 1120.1,994.3 1120.5,992.3 1121.0,990.4 1121.5,988.4 1121.9,986.5 1122.4,984.5 1122.8,982.6 1123.3,980.6 1123.7,978.7 1124.2,976.7 1124.6,974.8 1125.0,972.8 1125.5,970.9 1125.9,968.9 1126.3,967.0 1126.8,965.0 1127.3,963.1 1127.7,961.1 1128.2,959.2 1128.7,957.2 1129.1,955.3 1129.6,953.3 1130.1,951.4 1130.6,949.5 1131.1,947.5 1131.6,945.6 1132.1,943.7 1132.6,941.7 1133.2,939.8 1133.7,937.9 1134.2,935.9 1134.7,934.0 1135.2,932.0 1135.7,930.1 1136.2,928.2 1136.8,926.2 1137.3,924.3 1137.8,922.4 1138.3,920.4 1138.8,918.5 1139.3,916.6 1139.8,914.6 1140.3,912.7 1140.9,910.8 1141.4,908.8 1141.9,906.9 1142.4,905.0 1142.9,903.0 1143.3,901.1 1143.8,899.1 1144.3,897.2 1144.8,895.3 1145.3,893.3 1145.8,891.4 1146.3,889.5 1146.9,887.5 1147.4,885.6 1147.9,883.7 1148.5,881.7 1149.0,879.8 1149.6,877.9 1150.2,876.0 1150.8,874.1 1151.3,872.2 1151.9,870.2 1152.5,868.3 1153.1,866.4 1153.7,864.5 1154.3,862.6 1154.9,860.7 1155.6,858.8 1156.2,856.9 1156.8,855.0 1157.4,853.1 1158.0,851.2 1158.7,849.3 1159.3,847.4 1159.9,845.5 1160.6,843.6 1161.2,841.7 1161.8,839.8 1162.5,837.9 1163.1,836.0 1163.8,834.1 1164.4,832.2 1165.1,830.3 1165.8,828.4 1166.4,826.6 1167.1,824.7 1167.8,822.8 1168.5,820.9 1169.1,819.0 1169.8,817.1 1170.5,815.3 1171.3,813.4 1172.0,811.5 1172.7,809.7 1173.5,807.8 1174.3,806.0 1175.1,804.2 1175.9,802.3 1176.7,800.5 1177.5,798.7 1178.4,796.9 1179.3,795.1 1180.1,793.3 1181.0,791.5 1182.0,789.7 1182.9,788.0 1183.9,786.2 1184.9,784.5 1186.0,782.8 1187.1,781.2 1188.3,779.5 1189.5,778.0 1190.7,776.4 1192.0,774.9 1193.4,773.5 1194.8,772.2 1196.4,771.0 1198.0,769.9 1199.7,768.9 1201.4,768.1 1203.2,767.4 1205.1,766.8 1207.0,766.4 1208.9,766.1 1210.9,766.0 1212.9,766.0 1214.8,766.1 1216.8,766.4 1218.7,766.8 1220.6,767.3 1222.4,767.9 1224.3,768.6 1226.1,769.4 1227.9,770.3 1229.6,771.2 1231.4,772.2 1233.1,773.3 1234.8,774.3 1236.4,775.4 1238.1,776.6 1239.7,777.7 1241.4,778.9 1243.0,780.0 1244.6,781.2 1246.2,782.5 1247.7,783.7 1249.3,784.9 1250.9,786.1 1252.5,787.4 1254.0,788.6 1255.6,789.9 1257.1,791.2 1258.7,792.4 1260.2,793.7 1261.8,795.0 1263.3,796.3 1264.8,797.5 1266.4,798.8 1267.9,800.1 1269.5,801.4 1271.0,802.7 1272.5,804.0 1274.0,805.3 1275.6,806.5 1277.1,807.8 1278.6,809.1 1280.1,810.4 1281.6,811.8 1283.2,813.1 1284.7,814.4 1286.2,815.7 1287.7,817.0 1289.1,818.4 1290.6,819.7 1292.1,821.1 1293.6,822.4 1295.1,823.7 1296.6,825.1 1298.1,826.4 1299.6,827.8 1301.1,829.1 1302.5,830.4 1304.0,831.7 1305.5,833.1 1307.0,834.4 1308.5,835.7 1310.0,837.1 1311.5,838.4 1313.0,839.7 1314.5,841.1 1316.0,842.4 1317.5,843.8 1318.9,845.1 1320.4,846.5 1321.9,847.8 1323.3,849.2 1324.8,850.6 1326.2,852.0 1327.6,853.4 1329.0,854.8 1330.4,856.3 1331.8,857.7 1333.2,859.2 1334.5,860.6 1335.9,862.1 1337.2,863.6 1338.5,865.1 1339.8,866.6 1341.1,868.1 1342.4,869.7 1343.7,871.2 1345.0,872.7 1346.3,874.2 1347.6,875.8 1348.9,877.3 1350.2,878.8 1351.5,880.3 1352.8,881.9 1354.1,883.4 1355.5,884.9 1356.8,886.3 1358.1,887.8 1359.5,889.3 1360.9,890.8 1362.2,892.2 1363.6,893.7 1364.9,895.2 1366.3,896.6 1367.6,898.1 1369.0,899.6 1370.3,901.1 1371.6,902.7 1372.8,904.2 1374.1,905.8 1375.3,907.3 1376.6,908.9 1377.8,910.5 1379.0,912.1 1380.2,913.7 1381.4,915.3 1382.6,916.9 1383.8,918.5 1385.0,920.1 1386.2,921.7 1387.4,923.3 1388.6,924.9 1389.9,926.4 1391.1,928.0 1392.4,929.6 1393.6,931.1 1394.9,932.7 1396.2,934.2 1397.4,935.8 1398.7,937.3 1400.0,938.9 1401.2,940.4 1402.5,942.0 1403.7,943.5 1405.0,945.1 1406.2,946.7 1407.4,948.3 1408.6,949.9 1409.8,951.5 1411.0,953.1 1412.2,954.7 1413.4,956.3 1414.5,957.9 1415.7,959.6 1416.9,961.2 1418.0,962.8 1419.2,964.5 1420.3,966.1 1421.5,967.8 1422.6,969.4 1423.8,971.0 1424.9,972.7 1426.0,974.3 1427.1,976.0 1428.2,977.7 1429.3,979.3 1430.5,981.0 1431.6,982.6 1432.8,984.2 1434.0,985.8 1435.3,987.2 1436.7,988.6 1438.2,989.9 1439.7,991.0 1441.3,992.1 1443.0,993.0 1444.7,994.0 1446.4,994.9 1448.1,995.9 1449.7,997.0 1451.2,998.2 1452.6,999.5 1454.0,1000.9 1455.3,1002.4 1456.5,1003.9 1457.6,1005.6 1458.8,1007.2 1459.9,1008.8 1461.1,1010.5 1462.2,1012.1 1463.3,1013.8 1464.5,1015.4 1465.7,1017.0 1466.9,1018.6 1468.2,1020.1 1469.4,1021.7 1470.7,1023.3 1472.0,1024.8 1473.2,1026.3 1474.5,1027.8 1475.9,1029.4 1477.2,1030.9 1478.5,1032.4 1479.8,1033.8 1481.2,1035.3 1482.6,1036.8 1483.9,1038.2 1485.3,1039.7 1486.7,1041.1 1488.1,1042.5 1489.6,1043.9 1491.0,1045.3 1492.4,1046.7 1493.9,1048.1 1495.3,1049.5 1496.8,1050.8 1498.3,1052.2 1499.8,1053.5 1501.3,1054.8 1502.8,1056.2 1504.3,1057.5 1505.8,1058.8 1507.3,1060.1 1508.8,1061.4 1510.3,1062.7 1511.8,1064.0 1513.3,1065.4 1514.9,1066.7 1516.4,1068.0 1517.9,1069.3 1519.4,1070.6 1520.9,1072.0 1522.3,1073.3 1523.8,1074.6 1525.3,1076.0 1526.8,1077.4 1528.2,1078.7 1529.7,1080.1 1531.1,1081.5 1532.6,1082.9 1534.0,1084.3 1535.5,1085.6 1536.9,1087.0 1538.3,1088.4 1539.8,1089.8 1541.3,1091.2 1542.7,1092.5 1544.2,1093.9 1545.7,1095.3 1547.1,1096.6 1548.6,1097.9 1550.1,1099.3 1551.6,1100.6 1553.1,1101.9 1554.6,1103.3 1556.1,1104.6 1557.6,1105.9 1559.2,1107.2 1560.7,1108.4 1562.2,1109.7 1563.8,1111.0 1565.3,1112.3 1566.9,1113.5 1568.4,1114.8 1570.0,1116.0 1571.6,1117.3 1573.1,1118.5 1574.7,1119.8 1576.3,1121.0 1577.9,1122.2 1579.4,1123.4 1581.0,1124.6 1582.7,1125.8 1584.3,1127.0 1585.9,1128.1 1587.6,1129.3 1589.2,1130.4 1590.9,1131.5 1592.6,1132.6 1594.3,1133.7 1595.9,1134.7 1597.6,1135.8 1599.3,1136.9 1601.1,1137.9 1602.8,1138.9 1604.5,1140.0 1606.2,1141.0 1607.9,1142.0 1609.7,1143.0 1611.4,1144.0 1613.2,1144.9 1614.9,1145.9 1616.7,1146.8 1618.5,1147.7 1620.3,1148.6 1622.1,1149.4 1623.9,1150.2 1625.7,1151.1 1627.6,1151.9 1629.4,1152.7 1631.2,1153.6 1633.0,1154.4 1634.8,1155.2 1636.7,1156.1 1638.5,1156.9 1640.3,1157.7 1642.1,1158.6 1643.9,1159.4 1645.8,1160.2 1647.6,1161.1 1649.4,1161.9 1651.2,1162.7 1653.0,1163.6 1654.8,1164.4 1656.7,1165.2 1658.5,1166.1 1660.3,1166.9 1662.1,1167.8 1663.9,1168.6 1665.8,1169.4 1667.6,1170.2 1669.4,1171.1 1671.2,1171.9 1673.1,1172.7 1674.9,1173.5 1676.8,1174.2 1678.6,1175.0 1680.5,1175.8 1682.3,1176.5 1684.2,1177.2 1686.1,1177.9 1687.9,1178.6 1689.8,1179.3 1691.7,1179.9 1693.6,1180.5 1695.5,1181.1 1697.5,1181.7 1699.4,1182.2 1701.3,1182.8 1703.2,1183.3 1705.1,1183.9 1707.1,1184.4 1709.0,1185.0 1710.9,1185.5 1712.8,1186.1 1714.8,1186.6 1716.7,1187.2 1718.6,1187.8 1720.5,1188.3 1722.4,1188.9 1724.4,1189.4 1726.3,1190.0 1728.2,1190.6 1730.1,1191.1 1732.1,1191.6 1734.0,1192.1 1735.9,1192.6 1737.9,1193.1 1739.8,1193.5 1741.8,1193.9 1743.8,1194.4 1745.7,1194.8 1747.7,1195.2 1749.6,1195.5 1751.6,1195.9 1753.6,1196.3 1755.5,1196.7 1757.5,1197.1 1759.5,1197.5 1761.4,1197.9 1763.4,1198.3 1765.3,1198.7 1767.3,1199.2 1769.2,1199.7 1771.2,1200.1 1773.1,1200.6 1775.0,1201.1 1777.0,1201.6 1778.9,1202.1 1780.8,1202.6 1782.8,1203.1 1784.7,1203.6 1786.7,1204.1 1788.6,1204.6 1790.5,1205.2 1792.5,1205.7 1794.4,1206.2 1796.3,1206.7 1798.3,1207.2 1800.2,1207.7 1802.2,1208.2 1804.1,1208.7 1806.0,1209.2 1808.0,1209.6 1809.9,1210.1 1811.9,1210.5 1813.8,1211.0 1815.8,1211.4 1817.7,1211.8 1819.7,1212.2 1821.7,1212.5 1823.6,1212.9 1825.6,1213.2 1827.6,1213.5 1829.6,1213.8 1831.6,1214.0 1833.5,1214.3 1835.5,1214.5 1837.5,1214.8 1839.5,1215.0 1841.5,1215.2 1843.5,1215.5 1845.5,1215.7 1847.5,1215.9 1849.4,1216.2 1851.4,1216.4 1853.4,1216.6 1855.4,1216.9 1857.4,1217.1 1859.4,1217.4 1861.4,1217.6 1863.4,1217.8 1865.3,1218.1 1867.3,1218.3 1869.3,1218.6 1871.3,1218.8 1873.3,1219.0 1875.3,1219.3 1877.3,1219.5 1879.2,1219.8 1881.2,1220.0 1883.2,1220.2 1885.2,1220.5 1887.2,1220.7 1889.2,1221.0 1891.2,1221.2 1893.2,1221.4 1895.1,1221.7 1897.1,1221.9 1899.1,1222.1 1901.1,1222.3 1903.1,1222.5 1905.1,1222.6 1907.1,1222.8 1909.1,1223.0 1911.1,1223.1 1913.1,1223.2 1915.1,1223.4 1917.1,1223.5 1919.1,1223.6 1921.1,1223.8 1923.1,1223.9 1925.1,1224.1 1927.1,1224.2 1929.1,1224.3 1931.1,1224.5 1933.1,1224.6 1935.0,1224.7 1937.0,1224.9 1939.0,1225.0 1941.0,1225.1 1943.0,1225.3 1945.0,1225.4 1947.0,1225.6 1949.0,1225.7 1951.0,1225.8 1953.0,1225.9 1955.0,1226.0 1957.0,1226.1 1959.0,1226.2 1961.0,1226.2 1963.0,1226.2 1965.0,1226.1 1967.0,1226.1 1969.0,1226.0" stroke="#0000FF" stroke-width="7" fill="none" stroke-linejoin="round" stroke-linecap="butt" stroke-dasharray="56.7 24.9"/>
<path d="M952.6,1232.3L954.6,1232.3 956.6,1232.3 958.6,1232.2 960.6,1232.2 962.6,1232.2 964.6,1232.2 966.6,1232.2 968.6,1232.2 970.6,1232.1 972.6,1232.1 974.6,1232.1 976.6,1232.1 978.6,1232.1 980.6,1232.0 982.6,1232.0 984.6,1232.0 986.6,1232.1 988.6,1232.1 990.6,1232.1 992.6,1232.1 994.6,1232.0 996.6,1232.0 998.6,1231.9 1000.6,1231.8 1002.6,1231.6 1004.6,1231.4 1006.6,1231.1 1008.5,1230.8 1010.5,1230.4 1012.4,1229.9 1014.4,1229.4 1016.3,1228.9 1018.2,1228.3 1020.1,1227.7 1022.0,1227.0 1023.9,1226.3 1025.7,1225.6 1027.5,1224.8 1029.4,1223.9 1031.1,1223.1 1032.9,1222.1 1034.6,1221.1 1036.3,1220.1 1038.0,1219.0 1039.6,1217.9 1041.2,1216.7 1042.8,1215.4 1044.3,1214.2 1045.8,1212.9 1047.3,1211.5 1048.8,1210.2 1050.2,1208.8 1051.7,1207.4 1053.1,1206.0 1054.5,1204.5 1055.9,1203.1 1057.3,1201.6 1058.6,1200.2 1060.0,1198.7 1061.3,1197.2 1062.6,1195.7 1063.9,1194.2 1065.2,1192.6 1066.5,1191.1 1067.7,1189.5 1068.9,1187.9 1070.1,1186.3 1071.2,1184.7 1072.3,1183.0 1073.4,1181.3 1074.4,1179.6 1075.4,1177.9 1076.4,1176.1 1077.3,1174.4 1078.2,1172.6 1079.1,1170.8 1080.0,1169.0 1080.8,1167.1 1081.6,1165.3 1082.4,1163.5 1083.2,1161.6 1084.0,1159.8 1084.8,1158.0 1085.5,1156.1 1086.3,1154.3 1087.0,1152.4 1087.7,1150.5 1088.5,1148.7 1089.2,1146.8 1089.9,1144.9 1090.6,1143.0 1091.2,1141.1 1091.9,1139.3 1092.6,1137.4 1093.3,1135.5 1093.9,1133.6 1094.6,1131.7 1095.3,1129.8 1095.9,1127.9 1096.6,1126.1 1097.3,1124.2 1098.0,1122.3 1098.7,1120.4 1099.3,1118.5 1100.0,1116.6 1100.7,1114.8 1101.4,1112.9 1102.2,1111.0 1102.9,1109.2 1103.7,1107.3 1104.4,1105.5 1105.2,1103.6 1106.0,1101.8 1106.8,1099.9 1107.6,1098.1 1108.4,1096.3 1109.2,1094.4 1110.0,1092.6 1110.8,1090.8 1111.5,1088.9 1112.3,1087.1 1113.0,1085.2 1113.7,1083.3 1114.4,1081.4 1115.0,1079.5 1115.7,1077.6 1116.3,1075.7 1116.9,1073.8 1117.5,1071.9 1118.0,1070.0 1118.6,1068.1 1119.1,1066.1 1119.7,1064.2 1120.2,1062.3 1120.7,1060.4 1121.2,1058.4 1121.7,1056.5 1122.2,1054.5 1122.7,1052.6 1123.2,1050.7 1123.6,1048.7 1124.1,1046.8 1124.6,1044.8 1125.1,1042.9 1125.5,1040.9 1126.0,1039.0 1126.5,1037.0 1126.9,1035.1 1127.4,1033.1 1127.9,1031.2 1128.3,1029.2 1128.8,1027.3 1129.2,1025.3 1129.6,1023.4 1130.0,1021.4 1130.5,1019.5 1130.9,1017.5 1131.3,1015.5 1131.7,1013.6 1132.2,1011.6 1132.6,1009.7 1133.1,1007.7 1133.6,1005.8 1134.1,1003.9 1134.6,1001.9 1135.1,1000.0 1135.7,998.1 1136.2,996.2 1136.8,994.2 1137.4,992.3 1138.0,990.4 1138.6,988.5 1139.2,986.6 1139.8,984.7 1140.4,982.8 1141.0,980.9 1141.6,979.0 1142.2,977.0 1142.8,975.1 1143.5,973.2 1144.1,971.3 1144.7,969.4 1145.3,967.5 1145.9,965.6 1146.6,963.7 1147.2,961.8 1147.8,959.9 1148.4,958.0 1149.0,956.1 1149.7,954.2 1150.3,952.3 1150.9,950.4 1151.5,948.5 1152.1,946.6 1152.7,944.7 1153.4,942.8 1154.0,940.9 1154.6,939.0 1155.2,937.1 1155.8,935.2 1156.4,933.2 1157.0,931.3 1157.5,929.4 1158.1,927.5 1158.6,925.6 1159.2,923.6 1159.7,921.7 1160.2,919.7 1160.6,917.8 1161.1,915.9 1161.6,913.9 1162.0,912.0 1162.5,910.0 1163.0,908.1 1163.5,906.1 1164.0,904.2 1164.5,902.3 1165.1,900.3 1165.6,898.4 1166.3,896.5 1166.9,894.6 1167.6,892.8 1168.3,890.9 1169.0,889.0 1169.7,887.1 1170.4,885.3 1171.2,883.4 1171.9,881.5 1172.6,879.7 1173.4,877.8 1174.1,876.0 1174.9,874.1 1175.6,872.3 1176.4,870.4 1177.1,868.5 1177.9,866.7 1178.7,864.9 1179.5,863.0 1180.3,861.2 1181.2,859.4 1182.1,857.6 1183.0,855.8 1184.0,854.1 1185.0,852.4 1186.0,850.7 1187.2,849.1 1188.4,847.5 1189.6,845.9 1190.9,844.4 1192.3,843.0 1193.7,841.6 1195.1,840.2 1196.6,838.8 1198.1,837.5 1199.5,836.1 1201.0,834.7 1202.5,833.4 1204.0,832.1 1205.5,830.8 1207.0,829.6 1208.7,828.5 1210.3,827.6 1212.1,826.8 1213.9,826.2 1215.7,825.8 1217.6,825.6 1219.5,825.6 1221.4,825.8 1223.3,826.1 1225.2,826.6 1227.2,827.1 1229.1,827.6 1231.0,828.2 1232.9,828.8 1234.8,829.3 1236.7,829.9 1238.7,830.4 1240.6,830.9 1242.5,831.5 1244.5,832.0 1246.4,832.6 1248.3,833.1 1250.2,833.8 1252.1,834.4 1253.9,835.2 1255.8,835.9 1257.6,836.7 1259.4,837.6 1261.1,838.5 1262.9,839.5 1264.6,840.5 1266.3,841.6 1268.0,842.7 1269.6,843.8 1271.3,845.0 1272.9,846.1 1274.5,847.3 1276.1,848.5 1277.7,849.7 1279.3,850.9 1280.9,852.2 1282.4,853.4 1284.0,854.7 1285.5,855.9 1287.1,857.2 1288.6,858.5 1290.2,859.8 1291.7,861.1 1293.2,862.4 1294.7,863.7 1296.2,865.0 1297.7,866.4 1299.2,867.7 1300.7,869.0 1302.2,870.4 1303.7,871.7 1305.2,873.0 1306.7,874.3 1308.2,875.6 1309.7,876.9 1311.2,878.2 1312.8,879.5 1314.3,880.8 1315.9,882.0 1317.4,883.3 1319.0,884.5 1320.6,885.7 1322.2,886.9 1323.9,888.1 1325.5,889.2 1327.2,890.3 1328.9,891.4 1330.6,892.4 1332.3,893.5 1334.0,894.5 1335.7,895.6 1337.4,896.6 1339.1,897.7 1340.8,898.8 1342.4,899.9 1344.1,901.0 1345.7,902.2 1347.3,903.4 1348.9,904.6 1350.5,905.8 1352.0,907.1 1353.6,908.3 1355.1,909.6 1356.6,910.9 1358.1,912.2 1359.6,913.6 1361.1,914.9 1362.6,916.3 1364.0,917.7 1365.4,919.1 1366.8,920.5 1368.2,922.0 1369.5,923.5 1370.9,924.9 1372.2,926.4 1373.5,927.9 1374.8,929.5 1376.2,931.0 1377.5,932.5 1378.8,934.0 1380.1,935.5 1381.5,936.9 1382.9,938.4 1384.2,939.8 1385.6,941.3 1387.1,942.7 1388.5,944.1 1389.9,945.5 1391.4,946.8 1392.9,948.2 1394.3,949.6 1395.8,950.9 1397.2,952.3 1398.7,953.7 1400.1,955.1 1401.5,956.5 1402.9,958.0 1404.2,959.5 1405.5,961.0 1406.8,962.5 1408.0,964.1 1409.2,965.7 1410.4,967.3 1411.6,968.9 1412.8,970.5 1413.9,972.2 1415.1,973.8 1416.3,975.4 1417.5,977.0 1418.7,978.6 1420.0,980.1 1421.2,981.7 1422.5,983.2 1423.9,984.7 1425.2,986.2 1426.6,987.6 1427.9,989.1 1429.3,990.6 1430.7,992.0 1432.0,993.5 1433.4,995.0 1434.8,996.4 1436.1,997.9 1437.5,999.4 1438.8,1000.9 1440.1,1002.4 1441.4,1003.9 1442.7,1005.4 1444.0,1006.9 1445.3,1008.5 1446.6,1010.0 1447.9,1011.5 1449.2,1013.1 1450.4,1014.6 1451.7,1016.2 1453.0,1017.7 1454.3,1019.3 1455.5,1020.8 1456.8,1022.3 1458.1,1023.9 1459.4,1025.4 1460.6,1027.0 1461.9,1028.5 1463.2,1030.0 1464.5,1031.5 1465.8,1033.1 1467.1,1034.6 1468.5,1036.1 1469.8,1037.6 1471.2,1039.0 1472.5,1040.5 1473.9,1042.0 1475.3,1043.4 1476.7,1044.8 1478.1,1046.3 1479.5,1047.7 1481.0,1049.1 1482.4,1050.4 1483.9,1051.8 1485.3,1053.1 1486.8,1054.5 1488.3,1055.8 1489.8,1057.1 1491.3,1058.5 1492.8,1059.8 1494.4,1061.1 1495.9,1062.4 1497.4,1063.7 1498.9,1065.0 1500.5,1066.2 1502.0,1067.5 1503.6,1068.8 1505.1,1070.1 1506.7,1071.3 1508.2,1072.6 1509.8,1073.8 1511.4,1075.1 1512.9,1076.3 1514.5,1077.6 1516.1,1078.8 1517.6,1080.1 1519.2,1081.3 1520.8,1082.6 1522.3,1083.8 1523.9,1085.0 1525.5,1086.3 1527.0,1087.5 1528.6,1088.8 1530.2,1090.0 1531.7,1091.3 1533.3,1092.5 1534.9,1093.8 1536.4,1095.0 1538.0,1096.3 1539.5,1097.6 1541.1,1098.8 1542.6,1100.1 1544.2,1101.4 1545.7,1102.7 1547.2,1103.9 1548.8,1105.2 1550.3,1106.5 1551.9,1107.7 1553.5,1109.0 1555.0,1110.2 1556.6,1111.4 1558.2,1112.6 1559.8,1113.9 1561.4,1115.0 1563.0,1116.2 1564.7,1117.4 1566.3,1118.6 1567.9,1119.7 1569.6,1120.9 1571.2,1122.0 1572.9,1123.1 1574.6,1124.2 1576.2,1125.3 1578.0,1126.3 1579.7,1127.3 1581.4,1128.3 1583.1,1129.3 1584.9,1130.3 1586.7,1131.2 1588.5,1132.1 1590.3,1133.0 1592.1,1133.9 1593.9,1134.8 1595.7,1135.6 1597.5,1136.5 1599.3,1137.4 1601.0,1138.3 1602.8,1139.2 1604.6,1140.1 1606.4,1141.0 1608.2,1141.9 1609.9,1142.9 1611.7,1143.8 1613.5,1144.8 1615.2,1145.8 1617.0,1146.7 1618.7,1147.7 1620.5,1148.7 1622.2,1149.6 1624.0,1150.6 1625.7,1151.6 1627.4,1152.6 1629.2,1153.6 1630.9,1154.5 1632.7,1155.5 1634.4,1156.5 1636.2,1157.5 1637.9,1158.4 1639.7,1159.4 1641.4,1160.4 1643.2,1161.3 1645.0,1162.3 1646.7,1163.2 1648.5,1164.1 1650.3,1165.1 1652.1,1166.0 1653.9,1166.9 1655.7,1167.7 1657.5,1168.6 1659.3,1169.4 1661.1,1170.2 1663.0,1171.0 1664.8,1171.7 1666.7,1172.4 1668.6,1173.0 1670.5,1173.6 1672.4,1174.2 1674.3,1174.8 1676.3,1175.3 1678.2,1175.9 1680.1,1176.5 1682.0,1177.0 1683.9,1177.6 1685.8,1178.2 1687.8,1178.8 1689.7,1179.4 1691.6,1180.0 1693.5,1180.6 1695.4,1181.2 1697.3,1181.7 1699.2,1182.3 1701.2,1182.9 1703.1,1183.5 1705.0,1184.1 1706.9,1184.7 1708.8,1185.3 1710.7,1185.9 1712.6,1186.5 1714.6,1187.0 1716.5,1187.6 1718.4,1188.2 1720.3,1188.8 1722.2,1189.4 1724.1,1189.9 1726.0,1190.5 1728.0,1191.1 1729.9,1191.7 1731.8,1192.2 1733.7,1192.8 1735.6,1193.4 1737.6,1193.9 1739.5,1194.5 1741.4,1195.0 1743.3,1195.6 1745.3,1196.1 1747.2,1196.6 1749.1,1197.2 1751.1,1197.7 1753.0,1198.2 1754.9,1198.7 1756.9,1199.2 1758.8,1199.6 1760.8,1200.1 1762.7,1200.6 1764.7,1201.0 1766.6,1201.5 1768.6,1202.0 1770.5,1202.4 1772.5,1202.9 1774.4,1203.3 1776.4,1203.8 1778.3,1204.3 1780.3,1204.7 1782.2,1205.1 1784.2,1205.6 1786.1,1206.0 1788.1,1206.4 1790.0,1206.9 1792.0,1207.3 1794.0,1207.7 1795.9,1208.1 1797.9,1208.5 1799.8,1208.9 1801.8,1209.3 1803.8,1209.7 1805.7,1210.1 1807.7,1210.5 1809.7,1210.8 1811.6,1211.2 1813.6,1211.5 1815.6,1211.9 1817.5,1212.2 1819.5,1212.5 1821.5,1212.9 1823.5,1213.2 1825.5,1213.5 1827.4,1213.8 1829.4,1214.1 1831.4,1214.4 1833.4,1214.6 1835.4,1214.9 1837.3,1215.2 1839.3,1215.4 1841.3,1215.7 1843.3,1216.0 1845.3,1216.2 1847.3,1216.4 1849.3,1216.7 1851.3,1216.9 1853.2,1217.2 1855.2,1217.4 1857.2,1217.6 1859.2,1217.8 1861.2,1218.1 1863.2,1218.3 1865.2,1218.5 1867.2,1218.7 1869.2,1218.9 1871.2,1219.1 1873.1,1219.3 1875.1,1219.5 1877.1,1219.7 1879.1,1219.9 1881.1,1220.1 1883.1,1220.3 1885.1,1220.5 1887.1,1220.7 1889.1,1220.8 1891.1,1221.0 1893.1,1221.2 1895.1,1221.4 1897.1,1221.6 1899.1,1221.7 1901.1,1221.9 1903.1,1222.1 1905.0,1222.2 1907.0,1222.4 1909.0,1222.6 1911.0,1222.7 1913.0,1222.9 1915.0,1223.0 1917.0,1223.1 1919.0,1223.3 1921.0,1223.4 1923.0,1223.5 1925.0,1223.6 1927.0,1223.8 1929.0,1223.9 1931.0,1224.0 1933.0,1224.1 1935.0,1224.2 1937.0,1224.3 1939.0,1224.4 1941.0,1224.5 1943.0,1224.6 1945.0,1224.7 1947.0,1224.8 1949.0,1224.9 1951.0,1225.0 1953.0,1225.1 1955.0,1225.2 1957.0,1225.3 1959.0,1225.4 1961.0,1225.6 1963.0,1225.7 1965.0,1225.8 1967.0,1225.9 1969.0,1226.0" stroke="#FF00FF" stroke-width="7" fill="none" stroke-linejoin="round" stroke-linecap="butt" stroke-dasharray="56.7 24.9"/>
<path d="M986.0,1227.0L987.8,1226.1 989.5,1225.1 991.3,1224.2 993.1,1223.2 994.8,1222.3 996.6,1221.3 998.3,1220.4 1000.1,1219.4 1001.9,1218.5 1003.6,1217.5 1005.4,1216.6 1007.1,1215.6 1008.9,1214.6 1010.7,1213.7 1012.4,1212.7 1014.2,1211.8 1015.9,1210.8 1017.7,1209.9 1019.5,1208.9 1021.2,1207.9 1022.9,1207.0 1024.7,1205.9 1026.3,1204.9 1028.0,1203.8 1029.6,1202.6 1031.2,1201.4 1032.8,1200.2 1034.3,1198.9 1035.8,1197.5 1037.2,1196.1 1038.5,1194.7 1039.9,1193.2 1041.2,1191.7 1042.4,1190.1 1043.7,1188.6 1044.9,1187.0 1046.1,1185.4 1047.2,1183.7 1048.4,1182.1 1049.5,1180.4 1050.6,1178.8 1051.7,1177.1 1052.8,1175.4 1053.8,1173.7 1054.9,1172.0 1055.9,1170.3 1057.0,1168.6 1058.0,1166.9 1059.0,1165.2 1060.0,1163.4 1061.0,1161.7 1062.0,1159.9 1063.0,1158.2 1063.9,1156.4 1064.9,1154.7 1065.9,1152.9 1066.8,1151.2 1067.7,1149.4 1068.6,1147.6 1069.5,1145.8 1070.4,1144.0 1071.3,1142.2 1072.2,1140.4 1073.0,1138.6 1073.8,1136.8 1074.6,1135.0 1075.4,1133.1 1076.1,1131.2 1076.8,1129.4 1077.4,1127.5 1078.0,1125.6 1078.6,1123.7 1079.2,1121.7 1079.7,1119.8 1080.2,1117.9 1080.7,1115.9 1081.2,1114.0 1081.8,1112.1 1082.3,1110.1 1082.8,1108.2 1083.4,1106.3 1083.9,1104.4 1084.5,1102.5 1085.1,1100.5 1085.7,1098.6 1086.3,1096.7 1086.9,1094.8 1087.5,1092.9 1088.1,1091.0 1088.7,1089.1 1089.3,1087.2 1089.9,1085.3 1090.5,1083.4 1091.1,1081.4 1091.7,1079.5 1092.3,1077.6 1092.8,1075.7 1093.4,1073.8 1094.0,1071.9 1094.6,1070.0 1095.2,1068.0 1095.7,1066.1 1096.3,1064.2 1096.8,1062.3 1097.4,1060.3 1097.9,1058.4 1098.4,1056.5 1098.9,1054.5 1099.3,1052.6 1099.8,1050.6 1100.2,1048.7 1100.7,1046.7 1101.1,1044.8 1101.5,1042.8 1101.9,1040.9 1102.3,1038.9 1102.7,1036.9 1103.1,1035.0 1103.5,1033.0 1103.9,1031.1 1104.4,1029.1 1104.9,1027.2 1105.3,1025.2 1105.8,1023.3 1106.3,1021.3 1106.8,1019.4 1107.3,1017.5 1107.8,1015.5 1108.3,1013.6 1108.8,1011.7 1109.3,1009.7 1109.9,1007.8 1110.4,1005.9 1110.9,1003.9 1111.4,1002.0 1111.9,1000.1 1112.4,998.1 1112.9,996.2 1113.4,994.2 1113.9,992.3 1114.4,990.4 1114.9,988.4 1115.4,986.5 1115.9,984.5 1116.3,982.6 1116.8,980.6 1117.2,978.7 1117.6,976.7 1118.1,974.8 1118.4,972.8 1118.8,970.8 1119.2,968.9 1119.5,966.9 1119.8,964.9 1120.2,963.0 1120.5,961.0 1120.8,959.0 1121.2,957.0 1121.5,955.1 1121.9,953.1 1122.3,951.1 1122.7,949.2 1123.1,947.2 1123.5,945.3 1123.9,943.3 1124.3,941.3 1124.8,939.4 1125.2,937.4 1125.7,935.5 1126.1,933.5 1126.6,931.6 1127.1,929.7 1127.5,927.7 1128.0,925.8 1128.5,923.8 1129.0,921.9 1129.4,919.9 1129.9,918.0 1130.4,916.0 1130.9,914.1 1131.4,912.2 1131.9,910.2 1132.4,908.3 1132.9,906.4 1133.4,904.4 1133.9,902.5 1134.4,900.5 1134.9,898.6 1135.5,896.7 1136.0,894.7 1136.5,892.8 1137.1,890.9 1137.6,889.0 1138.2,887.1 1138.8,885.1 1139.3,883.2 1139.9,881.3 1140.5,879.4 1141.0,877.5 1141.6,875.5 1142.2,873.6 1142.7,871.7 1143.3,869.8 1143.8,867.8 1144.3,865.9 1144.9,864.0 1145.4,862.0 1145.9,860.1 1146.4,858.2 1146.9,856.2 1147.4,854.3 1148.0,852.4 1148.5,850.4 1149.0,848.5 1149.5,846.6 1150.0,844.6 1150.5,842.7 1151.0,840.8 1151.5,838.8 1152.0,836.9 1152.6,835.0 1153.1,833.0 1153.6,831.1 1154.1,829.2 1154.7,827.2 1155.2,825.3 1155.8,823.4 1156.3,821.5 1156.9,819.5 1157.4,817.6 1158.0,815.7 1158.6,813.8 1159.2,811.9 1159.8,810.0 1160.4,808.1 1161.0,806.2 1161.6,804.3 1162.3,802.4 1162.9,800.5 1163.6,798.6 1164.3,796.7 1165.0,794.8 1165.7,793.0 1166.4,791.1 1167.2,789.2 1167.9,787.4 1168.7,785.5 1169.5,783.7 1170.2,781.8 1171.1,780.0 1171.9,778.2 1172.7,776.4 1173.6,774.6 1174.5,772.8 1175.4,771.0 1176.3,769.2 1177.2,767.4 1178.1,765.7 1179.1,763.9 1180.1,762.2 1181.0,760.4 1182.0,758.7 1183.1,757.0 1184.1,755.3 1185.2,753.6 1186.4,752.0 1187.6,750.4 1188.8,748.9 1190.2,747.4 1191.6,746.1 1193.1,744.8 1194.6,743.6 1196.3,742.6 1198.0,741.6 1199.8,740.8 1201.6,740.1 1203.5,739.5 1205.4,739.0 1207.3,738.6 1209.3,738.4 1211.2,738.3 1213.2,738.3 1215.2,738.5 1217.1,738.7 1219.0,739.1 1220.9,739.6 1222.8,740.3 1224.6,741.0 1226.4,741.9 1228.1,742.8 1229.8,743.8 1231.5,744.9 1233.1,746.1 1234.7,747.3 1236.2,748.5 1237.8,749.8 1239.3,751.1 1240.9,752.3 1242.4,753.6 1244.0,754.8 1245.5,756.1 1247.0,757.4 1248.5,758.7 1249.9,760.1 1251.3,761.5 1252.6,763.0 1253.9,764.6 1255.2,766.1 1256.4,767.7 1257.6,769.3 1258.8,770.8 1260.1,772.4 1261.3,774.0 1262.5,775.6 1263.8,777.2 1265.0,778.7 1266.2,780.3 1267.5,781.9 1268.7,783.4 1270.0,785.0 1271.3,786.5 1272.6,788.0 1274.0,789.5 1275.3,791.0 1276.7,792.4 1278.1,793.8 1279.6,795.2 1281.0,796.5 1282.6,797.8 1284.1,799.1 1285.6,800.4 1287.2,801.6 1288.7,802.9 1290.3,804.1 1291.9,805.4 1293.4,806.6 1295.0,807.9 1296.6,809.1 1298.1,810.4 1299.6,811.7 1301.2,813.0 1302.7,814.3 1304.3,815.5 1305.8,816.8 1307.3,818.1 1308.8,819.4 1310.3,820.7 1311.9,822.0 1313.4,823.3 1314.9,824.7 1316.4,826.0 1317.9,827.3 1319.4,828.6 1320.9,830.0 1322.4,831.3 1323.9,832.6 1325.3,834.0 1326.8,835.3 1328.3,836.7 1329.8,838.0 1331.2,839.4 1332.7,840.8 1334.2,842.1 1335.6,843.5 1337.1,844.9 1338.6,846.2 1340.0,847.6 1341.5,848.9 1343.0,850.3 1344.5,851.6 1346.0,853.0 1347.4,854.3 1348.9,855.7 1350.3,857.1 1351.8,858.5 1353.2,859.9 1354.5,861.3 1355.9,862.8 1357.2,864.3 1358.4,865.9 1359.6,867.5 1360.8,869.1 1361.9,870.8 1363.0,872.4 1364.0,874.1 1365.0,875.9 1366.1,877.6 1367.1,879.3 1368.1,881.0 1369.1,882.7 1370.2,884.4 1371.2,886.1 1372.3,887.8 1373.4,889.5 1374.6,891.1 1375.7,892.8 1376.9,894.4 1378.1,896.0 1379.3,897.6 1380.4,899.2 1381.6,900.8 1382.9,902.4 1384.1,904.0 1385.3,905.6 1386.5,907.2 1387.7,908.8 1389.0,910.3 1390.2,911.9 1391.5,913.4 1392.8,915.0 1394.0,916.5 1395.3,918.1 1396.6,919.6 1397.9,921.2 1399.1,922.7 1400.4,924.3 1401.6,925.8 1402.9,927.4 1404.1,929.0 1405.3,930.6 1406.5,932.2 1407.7,933.8 1408.8,935.4 1410.0,937.1 1411.1,938.7 1412.3,940.4 1413.4,942.0 1414.5,943.7 1415.6,945.3 1416.8,947.0 1417.9,948.7 1419.0,950.3 1420.1,952.0 1421.3,953.6 1422.4,955.3 1423.5,956.9 1424.6,958.6 1425.8,960.2 1426.9,961.9 1428.0,963.5 1429.2,965.2 1430.3,966.8 1431.5,968.5 1432.6,970.1 1433.8,971.7 1434.9,973.4 1436.1,975.0 1437.2,976.6 1438.4,978.3 1439.5,979.9 1440.7,981.5 1441.9,983.2 1443.0,984.8 1444.2,986.4 1445.4,988.0 1446.5,989.7 1447.7,991.3 1448.9,992.9 1450.1,994.5 1451.2,996.1 1452.4,997.8 1453.6,999.4 1454.8,1001.0 1456.0,1002.6 1457.2,1004.2 1458.4,1005.8 1459.6,1007.4 1460.8,1009.0 1462.0,1010.6 1463.2,1012.2 1464.4,1013.8 1465.7,1015.3 1466.9,1016.9 1468.2,1018.5 1469.4,1020.0 1470.7,1021.6 1471.9,1023.2 1473.2,1024.7 1474.5,1026.2 1475.8,1027.8 1477.1,1029.3 1478.4,1030.8 1479.7,1032.3 1481.0,1033.8 1482.4,1035.3 1483.8,1036.7 1485.1,1038.2 1486.5,1039.6 1488.0,1041.0 1489.4,1042.4 1490.8,1043.8 1492.3,1045.2 1493.8,1046.5 1495.2,1047.9 1496.7,1049.2 1498.2,1050.5 1499.7,1051.8 1501.2,1053.2 1502.8,1054.5 1504.3,1055.8 1505.8,1057.1 1507.3,1058.4 1508.9,1059.7 1510.4,1061.0 1511.9,1062.3 1513.4,1063.6 1515.0,1064.8 1516.5,1066.2 1518.0,1067.5 1519.5,1068.8 1521.0,1070.1 1522.5,1071.4 1524.0,1072.7 1525.5,1074.1 1527.0,1075.4 1528.4,1076.8 1529.9,1078.2 1531.3,1079.6 1532.7,1081.0 1534.2,1082.4 1535.6,1083.8 1537.0,1085.2 1538.4,1086.6 1539.9,1088.0 1541.3,1089.4 1542.7,1090.8 1544.2,1092.2 1545.6,1093.6 1547.1,1094.9 1548.6,1096.3 1550.1,1097.6 1551.5,1098.9 1553.1,1100.3 1554.6,1101.6 1556.1,1102.9 1557.6,1104.2 1559.1,1105.5 1560.7,1106.8 1562.2,1108.0 1563.7,1109.3 1565.3,1110.6 1566.8,1111.9 1568.4,1113.1 1569.9,1114.4 1571.5,1115.6 1573.1,1116.9 1574.6,1118.1 1576.2,1119.3 1577.8,1120.5 1579.4,1121.7 1581.1,1122.9 1582.7,1124.1 1584.3,1125.2 1586.0,1126.3 1587.7,1127.4 1589.3,1128.5 1591.0,1129.6 1592.7,1130.8 1594.3,1131.9 1596.0,1133.0 1597.7,1134.1 1599.3,1135.1 1601.0,1136.2 1602.7,1137.3 1604.4,1138.3 1606.1,1139.4 1607.9,1140.4 1609.6,1141.4 1611.4,1142.3 1613.1,1143.3 1614.9,1144.2 1616.7,1145.1 1618.5,1146.0 1620.3,1146.9 1622.1,1147.8 1623.9,1148.6 1625.7,1149.5 1627.5,1150.3 1629.3,1151.2 1631.1,1152.0 1633.0,1152.8 1634.8,1153.6 1636.6,1154.5 1638.4,1155.3 1640.3,1156.1 1642.1,1156.9 1643.9,1157.7 1645.8,1158.5 1647.6,1159.3 1649.4,1160.1 1651.3,1160.9 1653.1,1161.7 1654.9,1162.5 1656.7,1163.4 1658.6,1164.2 1660.4,1165.0 1662.2,1165.8 1664.0,1166.7 1665.8,1167.5 1667.7,1168.4 1669.5,1169.2 1671.3,1170.1 1673.1,1170.9 1674.9,1171.8 1676.7,1172.6 1678.6,1173.4 1680.4,1174.1 1682.3,1174.9 1684.1,1175.6 1686.0,1176.3 1687.9,1177.0 1689.8,1177.6 1691.7,1178.3 1693.6,1178.9 1695.5,1179.5 1697.4,1180.1 1699.3,1180.7 1701.2,1181.3 1703.1,1181.9 1705.0,1182.5 1707.0,1183.0 1708.9,1183.6 1710.8,1184.1 1712.7,1184.7 1714.7,1185.2 1716.6,1185.8 1718.5,1186.3 1720.5,1186.8 1722.4,1187.3 1724.3,1187.9 1726.3,1188.4 1728.2,1188.9 1730.1,1189.4 1732.1,1189.9 1734.0,1190.3 1736.0,1190.8 1737.9,1191.2 1739.9,1191.7 1741.8,1192.1 1743.8,1192.5 1745.7,1192.9 1747.7,1193.3 1749.7,1193.6 1751.6,1194.0 1753.6,1194.4 1755.6,1194.7 1757.6,1195.1 1759.5,1195.5 1761.5,1195.9 1763.4,1196.3 1765.4,1196.7 1767.3,1197.2 1769.3,1197.7 1771.2,1198.1 1773.2,1198.6 1775.1,1199.2 1777.0,1199.7 1778.9,1200.2 1780.9,1200.8 1782.8,1201.3 1784.7,1201.9 1786.7,1202.4 1788.6,1202.9 1790.5,1203.5 1792.4,1204.0 1794.4,1204.6 1796.3,1205.1 1798.2,1205.6 1800.2,1206.1 1802.1,1206.6 1804.0,1207.1 1806.0,1207.6 1807.9,1208.1 1809.9,1208.5 1811.8,1208.9 1813.8,1209.4 1815.7,1209.8 1817.7,1210.2 1819.7,1210.6 1821.6,1210.9 1823.6,1211.3 1825.6,1211.6 1827.6,1212.0 1829.5,1212.3 1831.5,1212.6 1833.5,1212.9 1835.5,1213.2 1837.4,1213.5 1839.4,1213.7 1841.4,1214.0 1843.4,1214.3 1845.4,1214.6 1847.4,1214.8 1849.3,1215.1 1851.3,1215.3 1853.3,1215.5 1855.3,1215.8 1857.3,1216.0 1859.3,1216.2 1861.3,1216.5 1863.3,1216.7 1865.3,1216.9 1867.2,1217.1 1869.2,1217.3 1871.2,1217.5 1873.2,1217.7 1875.2,1217.9 1877.2,1218.1 1879.2,1218.3 1881.2,1218.5 1883.2,1218.7 1885.2,1218.9 1887.2,1219.1 1889.1,1219.3 1891.1,1219.5 1893.1,1219.7 1895.1,1219.9 1897.1,1220.0 1899.1,1220.2 1901.1,1220.4 1903.1,1220.6 1905.1,1220.8 1907.1,1220.9 1909.1,1221.1 1911.1,1221.3 1913.1,1221.4 1915.1,1221.6 1917.1,1221.7 1919.1,1221.9 1921.1,1222.0 1923.1,1222.2 1925.0,1222.3 1927.0,1222.4 1929.0,1222.6 1931.0,1222.7 1933.0,1222.8 1935.0,1223.0 1937.0,1223.1 1939.0,1223.2 1941.0,1223.3 1943.0,1223.4 1945.0,1223.5 1947.0,1223.7 1949.0,1223.8 1951.0,1223.9 1953.0,1224.0 1955.0,1224.1 1957.0,1224.3 1959.0,1224.4 1961.0,1224.5 1963.0,1224.6 1965.0,1224.7 1967.0,1224.9 1969.0,1225.0" stroke="#00B050" stroke-width="7" fill="none" stroke-linejoin="round" stroke-linecap="butt" stroke-dasharray="56.7 24.9"/>
<path d="M982.6,1224.1L984.5,1223.5 986.4,1222.9 988.3,1222.3 990.2,1221.7 992.1,1221.1 994.0,1220.5 995.9,1219.9 997.8,1219.2 999.7,1218.6 1001.6,1217.9 1003.5,1217.2 1005.3,1216.4 1007.2,1215.7 1009.0,1214.9 1010.9,1214.1 1012.7,1213.3 1014.5,1212.5 1016.3,1211.6 1018.1,1210.8 1019.9,1209.9 1021.7,1209.0 1023.5,1208.0 1025.2,1207.1 1027.0,1206.1 1028.7,1205.1 1030.4,1204.0 1032.1,1203.0 1033.7,1201.9 1035.4,1200.7 1037.0,1199.6 1038.6,1198.4 1040.2,1197.2 1041.8,1196.0 1043.4,1194.7 1044.9,1193.5 1046.5,1192.2 1048.0,1190.9 1049.5,1189.6 1051.0,1188.2 1052.4,1186.9 1053.9,1185.5 1055.3,1184.1 1056.8,1182.7 1058.1,1181.3 1059.5,1179.8 1060.8,1178.3 1062.1,1176.8 1063.4,1175.2 1064.6,1173.7 1065.7,1172.0 1066.8,1170.4 1067.9,1168.7 1068.9,1167.0 1070.0,1165.3 1070.9,1163.5 1071.9,1161.8 1072.8,1160.0 1073.7,1158.2 1074.6,1156.4 1075.5,1154.6 1076.4,1152.8 1077.2,1151.0 1078.1,1149.2 1078.9,1147.4 1079.8,1145.6 1080.6,1143.8 1081.5,1142.0 1082.3,1140.2 1083.2,1138.3 1084.0,1136.5 1084.9,1134.7 1085.7,1132.9 1086.5,1131.1 1087.3,1129.2 1088.1,1127.4 1088.9,1125.6 1089.7,1123.7 1090.5,1121.9 1091.2,1120.0 1092.0,1118.2 1092.7,1116.3 1093.4,1114.4 1094.1,1112.6 1094.8,1110.7 1095.4,1108.8 1096.1,1106.9 1096.7,1105.0 1097.4,1103.1 1098.0,1101.2 1098.6,1099.3 1099.2,1097.4 1099.8,1095.5 1100.4,1093.6 1101.0,1091.7 1101.6,1089.8 1102.2,1087.8 1102.8,1085.9 1103.4,1084.0 1103.9,1082.1 1104.5,1080.2 1105.1,1078.3 1105.7,1076.4 1106.2,1074.4 1106.8,1072.5 1107.4,1070.6 1108.0,1068.7 1108.6,1066.8 1109.2,1064.9 1109.8,1063.0 1110.4,1061.1 1111.0,1059.2 1111.6,1057.3 1112.2,1055.4 1112.9,1053.5 1113.5,1051.6 1114.1,1049.6 1114.7,1047.7 1115.3,1045.8 1115.9,1043.9 1116.5,1042.0 1117.1,1040.1 1117.7,1038.2 1118.3,1036.3 1118.8,1034.4 1119.4,1032.4 1120.0,1030.5 1120.5,1028.6 1121.1,1026.7 1121.6,1024.8 1122.2,1022.8 1122.7,1020.9 1123.3,1019.0 1123.8,1017.1 1124.4,1015.1 1124.9,1013.2 1125.4,1011.3 1126.0,1009.4 1126.5,1007.4 1127.1,1005.5 1127.6,1003.6 1128.2,1001.7 1128.7,999.7 1129.3,997.8 1129.8,995.9 1130.4,994.0 1130.9,992.0 1131.5,990.1 1132.1,988.2 1132.7,986.3 1133.2,984.4 1133.8,982.5 1134.4,980.6 1135.0,978.6 1135.6,976.7 1136.2,974.8 1136.8,972.9 1137.5,971.0 1138.1,969.1 1138.7,967.2 1139.3,965.3 1139.9,963.4 1140.6,961.5 1141.2,959.6 1141.8,957.7 1142.4,955.8 1143.1,953.9 1143.7,952.0 1144.3,950.1 1144.9,948.2 1145.5,946.3 1146.2,944.4 1146.8,942.5 1147.4,940.6 1148.0,938.7 1148.6,936.8 1149.3,934.9 1149.9,933.0 1150.5,931.1 1151.1,929.2 1151.8,927.3 1152.4,925.4 1153.1,923.5 1153.7,921.6 1154.3,919.7 1155.0,917.8 1155.6,915.9 1156.3,914.0 1157.0,912.2 1157.7,910.3 1158.3,908.4 1159.0,906.5 1159.7,904.6 1160.4,902.8 1161.1,900.9 1161.8,899.0 1162.6,897.2 1163.3,895.3 1164.0,893.4 1164.8,891.6 1165.6,889.8 1166.4,887.9 1167.2,886.1 1168.1,884.3 1168.9,882.5 1169.8,880.7 1170.8,878.9 1171.7,877.2 1172.7,875.4 1173.7,873.7 1174.7,872.0 1175.8,870.3 1176.9,868.6 1178.0,867.0 1179.1,865.3 1180.3,863.7 1181.5,862.1 1182.8,860.6 1184.1,859.1 1185.4,857.6 1186.8,856.2 1188.2,854.8 1189.7,853.6 1191.3,852.4 1193.0,851.4 1194.7,850.5 1196.5,849.6 1198.3,848.9 1200.2,848.3 1202.1,847.7 1204.0,847.1 1205.9,846.6 1207.9,846.1 1209.8,845.6 1211.8,845.2 1213.7,844.8 1215.7,844.4 1217.7,844.1 1219.6,843.9 1221.6,843.8 1223.6,843.7 1225.6,843.7 1227.6,843.8 1229.5,844.0 1231.5,844.3 1233.4,844.7 1235.3,845.2 1237.2,845.8 1239.1,846.5 1240.9,847.3 1242.7,848.1 1244.5,849.0 1246.2,849.9 1248.0,850.9 1249.7,851.9 1251.4,852.9 1253.1,853.9 1254.8,855.0 1256.5,856.1 1258.2,857.1 1259.9,858.2 1261.6,859.3 1263.2,860.4 1264.9,861.6 1266.5,862.7 1268.1,863.9 1269.8,865.1 1271.4,866.2 1273.0,867.4 1274.6,868.6 1276.2,869.8 1277.8,871.0 1279.4,872.2 1281.0,873.5 1282.5,874.7 1284.1,875.9 1285.7,877.1 1287.3,878.3 1288.9,879.6 1290.5,880.8 1292.1,882.0 1293.7,883.2 1295.3,884.4 1296.9,885.6 1298.5,886.8 1300.1,888.0 1301.7,889.1 1303.3,890.3 1305.0,891.4 1306.6,892.6 1308.2,893.7 1309.9,894.9 1311.5,896.1 1313.1,897.2 1314.8,898.4 1316.4,899.6 1318.0,900.8 1319.6,902.0 1321.1,903.2 1322.7,904.4 1324.3,905.7 1325.9,906.9 1327.4,908.2 1329.0,909.4 1330.6,910.7 1332.1,911.9 1333.6,913.2 1335.2,914.5 1336.7,915.8 1338.2,917.1 1339.7,918.4 1341.2,919.7 1342.7,921.1 1344.2,922.4 1345.6,923.8 1347.1,925.2 1348.5,926.6 1349.9,928.0 1351.3,929.4 1352.8,930.8 1354.2,932.2 1355.6,933.7 1357.0,935.1 1358.4,936.5 1359.8,937.9 1361.2,939.4 1362.6,940.8 1364.0,942.2 1365.5,943.6 1366.9,945.0 1368.3,946.4 1369.8,947.8 1371.2,949.2 1372.6,950.5 1374.1,951.9 1375.5,953.3 1377.0,954.7 1378.4,956.1 1379.9,957.4 1381.4,958.8 1382.9,960.1 1384.4,961.4 1385.8,962.8 1387.3,964.1 1388.8,965.4 1390.4,966.7 1391.9,968.1 1393.4,969.4 1394.8,970.7 1396.3,972.1 1397.8,973.4 1399.2,974.8 1400.7,976.2 1402.1,977.6 1403.5,979.0 1404.8,980.5 1406.2,982.0 1407.5,983.5 1408.9,985.0 1410.2,986.5 1411.5,988.0 1412.8,989.5 1414.1,991.0 1415.4,992.5 1416.8,993.9 1418.2,995.4 1419.6,996.8 1421.0,998.2 1422.5,999.5 1424.0,1000.9 1425.5,1002.2 1426.9,1003.5 1428.4,1004.9 1429.8,1006.3 1431.2,1007.7 1432.5,1009.2 1433.8,1010.7 1435.1,1012.3 1436.3,1013.8 1437.5,1015.4 1438.8,1017.0 1439.9,1018.6 1441.1,1020.2 1442.3,1021.8 1443.5,1023.5 1444.7,1025.1 1445.9,1026.7 1447.1,1028.3 1448.3,1029.9 1449.5,1031.4 1450.8,1033.0 1452.0,1034.6 1453.3,1036.1 1454.6,1037.6 1455.9,1039.1 1457.3,1040.6 1458.6,1042.1 1460.0,1043.5 1461.4,1045.0 1462.8,1046.4 1464.2,1047.8 1465.6,1049.2 1467.0,1050.6 1468.5,1052.0 1469.9,1053.4 1471.4,1054.8 1472.8,1056.1 1474.3,1057.5 1475.7,1058.9 1477.2,1060.3 1478.6,1061.6 1480.1,1063.0 1481.6,1064.4 1483.0,1065.8 1484.5,1067.1 1485.9,1068.5 1487.4,1069.9 1488.9,1071.2 1490.3,1072.6 1491.8,1073.9 1493.3,1075.3 1494.7,1076.7 1496.2,1078.0 1497.7,1079.3 1499.2,1080.7 1500.7,1082.0 1502.2,1083.3 1503.7,1084.6 1505.2,1085.9 1506.8,1087.2 1508.3,1088.5 1509.8,1089.8 1511.4,1091.0 1513.0,1092.3 1514.6,1093.5 1516.2,1094.7 1517.8,1095.8 1519.4,1097.0 1521.1,1098.1 1522.7,1099.2 1524.4,1100.3 1526.1,1101.4 1527.8,1102.4 1529.5,1103.5 1531.2,1104.5 1532.9,1105.6 1534.6,1106.7 1536.3,1107.8 1537.9,1108.8 1539.6,1109.9 1541.3,1111.1 1542.9,1112.2 1544.6,1113.3 1546.2,1114.4 1547.9,1115.6 1549.5,1116.7 1551.2,1117.8 1552.8,1119.0 1554.5,1120.1 1556.1,1121.3 1557.8,1122.4 1559.4,1123.5 1561.1,1124.7 1562.7,1125.8 1564.3,1126.9 1566.0,1128.1 1567.7,1129.2 1569.3,1130.3 1571.0,1131.4 1572.6,1132.5 1574.3,1133.6 1576.0,1134.7 1577.7,1135.8 1579.4,1136.9 1581.1,1137.9 1582.8,1139.0 1584.5,1140.0 1586.2,1141.1 1587.9,1142.1 1589.6,1143.1 1591.3,1144.1 1593.1,1145.1 1594.8,1146.1 1596.6,1147.1 1598.3,1148.0 1600.1,1149.0 1601.9,1149.9 1603.7,1150.8 1605.5,1151.7 1607.3,1152.5 1609.1,1153.4 1610.9,1154.2 1612.7,1155.0 1614.6,1155.8 1616.4,1156.6 1618.2,1157.3 1620.1,1158.1 1622.0,1158.8 1623.8,1159.6 1625.7,1160.3 1627.5,1161.0 1629.4,1161.8 1631.3,1162.5 1633.1,1163.2 1635.0,1163.9 1636.9,1164.6 1638.7,1165.3 1640.6,1166.0 1642.5,1166.8 1644.4,1167.5 1646.2,1168.2 1648.1,1168.9 1649.9,1169.7 1651.8,1170.4 1653.7,1171.2 1655.5,1171.9 1657.3,1172.7 1659.2,1173.5 1661.0,1174.3 1662.8,1175.2 1664.6,1176.0 1666.4,1176.9 1668.2,1177.7 1670.0,1178.6 1671.8,1179.5 1673.7,1180.3 1675.5,1181.1 1677.3,1181.9 1679.2,1182.7 1681.0,1183.4 1682.9,1184.1 1684.8,1184.8 1686.7,1185.4 1688.6,1186.0 1690.5,1186.6 1692.4,1187.2 1694.3,1187.8 1696.2,1188.4 1698.2,1188.9 1700.1,1189.5 1702.0,1190.0 1703.9,1190.5 1705.9,1191.0 1707.8,1191.5 1709.7,1192.0 1711.7,1192.5 1713.6,1193.0 1715.6,1193.5 1717.5,1194.0 1719.4,1194.5 1721.4,1194.9 1723.3,1195.4 1725.3,1195.9 1727.2,1196.4 1729.2,1196.8 1731.1,1197.3 1733.1,1197.8 1735.0,1198.2 1737.0,1198.7 1738.9,1199.1 1740.8,1199.6 1742.8,1200.1 1744.7,1200.5 1746.7,1200.9 1748.6,1201.4 1750.6,1201.8 1752.6,1202.2 1754.5,1202.6 1756.5,1203.0 1758.4,1203.4 1760.4,1203.8 1762.4,1204.2 1764.3,1204.6 1766.3,1204.9 1768.3,1205.3 1770.2,1205.7 1772.2,1206.0 1774.2,1206.4 1776.1,1206.7 1778.1,1207.1 1780.1,1207.4 1782.1,1207.8 1784.0,1208.1 1786.0,1208.4 1788.0,1208.8 1789.9,1209.1 1791.9,1209.4 1793.9,1209.7 1795.9,1210.0 1797.8,1210.4 1799.8,1210.7 1801.8,1211.0 1803.8,1211.3 1805.8,1211.6 1807.7,1211.9 1809.7,1212.2 1811.7,1212.4 1813.7,1212.7 1815.7,1213.0 1817.6,1213.3 1819.6,1213.6 1821.6,1213.8 1823.6,1214.1 1825.6,1214.4 1827.5,1214.6 1829.5,1214.9 1831.5,1215.2 1833.5,1215.4 1835.5,1215.7 1837.5,1215.9 1839.5,1216.2 1841.4,1216.4 1843.4,1216.7 1845.4,1216.9 1847.4,1217.2 1849.4,1217.4 1851.4,1217.7 1853.4,1217.9 1855.3,1218.1 1857.3,1218.4 1859.3,1218.6 1861.3,1218.8 1863.3,1219.1 1865.3,1219.3 1867.3,1219.5 1869.3,1219.7 1871.2,1219.9 1873.2,1220.2 1875.2,1220.4 1877.2,1220.6 1879.2,1220.8 1881.2,1221.0 1883.2,1221.2 1885.2,1221.4 1887.2,1221.6 1889.2,1221.8 1891.1,1222.0 1893.1,1222.2 1895.1,1222.4 1897.1,1222.5 1899.1,1222.7 1901.1,1222.9 1903.1,1223.1 1905.1,1223.2 1907.1,1223.4 1909.1,1223.6 1911.1,1223.7 1913.1,1223.9 1915.1,1224.0 1917.1,1224.1 1919.1,1224.3 1921.1,1224.4 1923.1,1224.5 1925.0,1224.6 1927.0,1224.8 1929.0,1224.9 1931.0,1225.0 1933.0,1225.1 1935.0,1225.2 1937.0,1225.3 1939.0,1225.4 1941.0,1225.5 1943.0,1225.6 1945.0,1225.7 1947.0,1225.8 1949.0,1225.9 1951.0,1226.0 1953.0,1226.1 1955.0,1226.2 1957.0,1226.3 1959.0,1226.4 1961.0,1226.6 1963.0,1226.7 1965.0,1226.8 1967.0,1226.9 1969.0,1227.0" stroke="#00FFFF" stroke-width="7" fill="none" stroke-linejoin="round" stroke-linecap="butt" stroke-dasharray="56.7 24.9"/>
<line x1="1672.5" y1="189.8" x2="1772.5" y2="189.8" stroke="#FF0000" stroke-width="7" stroke-linecap="round"/>
<line x1="1672.5" y1="361.5" x2="1772.5" y2="361.5" stroke="#0000FF" stroke-width="7" stroke-linecap="round"/>
<line x1="1672.5" y1="534.8" x2="1772.5" y2="534.8" stroke="#FF00FF" stroke-width="7" stroke-linecap="round"/>
<line x1="1672.5" y1="708.0" x2="1772.5" y2="708.0" stroke="#00B050" stroke-width="7" stroke-linecap="round"/>
<line x1="1672.5" y1="881.5" x2="1772.5" y2="881.5" stroke="#00FFFF" stroke-width="7" stroke-linecap="round"/>
<g font-size="73">
<text transform="translate(236.0,1255.8) scale(1,1.020)" text-anchor="end">0</text>
<text transform="translate(236.0,1020.9) scale(1,1.020)" text-anchor="end">0.2</text>
<text transform="translate(236.0,786.1) scale(1,1.020)" text-anchor="end">0.4</text>
<text transform="translate(236.0,551.2) scale(1,1.020)" text-anchor="end">0.6</text>
<text transform="translate(236.0,316.3) scale(1,1.020)" text-anchor="end">0.8</text>
<text transform="translate(236.0,84.8) scale(1,1.020)" text-anchor="end">1</text>
<text transform="translate(2031.0,1255.8) scale(1,1.020)">0</text>
<text transform="translate(2031.0,1020.9) scale(1,1.020)">200</text>
<text transform="translate(2031.0,786.1) scale(1,1.020)">400</text>
<text transform="translate(2031.0,551.2) scale(1,1.020)">600</text>
<text transform="translate(2031.0,316.3) scale(1,1.020)">800</text>
<text transform="translate(2031.0,84.8) scale(1,1.020)">1000</text>
<text transform="translate(298.0,1343.0) scale(1,1.020)" text-anchor="middle">300</text>
<text transform="translate(575.2,1343.0) scale(1,1.020)" text-anchor="middle">350</text>
<text transform="translate(854.9,1343.0) scale(1,1.020)" text-anchor="middle">400</text>
<text transform="translate(1132.9,1343.0) scale(1,1.020)" text-anchor="middle">450</text>
<text transform="translate(1412.9,1343.0) scale(1,1.020)" text-anchor="middle">500</text>
<text transform="translate(1690.5,1343.0) scale(1,1.020)" text-anchor="middle">550</text>
<text transform="translate(1970.5,1343.0) scale(1,1.020)" text-anchor="middle">600</text>
<text transform="translate(1133.5,1423.0) scale(1,1.020)" text-anchor="middle">Wavelength (nm)</text>
<text transform="translate(72.0,723.5) rotate(-90) scale(1,1.020)" text-anchor="middle">Absorbance</text>
<text transform="translate(2264.5,691.5) rotate(-90) scale(1,1.020)" text-anchor="middle">Emission intensity (a.u.)</text>
<text transform="translate(1782.0,210.3)">2d</text>
<text transform="translate(1782.0,382.0)">3d</text>
<text transform="translate(1782.0,555.3)">4d</text>
<text transform="translate(1782.0,728.5)">6a</text>
<text transform="translate(1782.0,902.0)">6b</text>
</g>
</svg>
</body></html>
